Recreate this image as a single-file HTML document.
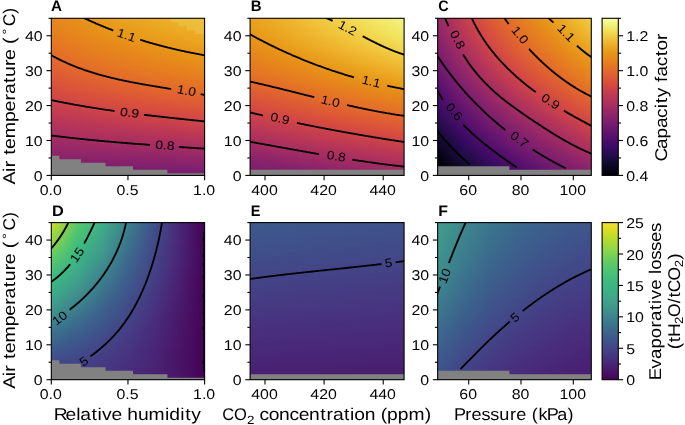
<!DOCTYPE html>
<html><head><meta charset="utf-8"><title>Figure</title>
<style>
html,body{margin:0;padding:0;background:#fff;}
svg{display:block;font-family:"Liberation Sans",sans-serif;fill:#000;}
text{-webkit-font-smoothing:antialiased;text-rendering:geometricPrecision;}
</style></head><body>
<svg width="685" height="425" viewBox="0 0 685 425">
<defs>
<clipPath id="cpA"><rect x="51.3" y="18.3" width="153.30" height="157.10"/></clipPath>
<linearGradient id="gA0"><stop offset="0.000" stop-color="#e6841b"/><stop offset="0.167" stop-color="#e79117"/><stop offset="0.333" stop-color="#e99c1a"/><stop offset="0.500" stop-color="#eba520"/><stop offset="0.667" stop-color="#ecaa24"/><stop offset="0.833" stop-color="#eeb22a"/><stop offset="1.000" stop-color="#eeb62d"/></linearGradient>
<linearGradient id="gA1"><stop offset="0.000" stop-color="#e6841b"/><stop offset="0.167" stop-color="#e79018"/><stop offset="0.333" stop-color="#e99a19"/><stop offset="0.500" stop-color="#eaa31e"/><stop offset="0.667" stop-color="#ecaa24"/><stop offset="0.833" stop-color="#edb028"/><stop offset="1.000" stop-color="#eeb62d"/></linearGradient>
<linearGradient id="gA2"><stop offset="0.000" stop-color="#e6831c"/><stop offset="0.167" stop-color="#e78e18"/><stop offset="0.333" stop-color="#e89818"/><stop offset="0.500" stop-color="#eaa11d"/><stop offset="0.667" stop-color="#eca922"/><stop offset="0.833" stop-color="#edae27"/><stop offset="1.000" stop-color="#eeb42c"/></linearGradient>
<linearGradient id="gA3"><stop offset="0.000" stop-color="#e6811d"/><stop offset="0.167" stop-color="#e78c18"/><stop offset="0.333" stop-color="#e89618"/><stop offset="0.500" stop-color="#e99f1c"/><stop offset="0.667" stop-color="#eba721"/><stop offset="0.833" stop-color="#ecac25"/><stop offset="1.000" stop-color="#eeb22a"/></linearGradient>
<linearGradient id="gA4"><stop offset="0.000" stop-color="#e6801d"/><stop offset="0.167" stop-color="#e68b19"/><stop offset="0.333" stop-color="#e89518"/><stop offset="0.500" stop-color="#e99d1b"/><stop offset="0.667" stop-color="#eba520"/><stop offset="0.833" stop-color="#ecac25"/><stop offset="1.000" stop-color="#eeb22a"/></linearGradient>
<linearGradient id="gA5"><stop offset="0.000" stop-color="#e67e1e"/><stop offset="0.167" stop-color="#e68b19"/><stop offset="0.333" stop-color="#e89518"/><stop offset="0.500" stop-color="#e99c1a"/><stop offset="0.667" stop-color="#eaa31e"/><stop offset="0.833" stop-color="#ecaa24"/><stop offset="1.000" stop-color="#edb028"/></linearGradient>
<linearGradient id="gA6"><stop offset="0.000" stop-color="#e67d1f"/><stop offset="0.167" stop-color="#e68919"/><stop offset="0.333" stop-color="#e89317"/><stop offset="0.500" stop-color="#e99a19"/><stop offset="0.667" stop-color="#eaa31e"/><stop offset="0.833" stop-color="#eca922"/><stop offset="1.000" stop-color="#edae27"/></linearGradient>
<linearGradient id="gA7"><stop offset="0.000" stop-color="#e67d1f"/><stop offset="0.167" stop-color="#e6881a"/><stop offset="0.333" stop-color="#e79117"/><stop offset="0.500" stop-color="#e99a19"/><stop offset="0.667" stop-color="#eaa11d"/><stop offset="0.833" stop-color="#eba721"/><stop offset="1.000" stop-color="#ecac25"/></linearGradient>
<linearGradient id="gA8"><stop offset="0.000" stop-color="#e67b20"/><stop offset="0.167" stop-color="#e6861b"/><stop offset="0.333" stop-color="#e79018"/><stop offset="0.500" stop-color="#e89818"/><stop offset="0.667" stop-color="#e99f1c"/><stop offset="0.833" stop-color="#eba520"/><stop offset="1.000" stop-color="#ecaa24"/></linearGradient>
<linearGradient id="gA9"><stop offset="0.000" stop-color="#e57921"/><stop offset="0.167" stop-color="#e6841b"/><stop offset="0.333" stop-color="#e78e18"/><stop offset="0.500" stop-color="#e89618"/><stop offset="0.667" stop-color="#e99d1b"/><stop offset="0.833" stop-color="#eaa31e"/><stop offset="1.000" stop-color="#eca922"/></linearGradient>
<linearGradient id="gA10"><stop offset="0.000" stop-color="#e57821"/><stop offset="0.167" stop-color="#e6831c"/><stop offset="0.333" stop-color="#e78c18"/><stop offset="0.500" stop-color="#e89317"/><stop offset="0.667" stop-color="#e99c1a"/><stop offset="0.833" stop-color="#eaa11d"/><stop offset="1.000" stop-color="#eba721"/></linearGradient>
<linearGradient id="gA11"><stop offset="0.000" stop-color="#e57622"/><stop offset="0.167" stop-color="#e6811d"/><stop offset="0.333" stop-color="#e68b19"/><stop offset="0.500" stop-color="#e79117"/><stop offset="0.667" stop-color="#e99a19"/><stop offset="0.833" stop-color="#e99f1c"/><stop offset="1.000" stop-color="#eba721"/></linearGradient>
<linearGradient id="gA12"><stop offset="0.000" stop-color="#e57523"/><stop offset="0.167" stop-color="#e6801d"/><stop offset="0.333" stop-color="#e6881a"/><stop offset="0.500" stop-color="#e79018"/><stop offset="0.667" stop-color="#e89618"/><stop offset="0.833" stop-color="#e99d1b"/><stop offset="1.000" stop-color="#eaa31e"/></linearGradient>
<linearGradient id="gA13"><stop offset="0.000" stop-color="#e57324"/><stop offset="0.167" stop-color="#e67e1e"/><stop offset="0.333" stop-color="#e6861b"/><stop offset="0.500" stop-color="#e78e18"/><stop offset="0.667" stop-color="#e89518"/><stop offset="0.833" stop-color="#e99c1a"/><stop offset="1.000" stop-color="#eaa11d"/></linearGradient>
<linearGradient id="gA14"><stop offset="0.000" stop-color="#e57225"/><stop offset="0.167" stop-color="#e67b20"/><stop offset="0.333" stop-color="#e6841b"/><stop offset="0.500" stop-color="#e78c18"/><stop offset="0.667" stop-color="#e89317"/><stop offset="0.833" stop-color="#e99a19"/><stop offset="1.000" stop-color="#e99f1c"/></linearGradient>
<linearGradient id="gA15"><stop offset="0.000" stop-color="#e46f26"/><stop offset="0.167" stop-color="#e57921"/><stop offset="0.333" stop-color="#e6831c"/><stop offset="0.500" stop-color="#e68b19"/><stop offset="0.667" stop-color="#e79117"/><stop offset="0.833" stop-color="#e89818"/><stop offset="1.000" stop-color="#e99d1b"/></linearGradient>
<linearGradient id="gA16"><stop offset="0.000" stop-color="#e46d27"/><stop offset="0.167" stop-color="#e57821"/><stop offset="0.333" stop-color="#e6811d"/><stop offset="0.500" stop-color="#e68919"/><stop offset="0.667" stop-color="#e79018"/><stop offset="0.833" stop-color="#e89618"/><stop offset="1.000" stop-color="#e99c1a"/></linearGradient>
<linearGradient id="gA17"><stop offset="0.000" stop-color="#e36c28"/><stop offset="0.167" stop-color="#e57622"/><stop offset="0.333" stop-color="#e6801d"/><stop offset="0.500" stop-color="#e6861b"/><stop offset="0.667" stop-color="#e78e18"/><stop offset="0.833" stop-color="#e89317"/><stop offset="1.000" stop-color="#e99a19"/></linearGradient>
<linearGradient id="gA18"><stop offset="0.000" stop-color="#e36a29"/><stop offset="0.167" stop-color="#e57523"/><stop offset="0.333" stop-color="#e67d1f"/><stop offset="0.500" stop-color="#e6841b"/><stop offset="0.667" stop-color="#e68b19"/><stop offset="0.833" stop-color="#e79117"/><stop offset="1.000" stop-color="#e89818"/></linearGradient>
<linearGradient id="gA19"><stop offset="0.000" stop-color="#e3692a"/><stop offset="0.167" stop-color="#e57324"/><stop offset="0.333" stop-color="#e67b20"/><stop offset="0.500" stop-color="#e6831c"/><stop offset="0.667" stop-color="#e68919"/><stop offset="0.833" stop-color="#e79018"/><stop offset="1.000" stop-color="#e89518"/></linearGradient>
<linearGradient id="gA20"><stop offset="0.000" stop-color="#e2672b"/><stop offset="0.167" stop-color="#e47026"/><stop offset="0.333" stop-color="#e57921"/><stop offset="0.500" stop-color="#e6811d"/><stop offset="0.667" stop-color="#e6881a"/><stop offset="0.833" stop-color="#e78c18"/><stop offset="1.000" stop-color="#e89317"/></linearGradient>
<linearGradient id="gA21"><stop offset="0.000" stop-color="#e2662c"/><stop offset="0.167" stop-color="#e46f26"/><stop offset="0.333" stop-color="#e57821"/><stop offset="0.500" stop-color="#e67e1e"/><stop offset="0.667" stop-color="#e6841b"/><stop offset="0.833" stop-color="#e68b19"/><stop offset="1.000" stop-color="#e79117"/></linearGradient>
<linearGradient id="gA22"><stop offset="0.000" stop-color="#e1632e"/><stop offset="0.167" stop-color="#e46d27"/><stop offset="0.333" stop-color="#e57523"/><stop offset="0.500" stop-color="#e67d1f"/><stop offset="0.667" stop-color="#e6831c"/><stop offset="0.833" stop-color="#e68919"/><stop offset="1.000" stop-color="#e78e18"/></linearGradient>
<linearGradient id="gA23"><stop offset="0.000" stop-color="#e1612f"/><stop offset="0.167" stop-color="#e36c28"/><stop offset="0.333" stop-color="#e57324"/><stop offset="0.500" stop-color="#e67b20"/><stop offset="0.667" stop-color="#e6811d"/><stop offset="0.833" stop-color="#e6861b"/><stop offset="1.000" stop-color="#e78c18"/></linearGradient>
<linearGradient id="gA24"><stop offset="0.000" stop-color="#e06030"/><stop offset="0.167" stop-color="#e3692a"/><stop offset="0.333" stop-color="#e57225"/><stop offset="0.500" stop-color="#e57821"/><stop offset="0.667" stop-color="#e67e1e"/><stop offset="0.833" stop-color="#e6841b"/><stop offset="1.000" stop-color="#e68b19"/></linearGradient>
<linearGradient id="gA25"><stop offset="0.000" stop-color="#e05f30"/><stop offset="0.167" stop-color="#e2672b"/><stop offset="0.333" stop-color="#e46f26"/><stop offset="0.500" stop-color="#e57622"/><stop offset="0.667" stop-color="#e67d1f"/><stop offset="0.833" stop-color="#e6811d"/><stop offset="1.000" stop-color="#e6881a"/></linearGradient>
<linearGradient id="gA26"><stop offset="0.000" stop-color="#df5c32"/><stop offset="0.167" stop-color="#e2662c"/><stop offset="0.333" stop-color="#e46d27"/><stop offset="0.500" stop-color="#e57324"/><stop offset="0.667" stop-color="#e57921"/><stop offset="0.833" stop-color="#e6801d"/><stop offset="1.000" stop-color="#e6861b"/></linearGradient>
<linearGradient id="gA27"><stop offset="0.000" stop-color="#de5a33"/><stop offset="0.167" stop-color="#e1632e"/><stop offset="0.333" stop-color="#e36a29"/><stop offset="0.500" stop-color="#e57225"/><stop offset="0.667" stop-color="#e57821"/><stop offset="0.833" stop-color="#e67e1e"/><stop offset="1.000" stop-color="#e6831c"/></linearGradient>
<linearGradient id="gA28"><stop offset="0.000" stop-color="#de5934"/><stop offset="0.167" stop-color="#e1612f"/><stop offset="0.333" stop-color="#e3692a"/><stop offset="0.500" stop-color="#e46f26"/><stop offset="0.667" stop-color="#e57523"/><stop offset="0.833" stop-color="#e67b20"/><stop offset="1.000" stop-color="#e6811d"/></linearGradient>
<linearGradient id="gA29"><stop offset="0.000" stop-color="#dc5636"/><stop offset="0.167" stop-color="#e05f30"/><stop offset="0.333" stop-color="#e2662c"/><stop offset="0.500" stop-color="#e46d27"/><stop offset="0.667" stop-color="#e57324"/><stop offset="0.833" stop-color="#e57821"/><stop offset="1.000" stop-color="#e67e1e"/></linearGradient>
<linearGradient id="gA30"><stop offset="0.000" stop-color="#dc5537"/><stop offset="0.167" stop-color="#df5d31"/><stop offset="0.333" stop-color="#e2642d"/><stop offset="0.500" stop-color="#e36a29"/><stop offset="0.667" stop-color="#e47026"/><stop offset="0.833" stop-color="#e57622"/><stop offset="1.000" stop-color="#e67d1f"/></linearGradient>
<linearGradient id="gA31"><stop offset="0.000" stop-color="#db5438"/><stop offset="0.167" stop-color="#de5a33"/><stop offset="0.333" stop-color="#e1612f"/><stop offset="0.500" stop-color="#e3692a"/><stop offset="0.667" stop-color="#e46f26"/><stop offset="0.833" stop-color="#e57324"/><stop offset="1.000" stop-color="#e57921"/></linearGradient>
<linearGradient id="gA32"><stop offset="0.000" stop-color="#da513a"/><stop offset="0.167" stop-color="#de5934"/><stop offset="0.333" stop-color="#e06030"/><stop offset="0.500" stop-color="#e2662c"/><stop offset="0.667" stop-color="#e36c28"/><stop offset="0.833" stop-color="#e57225"/><stop offset="1.000" stop-color="#e57622"/></linearGradient>
<linearGradient id="gA33"><stop offset="0.000" stop-color="#d9503b"/><stop offset="0.167" stop-color="#dd5835"/><stop offset="0.333" stop-color="#df5d31"/><stop offset="0.500" stop-color="#e2642d"/><stop offset="0.667" stop-color="#e3692a"/><stop offset="0.833" stop-color="#e46f26"/><stop offset="1.000" stop-color="#e57523"/></linearGradient>
<linearGradient id="gA34"><stop offset="0.000" stop-color="#d74d3e"/><stop offset="0.167" stop-color="#dc5537"/><stop offset="0.333" stop-color="#df5c32"/><stop offset="0.500" stop-color="#e1612f"/><stop offset="0.667" stop-color="#e2672b"/><stop offset="0.833" stop-color="#e36c28"/><stop offset="1.000" stop-color="#e57225"/></linearGradient>
<linearGradient id="gA35"><stop offset="0.000" stop-color="#d64c3f"/><stop offset="0.167" stop-color="#db5438"/><stop offset="0.333" stop-color="#de5934"/><stop offset="0.500" stop-color="#e05f30"/><stop offset="0.667" stop-color="#e2642d"/><stop offset="0.833" stop-color="#e36a29"/><stop offset="1.000" stop-color="#e46f26"/></linearGradient>
<linearGradient id="gA36"><stop offset="0.000" stop-color="#d54b40"/><stop offset="0.167" stop-color="#da513a"/><stop offset="0.333" stop-color="#dd5835"/><stop offset="0.500" stop-color="#df5d31"/><stop offset="0.667" stop-color="#e1612f"/><stop offset="0.833" stop-color="#e2672b"/><stop offset="1.000" stop-color="#e46d27"/></linearGradient>
<linearGradient id="gA37"><stop offset="0.000" stop-color="#d44842"/><stop offset="0.167" stop-color="#d9503b"/><stop offset="0.333" stop-color="#dc5537"/><stop offset="0.500" stop-color="#de5a33"/><stop offset="0.667" stop-color="#e06030"/><stop offset="0.833" stop-color="#e2642d"/><stop offset="1.000" stop-color="#e36a29"/></linearGradient>
<linearGradient id="gA38"><stop offset="0.000" stop-color="#d34743"/><stop offset="0.167" stop-color="#d74d3e"/><stop offset="0.333" stop-color="#da5239"/><stop offset="0.500" stop-color="#dd5835"/><stop offset="0.667" stop-color="#df5d31"/><stop offset="0.833" stop-color="#e1612f"/><stop offset="1.000" stop-color="#e2672b"/></linearGradient>
<linearGradient id="gA39"><stop offset="0.000" stop-color="#d04545"/><stop offset="0.167" stop-color="#d54b40"/><stop offset="0.333" stop-color="#da513a"/><stop offset="0.500" stop-color="#dc5636"/><stop offset="0.667" stop-color="#de5a33"/><stop offset="0.833" stop-color="#e06030"/><stop offset="1.000" stop-color="#e2642d"/></linearGradient>
<linearGradient id="gA40"><stop offset="0.000" stop-color="#cf4446"/><stop offset="0.167" stop-color="#d44a41"/><stop offset="0.333" stop-color="#d84e3c"/><stop offset="0.500" stop-color="#db5438"/><stop offset="0.667" stop-color="#dd5835"/><stop offset="0.833" stop-color="#df5d31"/><stop offset="1.000" stop-color="#e1612f"/></linearGradient>
<linearGradient id="gA41"><stop offset="0.000" stop-color="#cc4248"/><stop offset="0.167" stop-color="#d34743"/><stop offset="0.333" stop-color="#d64c3f"/><stop offset="0.500" stop-color="#da513a"/><stop offset="0.667" stop-color="#dc5636"/><stop offset="0.833" stop-color="#de5a33"/><stop offset="1.000" stop-color="#e05f30"/></linearGradient>
<linearGradient id="gA42"><stop offset="0.000" stop-color="#cb4149"/><stop offset="0.167" stop-color="#d24644"/><stop offset="0.333" stop-color="#d54b40"/><stop offset="0.500" stop-color="#d84e3c"/><stop offset="0.667" stop-color="#db5438"/><stop offset="0.833" stop-color="#dd5835"/><stop offset="1.000" stop-color="#df5d31"/></linearGradient>
<linearGradient id="gA43"><stop offset="0.000" stop-color="#c83f4b"/><stop offset="0.167" stop-color="#cf4446"/><stop offset="0.333" stop-color="#d44842"/><stop offset="0.500" stop-color="#d74d3e"/><stop offset="0.667" stop-color="#da513a"/><stop offset="0.833" stop-color="#dc5537"/><stop offset="1.000" stop-color="#de5a33"/></linearGradient>
<linearGradient id="gA44"><stop offset="0.000" stop-color="#c73e4c"/><stop offset="0.167" stop-color="#cc4248"/><stop offset="0.333" stop-color="#d24644"/><stop offset="0.500" stop-color="#d54b40"/><stop offset="0.667" stop-color="#d84e3c"/><stop offset="0.833" stop-color="#da5239"/><stop offset="1.000" stop-color="#dd5835"/></linearGradient>
<linearGradient id="gA45"><stop offset="0.000" stop-color="#c43c4e"/><stop offset="0.167" stop-color="#cb4149"/><stop offset="0.333" stop-color="#d04545"/><stop offset="0.500" stop-color="#d44842"/><stop offset="0.667" stop-color="#d64c3f"/><stop offset="0.833" stop-color="#d9503b"/><stop offset="1.000" stop-color="#dc5537"/></linearGradient>
<linearGradient id="gA46"><stop offset="0.000" stop-color="#c33b4f"/><stop offset="0.167" stop-color="#c83f4b"/><stop offset="0.333" stop-color="#ce4347"/><stop offset="0.500" stop-color="#d24644"/><stop offset="0.667" stop-color="#d44a41"/><stop offset="0.833" stop-color="#d74d3e"/><stop offset="1.000" stop-color="#da5239"/></linearGradient>
<linearGradient id="gA47"><stop offset="0.000" stop-color="#c03a51"/><stop offset="0.167" stop-color="#c63d4d"/><stop offset="0.333" stop-color="#cb4149"/><stop offset="0.500" stop-color="#cf4446"/><stop offset="0.667" stop-color="#d34743"/><stop offset="0.833" stop-color="#d54b40"/><stop offset="1.000" stop-color="#d9503b"/></linearGradient>
<linearGradient id="gA48"><stop offset="0.000" stop-color="#bf3952"/><stop offset="0.167" stop-color="#c43c4e"/><stop offset="0.333" stop-color="#c83f4b"/><stop offset="0.500" stop-color="#cc4248"/><stop offset="0.667" stop-color="#d04545"/><stop offset="0.833" stop-color="#d44842"/><stop offset="1.000" stop-color="#d74d3e"/></linearGradient>
<linearGradient id="gA49"><stop offset="0.000" stop-color="#bc3754"/><stop offset="0.167" stop-color="#c13a50"/><stop offset="0.333" stop-color="#c73e4c"/><stop offset="0.500" stop-color="#cb4149"/><stop offset="0.667" stop-color="#ce4347"/><stop offset="0.833" stop-color="#d24644"/><stop offset="1.000" stop-color="#d54b40"/></linearGradient>
<linearGradient id="gA50"><stop offset="0.000" stop-color="#b93556"/><stop offset="0.167" stop-color="#bf3952"/><stop offset="0.333" stop-color="#c43c4e"/><stop offset="0.500" stop-color="#c83f4b"/><stop offset="0.667" stop-color="#cc4248"/><stop offset="0.833" stop-color="#cf4446"/><stop offset="1.000" stop-color="#d44842"/></linearGradient>
<linearGradient id="gA51"><stop offset="0.000" stop-color="#b73557"/><stop offset="0.167" stop-color="#bd3853"/><stop offset="0.333" stop-color="#c13a50"/><stop offset="0.500" stop-color="#c63d4d"/><stop offset="0.667" stop-color="#ca404a"/><stop offset="0.833" stop-color="#cc4248"/><stop offset="1.000" stop-color="#d24644"/></linearGradient>
<linearGradient id="gA52"><stop offset="0.000" stop-color="#b43359"/><stop offset="0.167" stop-color="#ba3655"/><stop offset="0.333" stop-color="#bf3952"/><stop offset="0.500" stop-color="#c33b4f"/><stop offset="0.667" stop-color="#c73e4c"/><stop offset="0.833" stop-color="#ca404a"/><stop offset="1.000" stop-color="#cf4446"/></linearGradient>
<linearGradient id="gA53"><stop offset="0.000" stop-color="#b3325a"/><stop offset="0.167" stop-color="#b73557"/><stop offset="0.333" stop-color="#bc3754"/><stop offset="0.500" stop-color="#c03a51"/><stop offset="0.667" stop-color="#c43c4e"/><stop offset="0.833" stop-color="#c73e4c"/><stop offset="1.000" stop-color="#cb4149"/></linearGradient>
<linearGradient id="gA54"><stop offset="0.000" stop-color="#b0315b"/><stop offset="0.167" stop-color="#b63458"/><stop offset="0.333" stop-color="#b93556"/><stop offset="0.500" stop-color="#bd3853"/><stop offset="0.667" stop-color="#c13a50"/><stop offset="0.833" stop-color="#c43c4e"/><stop offset="1.000" stop-color="#c83f4b"/></linearGradient>
<linearGradient id="gA55"><stop offset="0.000" stop-color="#ad305d"/><stop offset="0.167" stop-color="#b3325a"/><stop offset="0.333" stop-color="#b73557"/><stop offset="0.500" stop-color="#ba3655"/><stop offset="0.667" stop-color="#bf3952"/><stop offset="0.833" stop-color="#c13a50"/><stop offset="1.000" stop-color="#c63d4d"/></linearGradient>
<linearGradient id="gA56"><stop offset="0.000" stop-color="#ab2f5e"/><stop offset="0.167" stop-color="#b0315b"/><stop offset="0.333" stop-color="#b43359"/><stop offset="0.500" stop-color="#b73557"/><stop offset="0.667" stop-color="#bc3754"/><stop offset="0.833" stop-color="#bf3952"/><stop offset="1.000" stop-color="#c33b4f"/></linearGradient>
<linearGradient id="gA57"><stop offset="0.000" stop-color="#a82e5f"/><stop offset="0.167" stop-color="#ad305d"/><stop offset="0.333" stop-color="#b1325a"/><stop offset="0.500" stop-color="#b43359"/><stop offset="0.667" stop-color="#b73557"/><stop offset="0.833" stop-color="#bc3754"/><stop offset="1.000" stop-color="#c03a51"/></linearGradient>
<linearGradient id="gA58"><stop offset="0.000" stop-color="#a62d60"/><stop offset="0.167" stop-color="#ab2f5e"/><stop offset="0.333" stop-color="#ae305c"/><stop offset="0.500" stop-color="#b1325a"/><stop offset="0.667" stop-color="#b43359"/><stop offset="0.833" stop-color="#b93556"/><stop offset="1.000" stop-color="#bd3853"/></linearGradient>
<linearGradient id="gA59"><stop offset="0.000" stop-color="#a32c61"/><stop offset="0.167" stop-color="#a82e5f"/><stop offset="0.333" stop-color="#ab2f5e"/><stop offset="0.500" stop-color="#ae305c"/><stop offset="0.667" stop-color="#b1325a"/><stop offset="0.833" stop-color="#b63458"/><stop offset="1.000" stop-color="#b93556"/></linearGradient>
<linearGradient id="gA60"><stop offset="0.000" stop-color="#a02a63"/><stop offset="0.167" stop-color="#a52c60"/><stop offset="0.333" stop-color="#a82e5f"/><stop offset="0.500" stop-color="#ab2f5e"/><stop offset="0.667" stop-color="#ae305c"/><stop offset="0.833" stop-color="#b1325a"/><stop offset="1.000" stop-color="#b63458"/></linearGradient>
<linearGradient id="gA61"><stop offset="0.000" stop-color="#9f2a63"/><stop offset="0.167" stop-color="#a22b62"/><stop offset="0.333" stop-color="#a52c60"/><stop offset="0.500" stop-color="#a82e5f"/><stop offset="0.667" stop-color="#ab2f5e"/><stop offset="0.833" stop-color="#ae305c"/><stop offset="1.000" stop-color="#b3325a"/></linearGradient>
<linearGradient id="gA62"><stop offset="0.000" stop-color="#9b2964"/><stop offset="0.167" stop-color="#a02a63"/><stop offset="0.333" stop-color="#a22b62"/><stop offset="0.500" stop-color="#a52c60"/><stop offset="0.667" stop-color="#a82e5f"/><stop offset="0.833" stop-color="#ab2f5e"/><stop offset="1.000" stop-color="#b0315b"/></linearGradient>
<linearGradient id="gA63"><stop offset="0.000" stop-color="#982766"/><stop offset="0.167" stop-color="#9d2964"/><stop offset="0.333" stop-color="#a02a63"/><stop offset="0.500" stop-color="#a22b62"/><stop offset="0.667" stop-color="#a52c60"/><stop offset="0.833" stop-color="#a82e5f"/><stop offset="1.000" stop-color="#ab2f5e"/></linearGradient>
<linearGradient id="gA64"><stop offset="0.000" stop-color="#972766"/><stop offset="0.167" stop-color="#9a2865"/><stop offset="0.333" stop-color="#9d2964"/><stop offset="0.500" stop-color="#9f2a63"/><stop offset="0.667" stop-color="#a22b62"/><stop offset="0.833" stop-color="#a52c60"/><stop offset="1.000" stop-color="#a82e5f"/></linearGradient>
<linearGradient id="gA65"><stop offset="0.000" stop-color="#932667"/><stop offset="0.167" stop-color="#972766"/><stop offset="0.333" stop-color="#9a2865"/><stop offset="0.500" stop-color="#9b2964"/><stop offset="0.667" stop-color="#9f2a63"/><stop offset="0.833" stop-color="#a02a63"/><stop offset="1.000" stop-color="#a52c60"/></linearGradient>
<linearGradient id="gA66"><stop offset="0.000" stop-color="#922568"/><stop offset="0.167" stop-color="#932667"/><stop offset="0.333" stop-color="#972766"/><stop offset="0.500" stop-color="#982766"/><stop offset="0.667" stop-color="#9a2865"/><stop offset="0.833" stop-color="#9d2964"/><stop offset="1.000" stop-color="#a02a63"/></linearGradient>
<linearGradient id="gA67"><stop offset="0.000" stop-color="#8f2469"/><stop offset="0.167" stop-color="#922568"/><stop offset="0.333" stop-color="#932667"/><stop offset="0.500" stop-color="#952667"/><stop offset="0.667" stop-color="#972766"/><stop offset="0.833" stop-color="#9a2865"/><stop offset="1.000" stop-color="#9d2964"/></linearGradient>
<linearGradient id="gA68"><stop offset="0.000" stop-color="#8c2369"/><stop offset="0.167" stop-color="#8f2469"/><stop offset="0.333" stop-color="#902568"/><stop offset="0.500" stop-color="#922568"/><stop offset="0.667" stop-color="#932667"/><stop offset="0.833" stop-color="#972766"/><stop offset="1.000" stop-color="#9a2865"/></linearGradient>
<linearGradient id="gA69"><stop offset="0.000" stop-color="#8a226a"/><stop offset="0.167" stop-color="#8c2369"/><stop offset="0.333" stop-color="#8d2369"/><stop offset="0.500" stop-color="#8f2469"/><stop offset="0.667" stop-color="#902568"/><stop offset="0.833" stop-color="#922568"/><stop offset="1.000" stop-color="#952667"/></linearGradient>
<linearGradient id="gA70"><stop offset="0.000" stop-color="#87216b"/><stop offset="0.167" stop-color="#88226a"/><stop offset="0.333" stop-color="#8a226a"/><stop offset="0.500" stop-color="#8c2369"/><stop offset="0.667" stop-color="#8d2369"/><stop offset="0.833" stop-color="#8f2469"/><stop offset="1.000" stop-color="#922568"/></linearGradient>
<linearGradient id="gA71"><stop offset="0.000" stop-color="#84206b"/><stop offset="0.167" stop-color="#85216b"/><stop offset="0.333" stop-color="#87216b"/><stop offset="0.500" stop-color="#88226a"/><stop offset="0.667" stop-color="#8a226a"/><stop offset="0.833" stop-color="#8c2369"/><stop offset="1.000" stop-color="#8f2469"/></linearGradient>
<linearGradient id="gA72"><stop offset="0.000" stop-color="#82206c"/><stop offset="0.167" stop-color="#84206b"/><stop offset="0.333" stop-color="#84206b"/><stop offset="0.500" stop-color="#85216b"/><stop offset="0.667" stop-color="#85216b"/><stop offset="0.833" stop-color="#87216b"/><stop offset="1.000" stop-color="#8a226a"/></linearGradient>
<linearGradient id="gA73"><stop offset="0.000" stop-color="#7f1e6c"/><stop offset="0.167" stop-color="#801f6c"/><stop offset="0.333" stop-color="#801f6c"/><stop offset="0.500" stop-color="#82206c"/><stop offset="0.667" stop-color="#82206c"/><stop offset="0.833" stop-color="#84206b"/><stop offset="1.000" stop-color="#87216b"/></linearGradient>
<linearGradient id="gA74"><stop offset="0.000" stop-color="#7c1d6d"/><stop offset="0.167" stop-color="#7d1e6d"/><stop offset="0.333" stop-color="#7d1e6d"/><stop offset="0.500" stop-color="#7d1e6d"/><stop offset="0.667" stop-color="#7f1e6c"/><stop offset="0.833" stop-color="#801f6c"/><stop offset="1.000" stop-color="#82206c"/></linearGradient>
<linearGradient id="gA75"><stop offset="0.000" stop-color="#7a1d6d"/><stop offset="0.167" stop-color="#7a1d6d"/><stop offset="0.333" stop-color="#7a1d6d"/><stop offset="0.500" stop-color="#7a1d6d"/><stop offset="0.667" stop-color="#7c1d6d"/><stop offset="0.833" stop-color="#7c1d6d"/><stop offset="1.000" stop-color="#7f1e6c"/></linearGradient>
<linearGradient id="gA76"><stop offset="0.000" stop-color="#771c6d"/><stop offset="0.167" stop-color="#771c6d"/><stop offset="0.333" stop-color="#771c6d"/><stop offset="0.500" stop-color="#771c6d"/><stop offset="0.667" stop-color="#771c6d"/><stop offset="0.833" stop-color="#781c6d"/><stop offset="1.000" stop-color="#7c1d6d"/></linearGradient>
<linearGradient id="gA77"><stop offset="0.000" stop-color="#751b6e"/><stop offset="0.167" stop-color="#751b6e"/><stop offset="0.333" stop-color="#741a6e"/><stop offset="0.500" stop-color="#741a6e"/><stop offset="0.667" stop-color="#741a6e"/><stop offset="0.833" stop-color="#751b6e"/><stop offset="1.000" stop-color="#771c6d"/></linearGradient>
<linearGradient id="gA78"><stop offset="0.000" stop-color="#721a6e"/><stop offset="0.167" stop-color="#721a6e"/><stop offset="0.333" stop-color="#71196e"/><stop offset="0.500" stop-color="#71196e"/><stop offset="0.667" stop-color="#71196e"/><stop offset="0.833" stop-color="#71196e"/><stop offset="1.000" stop-color="#741a6e"/></linearGradient>
<clipPath id="cpB"><rect x="250.1" y="18.3" width="154.00" height="157.10"/></clipPath>
<linearGradient id="gB0"><stop offset="0.000" stop-color="#e99f1c"/><stop offset="0.167" stop-color="#ecac25"/><stop offset="0.333" stop-color="#efbc33"/><stop offset="0.500" stop-color="#f1cb41"/><stop offset="0.667" stop-color="#f1db52"/><stop offset="0.833" stop-color="#f2e865"/><stop offset="1.000" stop-color="#f2f27d"/></linearGradient>
<linearGradient id="gB1"><stop offset="0.000" stop-color="#e99f1c"/><stop offset="0.167" stop-color="#ecac25"/><stop offset="0.333" stop-color="#efba31"/><stop offset="0.500" stop-color="#f1c93e"/><stop offset="0.667" stop-color="#f1d94f"/><stop offset="0.833" stop-color="#f2e865"/><stop offset="1.000" stop-color="#f2f27d"/></linearGradient>
<linearGradient id="gB2"><stop offset="0.000" stop-color="#e99d1b"/><stop offset="0.167" stop-color="#ecaa24"/><stop offset="0.333" stop-color="#efb82f"/><stop offset="0.500" stop-color="#f1c93e"/><stop offset="0.667" stop-color="#f1d94f"/><stop offset="0.833" stop-color="#f2e661"/><stop offset="1.000" stop-color="#f1f179"/></linearGradient>
<linearGradient id="gB3"><stop offset="0.000" stop-color="#e99c1a"/><stop offset="0.167" stop-color="#ecaa24"/><stop offset="0.333" stop-color="#efb82f"/><stop offset="0.500" stop-color="#f1c73c"/><stop offset="0.667" stop-color="#f1d64d"/><stop offset="0.833" stop-color="#f2e45e"/><stop offset="1.000" stop-color="#f1ef75"/></linearGradient>
<linearGradient id="gB4"><stop offset="0.000" stop-color="#e99c1a"/><stop offset="0.167" stop-color="#eca922"/><stop offset="0.333" stop-color="#eeb62d"/><stop offset="0.500" stop-color="#f0c53a"/><stop offset="0.667" stop-color="#f1d44a"/><stop offset="0.833" stop-color="#f2e15b"/><stop offset="1.000" stop-color="#f1ed71"/></linearGradient>
<linearGradient id="gB5"><stop offset="0.000" stop-color="#e99a19"/><stop offset="0.167" stop-color="#eba721"/><stop offset="0.333" stop-color="#eeb42c"/><stop offset="0.500" stop-color="#f0c338"/><stop offset="0.667" stop-color="#f1d248"/><stop offset="0.833" stop-color="#f2e15b"/><stop offset="1.000" stop-color="#f1ec6d"/></linearGradient>
<linearGradient id="gB6"><stop offset="0.000" stop-color="#e89818"/><stop offset="0.167" stop-color="#eba520"/><stop offset="0.333" stop-color="#eeb22a"/><stop offset="0.500" stop-color="#f0c136"/><stop offset="0.667" stop-color="#f1d045"/><stop offset="0.833" stop-color="#f2df58"/><stop offset="1.000" stop-color="#f1ec6d"/></linearGradient>
<linearGradient id="gB7"><stop offset="0.000" stop-color="#e89618"/><stop offset="0.167" stop-color="#eaa31e"/><stop offset="0.333" stop-color="#eeb22a"/><stop offset="0.500" stop-color="#f0c136"/><stop offset="0.667" stop-color="#f1ce43"/><stop offset="0.833" stop-color="#f2dd55"/><stop offset="1.000" stop-color="#f2ea69"/></linearGradient>
<linearGradient id="gB8"><stop offset="0.000" stop-color="#e89618"/><stop offset="0.167" stop-color="#eaa31e"/><stop offset="0.333" stop-color="#edb028"/><stop offset="0.500" stop-color="#f0bf34"/><stop offset="0.667" stop-color="#f1cb41"/><stop offset="0.833" stop-color="#f1db52"/><stop offset="1.000" stop-color="#f2e865"/></linearGradient>
<linearGradient id="gB9"><stop offset="0.000" stop-color="#e89518"/><stop offset="0.167" stop-color="#eaa11d"/><stop offset="0.333" stop-color="#edae27"/><stop offset="0.500" stop-color="#efbc33"/><stop offset="0.667" stop-color="#f1c93e"/><stop offset="0.833" stop-color="#f1d94f"/><stop offset="1.000" stop-color="#f2e661"/></linearGradient>
<linearGradient id="gB10"><stop offset="0.000" stop-color="#e89317"/><stop offset="0.167" stop-color="#e99f1c"/><stop offset="0.333" stop-color="#ecac25"/><stop offset="0.500" stop-color="#efba31"/><stop offset="0.667" stop-color="#f1c73c"/><stop offset="0.833" stop-color="#f1d64d"/><stop offset="1.000" stop-color="#f2e45e"/></linearGradient>
<linearGradient id="gB11"><stop offset="0.000" stop-color="#e79117"/><stop offset="0.167" stop-color="#e99d1b"/><stop offset="0.333" stop-color="#ecaa24"/><stop offset="0.500" stop-color="#efb82f"/><stop offset="0.667" stop-color="#f0c53a"/><stop offset="0.833" stop-color="#f1d44a"/><stop offset="1.000" stop-color="#f2df58"/></linearGradient>
<linearGradient id="gB12"><stop offset="0.000" stop-color="#e79018"/><stop offset="0.167" stop-color="#e99c1a"/><stop offset="0.333" stop-color="#eca922"/><stop offset="0.500" stop-color="#eeb42c"/><stop offset="0.667" stop-color="#f0c338"/><stop offset="0.833" stop-color="#f1d248"/><stop offset="1.000" stop-color="#f2dd55"/></linearGradient>
<linearGradient id="gB13"><stop offset="0.000" stop-color="#e78e18"/><stop offset="0.167" stop-color="#e99a19"/><stop offset="0.333" stop-color="#eba520"/><stop offset="0.500" stop-color="#eeb22a"/><stop offset="0.667" stop-color="#f0c136"/><stop offset="0.833" stop-color="#f1ce43"/><stop offset="1.000" stop-color="#f1db52"/></linearGradient>
<linearGradient id="gB14"><stop offset="0.000" stop-color="#e78c18"/><stop offset="0.167" stop-color="#e89618"/><stop offset="0.333" stop-color="#eaa31e"/><stop offset="0.500" stop-color="#edb028"/><stop offset="0.667" stop-color="#f0bf34"/><stop offset="0.833" stop-color="#f1cb41"/><stop offset="1.000" stop-color="#f1d94f"/></linearGradient>
<linearGradient id="gB15"><stop offset="0.000" stop-color="#e68b19"/><stop offset="0.167" stop-color="#e89518"/><stop offset="0.333" stop-color="#eaa11d"/><stop offset="0.500" stop-color="#edae27"/><stop offset="0.667" stop-color="#efbc33"/><stop offset="0.833" stop-color="#f1c93e"/><stop offset="1.000" stop-color="#f1d64d"/></linearGradient>
<linearGradient id="gB16"><stop offset="0.000" stop-color="#e6881a"/><stop offset="0.167" stop-color="#e89317"/><stop offset="0.333" stop-color="#e99f1c"/><stop offset="0.500" stop-color="#ecac25"/><stop offset="0.667" stop-color="#efb82f"/><stop offset="0.833" stop-color="#f1c73c"/><stop offset="1.000" stop-color="#f1d248"/></linearGradient>
<linearGradient id="gB17"><stop offset="0.000" stop-color="#e6861b"/><stop offset="0.167" stop-color="#e79117"/><stop offset="0.333" stop-color="#e99d1b"/><stop offset="0.500" stop-color="#eca922"/><stop offset="0.667" stop-color="#eeb62d"/><stop offset="0.833" stop-color="#f0c338"/><stop offset="1.000" stop-color="#f1d045"/></linearGradient>
<linearGradient id="gB18"><stop offset="0.000" stop-color="#e6841b"/><stop offset="0.167" stop-color="#e79018"/><stop offset="0.333" stop-color="#e99a19"/><stop offset="0.500" stop-color="#eba721"/><stop offset="0.667" stop-color="#eeb42c"/><stop offset="0.833" stop-color="#f0c136"/><stop offset="1.000" stop-color="#f1ce43"/></linearGradient>
<linearGradient id="gB19"><stop offset="0.000" stop-color="#e6831c"/><stop offset="0.167" stop-color="#e78c18"/><stop offset="0.333" stop-color="#e89818"/><stop offset="0.500" stop-color="#eba520"/><stop offset="0.667" stop-color="#edb028"/><stop offset="0.833" stop-color="#efbc33"/><stop offset="1.000" stop-color="#f1c93e"/></linearGradient>
<linearGradient id="gB20"><stop offset="0.000" stop-color="#e6801d"/><stop offset="0.167" stop-color="#e68b19"/><stop offset="0.333" stop-color="#e89618"/><stop offset="0.500" stop-color="#eaa11d"/><stop offset="0.667" stop-color="#edae27"/><stop offset="0.833" stop-color="#efba31"/><stop offset="1.000" stop-color="#f1c73c"/></linearGradient>
<linearGradient id="gB21"><stop offset="0.000" stop-color="#e67e1e"/><stop offset="0.167" stop-color="#e68919"/><stop offset="0.333" stop-color="#e89317"/><stop offset="0.500" stop-color="#e99f1c"/><stop offset="0.667" stop-color="#ecaa24"/><stop offset="0.833" stop-color="#efb82f"/><stop offset="1.000" stop-color="#f0c338"/></linearGradient>
<linearGradient id="gB22"><stop offset="0.000" stop-color="#e67d1f"/><stop offset="0.167" stop-color="#e6861b"/><stop offset="0.333" stop-color="#e79117"/><stop offset="0.500" stop-color="#e99d1b"/><stop offset="0.667" stop-color="#eca922"/><stop offset="0.833" stop-color="#eeb42c"/><stop offset="1.000" stop-color="#f0c136"/></linearGradient>
<linearGradient id="gB23"><stop offset="0.000" stop-color="#e57921"/><stop offset="0.167" stop-color="#e6841b"/><stop offset="0.333" stop-color="#e78e18"/><stop offset="0.500" stop-color="#e99a19"/><stop offset="0.667" stop-color="#eba520"/><stop offset="0.833" stop-color="#eeb22a"/><stop offset="1.000" stop-color="#efbc33"/></linearGradient>
<linearGradient id="gB24"><stop offset="0.000" stop-color="#e57821"/><stop offset="0.167" stop-color="#e6811d"/><stop offset="0.333" stop-color="#e78c18"/><stop offset="0.500" stop-color="#e89818"/><stop offset="0.667" stop-color="#eaa31e"/><stop offset="0.833" stop-color="#edae27"/><stop offset="1.000" stop-color="#efba31"/></linearGradient>
<linearGradient id="gB25"><stop offset="0.000" stop-color="#e57622"/><stop offset="0.167" stop-color="#e6801d"/><stop offset="0.333" stop-color="#e68919"/><stop offset="0.500" stop-color="#e89518"/><stop offset="0.667" stop-color="#e99f1c"/><stop offset="0.833" stop-color="#ecaa24"/><stop offset="1.000" stop-color="#eeb62d"/></linearGradient>
<linearGradient id="gB26"><stop offset="0.000" stop-color="#e57324"/><stop offset="0.167" stop-color="#e67d1f"/><stop offset="0.333" stop-color="#e6881a"/><stop offset="0.500" stop-color="#e79117"/><stop offset="0.667" stop-color="#e99d1b"/><stop offset="0.833" stop-color="#eca922"/><stop offset="1.000" stop-color="#eeb22a"/></linearGradient>
<linearGradient id="gB27"><stop offset="0.000" stop-color="#e57225"/><stop offset="0.167" stop-color="#e67b20"/><stop offset="0.333" stop-color="#e6841b"/><stop offset="0.500" stop-color="#e79018"/><stop offset="0.667" stop-color="#e99a19"/><stop offset="0.833" stop-color="#eba520"/><stop offset="1.000" stop-color="#edb028"/></linearGradient>
<linearGradient id="gB28"><stop offset="0.000" stop-color="#e46f26"/><stop offset="0.167" stop-color="#e57821"/><stop offset="0.333" stop-color="#e6831c"/><stop offset="0.500" stop-color="#e78c18"/><stop offset="0.667" stop-color="#e89818"/><stop offset="0.833" stop-color="#eaa11d"/><stop offset="1.000" stop-color="#ecac25"/></linearGradient>
<linearGradient id="gB29"><stop offset="0.000" stop-color="#e46d27"/><stop offset="0.167" stop-color="#e57622"/><stop offset="0.333" stop-color="#e6801d"/><stop offset="0.500" stop-color="#e68b19"/><stop offset="0.667" stop-color="#e89518"/><stop offset="0.833" stop-color="#e99f1c"/><stop offset="1.000" stop-color="#eca922"/></linearGradient>
<linearGradient id="gB30"><stop offset="0.000" stop-color="#e36a29"/><stop offset="0.167" stop-color="#e57324"/><stop offset="0.333" stop-color="#e67e1e"/><stop offset="0.500" stop-color="#e6881a"/><stop offset="0.667" stop-color="#e79117"/><stop offset="0.833" stop-color="#e99c1a"/><stop offset="1.000" stop-color="#eba520"/></linearGradient>
<linearGradient id="gB31"><stop offset="0.000" stop-color="#e2672b"/><stop offset="0.167" stop-color="#e57225"/><stop offset="0.333" stop-color="#e67b20"/><stop offset="0.500" stop-color="#e6841b"/><stop offset="0.667" stop-color="#e78e18"/><stop offset="0.833" stop-color="#e89818"/><stop offset="1.000" stop-color="#eaa31e"/></linearGradient>
<linearGradient id="gB32"><stop offset="0.000" stop-color="#e2662c"/><stop offset="0.167" stop-color="#e46f26"/><stop offset="0.333" stop-color="#e57821"/><stop offset="0.500" stop-color="#e6831c"/><stop offset="0.667" stop-color="#e78c18"/><stop offset="0.833" stop-color="#e89518"/><stop offset="1.000" stop-color="#e99f1c"/></linearGradient>
<linearGradient id="gB33"><stop offset="0.000" stop-color="#e1632e"/><stop offset="0.167" stop-color="#e36c28"/><stop offset="0.333" stop-color="#e57523"/><stop offset="0.500" stop-color="#e6801d"/><stop offset="0.667" stop-color="#e68919"/><stop offset="0.833" stop-color="#e89317"/><stop offset="1.000" stop-color="#e99c1a"/></linearGradient>
<linearGradient id="gB34"><stop offset="0.000" stop-color="#e1612f"/><stop offset="0.167" stop-color="#e36a29"/><stop offset="0.333" stop-color="#e57324"/><stop offset="0.500" stop-color="#e67d1f"/><stop offset="0.667" stop-color="#e6861b"/><stop offset="0.833" stop-color="#e79018"/><stop offset="1.000" stop-color="#e89818"/></linearGradient>
<linearGradient id="gB35"><stop offset="0.000" stop-color="#e05f30"/><stop offset="0.167" stop-color="#e2672b"/><stop offset="0.333" stop-color="#e47026"/><stop offset="0.500" stop-color="#e57921"/><stop offset="0.667" stop-color="#e6831c"/><stop offset="0.833" stop-color="#e78c18"/><stop offset="1.000" stop-color="#e89518"/></linearGradient>
<linearGradient id="gB36"><stop offset="0.000" stop-color="#df5c32"/><stop offset="0.167" stop-color="#e2642d"/><stop offset="0.333" stop-color="#e46d27"/><stop offset="0.500" stop-color="#e57622"/><stop offset="0.667" stop-color="#e6801d"/><stop offset="0.833" stop-color="#e68919"/><stop offset="1.000" stop-color="#e79117"/></linearGradient>
<linearGradient id="gB37"><stop offset="0.000" stop-color="#de5a33"/><stop offset="0.167" stop-color="#e1612f"/><stop offset="0.333" stop-color="#e36a29"/><stop offset="0.500" stop-color="#e57523"/><stop offset="0.667" stop-color="#e67e1e"/><stop offset="0.833" stop-color="#e6861b"/><stop offset="1.000" stop-color="#e78e18"/></linearGradient>
<linearGradient id="gB38"><stop offset="0.000" stop-color="#dd5835"/><stop offset="0.167" stop-color="#e06030"/><stop offset="0.333" stop-color="#e3692a"/><stop offset="0.500" stop-color="#e57225"/><stop offset="0.667" stop-color="#e67b20"/><stop offset="0.833" stop-color="#e6831c"/><stop offset="1.000" stop-color="#e68b19"/></linearGradient>
<linearGradient id="gB39"><stop offset="0.000" stop-color="#dc5537"/><stop offset="0.167" stop-color="#df5d31"/><stop offset="0.333" stop-color="#e2662c"/><stop offset="0.500" stop-color="#e46f26"/><stop offset="0.667" stop-color="#e57821"/><stop offset="0.833" stop-color="#e6801d"/><stop offset="1.000" stop-color="#e6881a"/></linearGradient>
<linearGradient id="gB40"><stop offset="0.000" stop-color="#da5239"/><stop offset="0.167" stop-color="#de5a33"/><stop offset="0.333" stop-color="#e1632e"/><stop offset="0.500" stop-color="#e36c28"/><stop offset="0.667" stop-color="#e57523"/><stop offset="0.833" stop-color="#e67d1f"/><stop offset="1.000" stop-color="#e6841b"/></linearGradient>
<linearGradient id="gB41"><stop offset="0.000" stop-color="#d9503b"/><stop offset="0.167" stop-color="#dd5835"/><stop offset="0.333" stop-color="#e06030"/><stop offset="0.500" stop-color="#e3692a"/><stop offset="0.667" stop-color="#e57225"/><stop offset="0.833" stop-color="#e57921"/><stop offset="1.000" stop-color="#e6811d"/></linearGradient>
<linearGradient id="gB42"><stop offset="0.000" stop-color="#d84e3c"/><stop offset="0.167" stop-color="#dc5537"/><stop offset="0.333" stop-color="#df5d31"/><stop offset="0.500" stop-color="#e2662c"/><stop offset="0.667" stop-color="#e46f26"/><stop offset="0.833" stop-color="#e57622"/><stop offset="1.000" stop-color="#e67e1e"/></linearGradient>
<linearGradient id="gB43"><stop offset="0.000" stop-color="#d64c3f"/><stop offset="0.167" stop-color="#da5239"/><stop offset="0.333" stop-color="#de5a33"/><stop offset="0.500" stop-color="#e1632e"/><stop offset="0.667" stop-color="#e36c28"/><stop offset="0.833" stop-color="#e57324"/><stop offset="1.000" stop-color="#e67b20"/></linearGradient>
<linearGradient id="gB44"><stop offset="0.000" stop-color="#d44a41"/><stop offset="0.167" stop-color="#da513a"/><stop offset="0.333" stop-color="#dd5835"/><stop offset="0.500" stop-color="#e06030"/><stop offset="0.667" stop-color="#e3692a"/><stop offset="0.833" stop-color="#e47026"/><stop offset="1.000" stop-color="#e57821"/></linearGradient>
<linearGradient id="gB45"><stop offset="0.000" stop-color="#d34743"/><stop offset="0.167" stop-color="#d84e3c"/><stop offset="0.333" stop-color="#dc5537"/><stop offset="0.500" stop-color="#df5d31"/><stop offset="0.667" stop-color="#e2662c"/><stop offset="0.833" stop-color="#e46d27"/><stop offset="1.000" stop-color="#e57523"/></linearGradient>
<linearGradient id="gB46"><stop offset="0.000" stop-color="#d04545"/><stop offset="0.167" stop-color="#d64c3f"/><stop offset="0.333" stop-color="#da5239"/><stop offset="0.500" stop-color="#de5a33"/><stop offset="0.667" stop-color="#e1632e"/><stop offset="0.833" stop-color="#e36a29"/><stop offset="1.000" stop-color="#e57225"/></linearGradient>
<linearGradient id="gB47"><stop offset="0.000" stop-color="#ce4347"/><stop offset="0.167" stop-color="#d44a41"/><stop offset="0.333" stop-color="#d9503b"/><stop offset="0.500" stop-color="#dd5835"/><stop offset="0.667" stop-color="#e06030"/><stop offset="0.833" stop-color="#e2672b"/><stop offset="1.000" stop-color="#e46f26"/></linearGradient>
<linearGradient id="gB48"><stop offset="0.000" stop-color="#cc4248"/><stop offset="0.167" stop-color="#d34743"/><stop offset="0.333" stop-color="#d74d3e"/><stop offset="0.500" stop-color="#dc5537"/><stop offset="0.667" stop-color="#df5d31"/><stop offset="0.833" stop-color="#e2642d"/><stop offset="1.000" stop-color="#e36c28"/></linearGradient>
<linearGradient id="gB49"><stop offset="0.000" stop-color="#ca404a"/><stop offset="0.167" stop-color="#d04545"/><stop offset="0.333" stop-color="#d54b40"/><stop offset="0.500" stop-color="#da5239"/><stop offset="0.667" stop-color="#de5a33"/><stop offset="0.833" stop-color="#e1612f"/><stop offset="1.000" stop-color="#e3692a"/></linearGradient>
<linearGradient id="gB50"><stop offset="0.000" stop-color="#c73e4c"/><stop offset="0.167" stop-color="#ce4347"/><stop offset="0.333" stop-color="#d44842"/><stop offset="0.500" stop-color="#d9503b"/><stop offset="0.667" stop-color="#dc5636"/><stop offset="0.833" stop-color="#e05f30"/><stop offset="1.000" stop-color="#e2642d"/></linearGradient>
<linearGradient id="gB51"><stop offset="0.000" stop-color="#c43c4e"/><stop offset="0.167" stop-color="#cb4149"/><stop offset="0.333" stop-color="#d24644"/><stop offset="0.500" stop-color="#d74d3e"/><stop offset="0.667" stop-color="#db5438"/><stop offset="0.833" stop-color="#df5c32"/><stop offset="1.000" stop-color="#e1612f"/></linearGradient>
<linearGradient id="gB52"><stop offset="0.000" stop-color="#c13a50"/><stop offset="0.167" stop-color="#c83f4b"/><stop offset="0.333" stop-color="#cf4446"/><stop offset="0.500" stop-color="#d54b40"/><stop offset="0.667" stop-color="#da513a"/><stop offset="0.833" stop-color="#dd5835"/><stop offset="1.000" stop-color="#e05f30"/></linearGradient>
<linearGradient id="gB53"><stop offset="0.000" stop-color="#bf3952"/><stop offset="0.167" stop-color="#c63d4d"/><stop offset="0.333" stop-color="#cc4248"/><stop offset="0.500" stop-color="#d44842"/><stop offset="0.667" stop-color="#d84e3c"/><stop offset="0.833" stop-color="#dc5537"/><stop offset="1.000" stop-color="#df5c32"/></linearGradient>
<linearGradient id="gB54"><stop offset="0.000" stop-color="#bc3754"/><stop offset="0.167" stop-color="#c33b4f"/><stop offset="0.333" stop-color="#ca404a"/><stop offset="0.500" stop-color="#d24644"/><stop offset="0.667" stop-color="#d64c3f"/><stop offset="0.833" stop-color="#da5239"/><stop offset="1.000" stop-color="#de5934"/></linearGradient>
<linearGradient id="gB55"><stop offset="0.000" stop-color="#b93556"/><stop offset="0.167" stop-color="#c03a51"/><stop offset="0.333" stop-color="#c73e4c"/><stop offset="0.500" stop-color="#cf4446"/><stop offset="0.667" stop-color="#d44a41"/><stop offset="0.833" stop-color="#d9503b"/><stop offset="1.000" stop-color="#dc5537"/></linearGradient>
<linearGradient id="gB56"><stop offset="0.000" stop-color="#b63458"/><stop offset="0.167" stop-color="#bd3853"/><stop offset="0.333" stop-color="#c43c4e"/><stop offset="0.500" stop-color="#cb4149"/><stop offset="0.667" stop-color="#d34743"/><stop offset="0.833" stop-color="#d74d3e"/><stop offset="1.000" stop-color="#da5239"/></linearGradient>
<linearGradient id="gB57"><stop offset="0.000" stop-color="#b3325a"/><stop offset="0.167" stop-color="#ba3655"/><stop offset="0.333" stop-color="#c13a50"/><stop offset="0.500" stop-color="#c83f4b"/><stop offset="0.667" stop-color="#cf4446"/><stop offset="0.833" stop-color="#d44a41"/><stop offset="1.000" stop-color="#d9503b"/></linearGradient>
<linearGradient id="gB58"><stop offset="0.000" stop-color="#b0315b"/><stop offset="0.167" stop-color="#b73557"/><stop offset="0.333" stop-color="#bf3952"/><stop offset="0.500" stop-color="#c63d4d"/><stop offset="0.667" stop-color="#cc4248"/><stop offset="0.833" stop-color="#d34743"/><stop offset="1.000" stop-color="#d74d3e"/></linearGradient>
<linearGradient id="gB59"><stop offset="0.000" stop-color="#ad305d"/><stop offset="0.167" stop-color="#b43359"/><stop offset="0.333" stop-color="#bc3754"/><stop offset="0.500" stop-color="#c33b4f"/><stop offset="0.667" stop-color="#ca404a"/><stop offset="0.833" stop-color="#d04545"/><stop offset="1.000" stop-color="#d44a41"/></linearGradient>
<linearGradient id="gB60"><stop offset="0.000" stop-color="#a92e5e"/><stop offset="0.167" stop-color="#b1325a"/><stop offset="0.333" stop-color="#b93556"/><stop offset="0.500" stop-color="#c03a51"/><stop offset="0.667" stop-color="#c73e4c"/><stop offset="0.833" stop-color="#ce4347"/><stop offset="1.000" stop-color="#d34743"/></linearGradient>
<linearGradient id="gB61"><stop offset="0.000" stop-color="#a62d60"/><stop offset="0.167" stop-color="#ae305c"/><stop offset="0.333" stop-color="#b63458"/><stop offset="0.500" stop-color="#bd3853"/><stop offset="0.667" stop-color="#c43c4e"/><stop offset="0.833" stop-color="#ca404a"/><stop offset="1.000" stop-color="#d04545"/></linearGradient>
<linearGradient id="gB62"><stop offset="0.000" stop-color="#a32c61"/><stop offset="0.167" stop-color="#ab2f5e"/><stop offset="0.333" stop-color="#b3325a"/><stop offset="0.500" stop-color="#ba3655"/><stop offset="0.667" stop-color="#c13a50"/><stop offset="0.833" stop-color="#c73e4c"/><stop offset="1.000" stop-color="#ce4347"/></linearGradient>
<linearGradient id="gB63"><stop offset="0.000" stop-color="#a02a63"/><stop offset="0.167" stop-color="#a82e5f"/><stop offset="0.333" stop-color="#b0315b"/><stop offset="0.500" stop-color="#b63458"/><stop offset="0.667" stop-color="#bd3853"/><stop offset="0.833" stop-color="#c43c4e"/><stop offset="1.000" stop-color="#ca404a"/></linearGradient>
<linearGradient id="gB64"><stop offset="0.000" stop-color="#9d2964"/><stop offset="0.167" stop-color="#a52c60"/><stop offset="0.333" stop-color="#ab2f5e"/><stop offset="0.500" stop-color="#b3325a"/><stop offset="0.667" stop-color="#ba3655"/><stop offset="0.833" stop-color="#c13a50"/><stop offset="1.000" stop-color="#c73e4c"/></linearGradient>
<linearGradient id="gB65"><stop offset="0.000" stop-color="#9a2865"/><stop offset="0.167" stop-color="#a22b62"/><stop offset="0.333" stop-color="#a82e5f"/><stop offset="0.500" stop-color="#b0315b"/><stop offset="0.667" stop-color="#b73557"/><stop offset="0.833" stop-color="#bd3853"/><stop offset="1.000" stop-color="#c43c4e"/></linearGradient>
<linearGradient id="gB66"><stop offset="0.000" stop-color="#972766"/><stop offset="0.167" stop-color="#9f2a63"/><stop offset="0.333" stop-color="#a52c60"/><stop offset="0.500" stop-color="#ad305d"/><stop offset="0.667" stop-color="#b43359"/><stop offset="0.833" stop-color="#ba3655"/><stop offset="1.000" stop-color="#c03a51"/></linearGradient>
<linearGradient id="gB67"><stop offset="0.000" stop-color="#932667"/><stop offset="0.167" stop-color="#9b2964"/><stop offset="0.333" stop-color="#a22b62"/><stop offset="0.500" stop-color="#a92e5e"/><stop offset="0.667" stop-color="#b0315b"/><stop offset="0.833" stop-color="#b73557"/><stop offset="1.000" stop-color="#bd3853"/></linearGradient>
<linearGradient id="gB68"><stop offset="0.000" stop-color="#902568"/><stop offset="0.167" stop-color="#982766"/><stop offset="0.333" stop-color="#9f2a63"/><stop offset="0.500" stop-color="#a62d60"/><stop offset="0.667" stop-color="#ad305d"/><stop offset="0.833" stop-color="#b43359"/><stop offset="1.000" stop-color="#ba3655"/></linearGradient>
<linearGradient id="gB69"><stop offset="0.000" stop-color="#8d2369"/><stop offset="0.167" stop-color="#932667"/><stop offset="0.333" stop-color="#9b2964"/><stop offset="0.500" stop-color="#a32c61"/><stop offset="0.667" stop-color="#a92e5e"/><stop offset="0.833" stop-color="#b0315b"/><stop offset="1.000" stop-color="#b63458"/></linearGradient>
<linearGradient id="gB70"><stop offset="0.000" stop-color="#8a226a"/><stop offset="0.167" stop-color="#902568"/><stop offset="0.333" stop-color="#982766"/><stop offset="0.500" stop-color="#9f2a63"/><stop offset="0.667" stop-color="#a62d60"/><stop offset="0.833" stop-color="#ad305d"/><stop offset="1.000" stop-color="#b3325a"/></linearGradient>
<linearGradient id="gB71"><stop offset="0.000" stop-color="#87216b"/><stop offset="0.167" stop-color="#8d2369"/><stop offset="0.333" stop-color="#952667"/><stop offset="0.500" stop-color="#9b2964"/><stop offset="0.667" stop-color="#a32c61"/><stop offset="0.833" stop-color="#a92e5e"/><stop offset="1.000" stop-color="#b0315b"/></linearGradient>
<linearGradient id="gB72"><stop offset="0.000" stop-color="#84206b"/><stop offset="0.167" stop-color="#8a226a"/><stop offset="0.333" stop-color="#922568"/><stop offset="0.500" stop-color="#982766"/><stop offset="0.667" stop-color="#9f2a63"/><stop offset="0.833" stop-color="#a62d60"/><stop offset="1.000" stop-color="#ab2f5e"/></linearGradient>
<linearGradient id="gB73"><stop offset="0.000" stop-color="#801f6c"/><stop offset="0.167" stop-color="#87216b"/><stop offset="0.333" stop-color="#8f2469"/><stop offset="0.500" stop-color="#952667"/><stop offset="0.667" stop-color="#9b2964"/><stop offset="0.833" stop-color="#a22b62"/><stop offset="1.000" stop-color="#a82e5f"/></linearGradient>
<linearGradient id="gB74"><stop offset="0.000" stop-color="#7f1e6c"/><stop offset="0.167" stop-color="#84206b"/><stop offset="0.333" stop-color="#8a226a"/><stop offset="0.500" stop-color="#922568"/><stop offset="0.667" stop-color="#982766"/><stop offset="0.833" stop-color="#9f2a63"/><stop offset="1.000" stop-color="#a52c60"/></linearGradient>
<linearGradient id="gB75"><stop offset="0.000" stop-color="#7c1d6d"/><stop offset="0.167" stop-color="#801f6c"/><stop offset="0.333" stop-color="#87216b"/><stop offset="0.500" stop-color="#8f2469"/><stop offset="0.667" stop-color="#952667"/><stop offset="0.833" stop-color="#9b2964"/><stop offset="1.000" stop-color="#a22b62"/></linearGradient>
<linearGradient id="gB76"><stop offset="0.000" stop-color="#781c6d"/><stop offset="0.167" stop-color="#7d1e6d"/><stop offset="0.333" stop-color="#84206b"/><stop offset="0.500" stop-color="#8a226a"/><stop offset="0.667" stop-color="#922568"/><stop offset="0.833" stop-color="#982766"/><stop offset="1.000" stop-color="#9d2964"/></linearGradient>
<linearGradient id="gB77"><stop offset="0.000" stop-color="#751b6e"/><stop offset="0.167" stop-color="#7a1d6d"/><stop offset="0.333" stop-color="#801f6c"/><stop offset="0.500" stop-color="#87216b"/><stop offset="0.667" stop-color="#8d2369"/><stop offset="0.833" stop-color="#932667"/><stop offset="1.000" stop-color="#9a2865"/></linearGradient>
<linearGradient id="gB78"><stop offset="0.000" stop-color="#721a6e"/><stop offset="0.167" stop-color="#771c6d"/><stop offset="0.333" stop-color="#7d1e6d"/><stop offset="0.500" stop-color="#84206b"/><stop offset="0.667" stop-color="#8a226a"/><stop offset="0.833" stop-color="#902568"/><stop offset="1.000" stop-color="#972766"/></linearGradient>
<clipPath id="cpC"><rect x="437.65" y="18.3" width="153.65" height="157.10"/></clipPath>
<linearGradient id="gC0"><stop offset="0.000" stop-color="#972766"/><stop offset="0.167" stop-color="#c33b4f"/><stop offset="0.333" stop-color="#dc5636"/><stop offset="0.500" stop-color="#e57523"/><stop offset="0.667" stop-color="#e79018"/><stop offset="0.833" stop-color="#ecac25"/><stop offset="1.000" stop-color="#f1cb41"/></linearGradient>
<linearGradient id="gC1"><stop offset="0.000" stop-color="#952667"/><stop offset="0.167" stop-color="#c13a50"/><stop offset="0.333" stop-color="#dc5537"/><stop offset="0.500" stop-color="#e57324"/><stop offset="0.667" stop-color="#e78e18"/><stop offset="0.833" stop-color="#ecaa24"/><stop offset="1.000" stop-color="#f1c93e"/></linearGradient>
<linearGradient id="gC2"><stop offset="0.000" stop-color="#932667"/><stop offset="0.167" stop-color="#c03a51"/><stop offset="0.333" stop-color="#db5438"/><stop offset="0.500" stop-color="#e57225"/><stop offset="0.667" stop-color="#e78c18"/><stop offset="0.833" stop-color="#eca922"/><stop offset="1.000" stop-color="#f1c73c"/></linearGradient>
<linearGradient id="gC3"><stop offset="0.000" stop-color="#922568"/><stop offset="0.167" stop-color="#bf3952"/><stop offset="0.333" stop-color="#da5239"/><stop offset="0.500" stop-color="#e46f26"/><stop offset="0.667" stop-color="#e68b19"/><stop offset="0.833" stop-color="#eba721"/><stop offset="1.000" stop-color="#f0c53a"/></linearGradient>
<linearGradient id="gC4"><stop offset="0.000" stop-color="#902568"/><stop offset="0.167" stop-color="#bd3853"/><stop offset="0.333" stop-color="#da513a"/><stop offset="0.500" stop-color="#e46d27"/><stop offset="0.667" stop-color="#e68919"/><stop offset="0.833" stop-color="#eba520"/><stop offset="1.000" stop-color="#f0c338"/></linearGradient>
<linearGradient id="gC5"><stop offset="0.000" stop-color="#8f2469"/><stop offset="0.167" stop-color="#bc3754"/><stop offset="0.333" stop-color="#d9503b"/><stop offset="0.500" stop-color="#e36c28"/><stop offset="0.667" stop-color="#e6881a"/><stop offset="0.833" stop-color="#eaa31e"/><stop offset="1.000" stop-color="#f0c136"/></linearGradient>
<linearGradient id="gC6"><stop offset="0.000" stop-color="#8d2369"/><stop offset="0.167" stop-color="#ba3655"/><stop offset="0.333" stop-color="#d84e3c"/><stop offset="0.500" stop-color="#e36a29"/><stop offset="0.667" stop-color="#e6861b"/><stop offset="0.833" stop-color="#eaa11d"/><stop offset="1.000" stop-color="#f0bf34"/></linearGradient>
<linearGradient id="gC7"><stop offset="0.000" stop-color="#8c2369"/><stop offset="0.167" stop-color="#b93556"/><stop offset="0.333" stop-color="#d74d3e"/><stop offset="0.500" stop-color="#e3692a"/><stop offset="0.667" stop-color="#e6841b"/><stop offset="0.833" stop-color="#e99f1c"/><stop offset="1.000" stop-color="#efbc33"/></linearGradient>
<linearGradient id="gC8"><stop offset="0.000" stop-color="#8a226a"/><stop offset="0.167" stop-color="#b73557"/><stop offset="0.333" stop-color="#d54b40"/><stop offset="0.500" stop-color="#e2672b"/><stop offset="0.667" stop-color="#e6831c"/><stop offset="0.833" stop-color="#e99d1b"/><stop offset="1.000" stop-color="#efba31"/></linearGradient>
<linearGradient id="gC9"><stop offset="0.000" stop-color="#88226a"/><stop offset="0.167" stop-color="#b43359"/><stop offset="0.333" stop-color="#d44a41"/><stop offset="0.500" stop-color="#e2662c"/><stop offset="0.667" stop-color="#e6801d"/><stop offset="0.833" stop-color="#e99a19"/><stop offset="1.000" stop-color="#eeb62d"/></linearGradient>
<linearGradient id="gC10"><stop offset="0.000" stop-color="#87216b"/><stop offset="0.167" stop-color="#b3325a"/><stop offset="0.333" stop-color="#d44842"/><stop offset="0.500" stop-color="#e1632e"/><stop offset="0.667" stop-color="#e67e1e"/><stop offset="0.833" stop-color="#e89818"/><stop offset="1.000" stop-color="#eeb42c"/></linearGradient>
<linearGradient id="gC11"><stop offset="0.000" stop-color="#85216b"/><stop offset="0.167" stop-color="#b1325a"/><stop offset="0.333" stop-color="#d34743"/><stop offset="0.500" stop-color="#e1612f"/><stop offset="0.667" stop-color="#e67d1f"/><stop offset="0.833" stop-color="#e89618"/><stop offset="1.000" stop-color="#eeb22a"/></linearGradient>
<linearGradient id="gC12"><stop offset="0.000" stop-color="#84206b"/><stop offset="0.167" stop-color="#b0315b"/><stop offset="0.333" stop-color="#d24644"/><stop offset="0.500" stop-color="#e06030"/><stop offset="0.667" stop-color="#e67b20"/><stop offset="0.833" stop-color="#e89518"/><stop offset="1.000" stop-color="#edb028"/></linearGradient>
<linearGradient id="gC13"><stop offset="0.000" stop-color="#82206c"/><stop offset="0.167" stop-color="#ae305c"/><stop offset="0.333" stop-color="#cf4446"/><stop offset="0.500" stop-color="#e05f30"/><stop offset="0.667" stop-color="#e57821"/><stop offset="0.833" stop-color="#e79117"/><stop offset="1.000" stop-color="#ecac25"/></linearGradient>
<linearGradient id="gC14"><stop offset="0.000" stop-color="#7f1e6c"/><stop offset="0.167" stop-color="#ab2f5e"/><stop offset="0.333" stop-color="#ce4347"/><stop offset="0.500" stop-color="#df5c32"/><stop offset="0.667" stop-color="#e57622"/><stop offset="0.833" stop-color="#e79018"/><stop offset="1.000" stop-color="#ecaa24"/></linearGradient>
<linearGradient id="gC15"><stop offset="0.000" stop-color="#7d1e6d"/><stop offset="0.167" stop-color="#a92e5e"/><stop offset="0.333" stop-color="#cc4248"/><stop offset="0.500" stop-color="#de5a33"/><stop offset="0.667" stop-color="#e57523"/><stop offset="0.833" stop-color="#e78e18"/><stop offset="1.000" stop-color="#eca922"/></linearGradient>
<linearGradient id="gC16"><stop offset="0.000" stop-color="#7c1d6d"/><stop offset="0.167" stop-color="#a82e5f"/><stop offset="0.333" stop-color="#ca404a"/><stop offset="0.500" stop-color="#de5934"/><stop offset="0.667" stop-color="#e57225"/><stop offset="0.833" stop-color="#e68b19"/><stop offset="1.000" stop-color="#eba520"/></linearGradient>
<linearGradient id="gC17"><stop offset="0.000" stop-color="#7a1d6d"/><stop offset="0.167" stop-color="#a62d60"/><stop offset="0.333" stop-color="#c83f4b"/><stop offset="0.500" stop-color="#dc5636"/><stop offset="0.667" stop-color="#e47026"/><stop offset="0.833" stop-color="#e68919"/><stop offset="1.000" stop-color="#eaa31e"/></linearGradient>
<linearGradient id="gC18"><stop offset="0.000" stop-color="#771c6d"/><stop offset="0.167" stop-color="#a32c61"/><stop offset="0.333" stop-color="#c73e4c"/><stop offset="0.500" stop-color="#dc5537"/><stop offset="0.667" stop-color="#e46d27"/><stop offset="0.833" stop-color="#e6861b"/><stop offset="1.000" stop-color="#e99f1c"/></linearGradient>
<linearGradient id="gC19"><stop offset="0.000" stop-color="#751b6e"/><stop offset="0.167" stop-color="#a22b62"/><stop offset="0.333" stop-color="#c43c4e"/><stop offset="0.500" stop-color="#da5239"/><stop offset="0.667" stop-color="#e36c28"/><stop offset="0.833" stop-color="#e6841b"/><stop offset="1.000" stop-color="#e99d1b"/></linearGradient>
<linearGradient id="gC20"><stop offset="0.000" stop-color="#741a6e"/><stop offset="0.167" stop-color="#a02a63"/><stop offset="0.333" stop-color="#c33b4f"/><stop offset="0.500" stop-color="#da513a"/><stop offset="0.667" stop-color="#e36a29"/><stop offset="0.833" stop-color="#e6811d"/><stop offset="1.000" stop-color="#e99a19"/></linearGradient>
<linearGradient id="gC21"><stop offset="0.000" stop-color="#721a6e"/><stop offset="0.167" stop-color="#9d2964"/><stop offset="0.333" stop-color="#c13a50"/><stop offset="0.500" stop-color="#d9503b"/><stop offset="0.667" stop-color="#e2672b"/><stop offset="0.833" stop-color="#e6801d"/><stop offset="1.000" stop-color="#e89818"/></linearGradient>
<linearGradient id="gC22"><stop offset="0.000" stop-color="#6f196e"/><stop offset="0.167" stop-color="#9b2964"/><stop offset="0.333" stop-color="#bf3952"/><stop offset="0.500" stop-color="#d74d3e"/><stop offset="0.667" stop-color="#e2662c"/><stop offset="0.833" stop-color="#e67d1f"/><stop offset="1.000" stop-color="#e89518"/></linearGradient>
<linearGradient id="gC23"><stop offset="0.000" stop-color="#6d186e"/><stop offset="0.167" stop-color="#982766"/><stop offset="0.333" stop-color="#bd3853"/><stop offset="0.500" stop-color="#d64c3f"/><stop offset="0.667" stop-color="#e1632e"/><stop offset="0.833" stop-color="#e67b20"/><stop offset="1.000" stop-color="#e89317"/></linearGradient>
<linearGradient id="gC24"><stop offset="0.000" stop-color="#6c186e"/><stop offset="0.167" stop-color="#972766"/><stop offset="0.333" stop-color="#ba3655"/><stop offset="0.500" stop-color="#d44a41"/><stop offset="0.667" stop-color="#e06030"/><stop offset="0.833" stop-color="#e57821"/><stop offset="1.000" stop-color="#e79018"/></linearGradient>
<linearGradient id="gC25"><stop offset="0.000" stop-color="#69166e"/><stop offset="0.167" stop-color="#952667"/><stop offset="0.333" stop-color="#b93556"/><stop offset="0.500" stop-color="#d44842"/><stop offset="0.667" stop-color="#e05f30"/><stop offset="0.833" stop-color="#e57622"/><stop offset="1.000" stop-color="#e78e18"/></linearGradient>
<linearGradient id="gC26"><stop offset="0.000" stop-color="#67166e"/><stop offset="0.167" stop-color="#922568"/><stop offset="0.333" stop-color="#b63458"/><stop offset="0.500" stop-color="#d24644"/><stop offset="0.667" stop-color="#df5c32"/><stop offset="0.833" stop-color="#e57324"/><stop offset="1.000" stop-color="#e68b19"/></linearGradient>
<linearGradient id="gC27"><stop offset="0.000" stop-color="#64156e"/><stop offset="0.167" stop-color="#902568"/><stop offset="0.333" stop-color="#b43359"/><stop offset="0.500" stop-color="#cf4446"/><stop offset="0.667" stop-color="#de5a33"/><stop offset="0.833" stop-color="#e57225"/><stop offset="1.000" stop-color="#e68919"/></linearGradient>
<linearGradient id="gC28"><stop offset="0.000" stop-color="#62146e"/><stop offset="0.167" stop-color="#8d2369"/><stop offset="0.333" stop-color="#b1325a"/><stop offset="0.500" stop-color="#ce4347"/><stop offset="0.667" stop-color="#dd5835"/><stop offset="0.833" stop-color="#e46f26"/><stop offset="1.000" stop-color="#e6861b"/></linearGradient>
<linearGradient id="gC29"><stop offset="0.000" stop-color="#5f136e"/><stop offset="0.167" stop-color="#8c2369"/><stop offset="0.333" stop-color="#b0315b"/><stop offset="0.500" stop-color="#cb4149"/><stop offset="0.667" stop-color="#dc5636"/><stop offset="0.833" stop-color="#e36c28"/><stop offset="1.000" stop-color="#e6831c"/></linearGradient>
<linearGradient id="gC30"><stop offset="0.000" stop-color="#5d126e"/><stop offset="0.167" stop-color="#88226a"/><stop offset="0.333" stop-color="#ad305d"/><stop offset="0.500" stop-color="#ca404a"/><stop offset="0.667" stop-color="#db5438"/><stop offset="0.833" stop-color="#e36a29"/><stop offset="1.000" stop-color="#e6811d"/></linearGradient>
<linearGradient id="gC31"><stop offset="0.000" stop-color="#5c126e"/><stop offset="0.167" stop-color="#87216b"/><stop offset="0.333" stop-color="#a92e5e"/><stop offset="0.500" stop-color="#c73e4c"/><stop offset="0.667" stop-color="#da513a"/><stop offset="0.833" stop-color="#e2672b"/><stop offset="1.000" stop-color="#e67e1e"/></linearGradient>
<linearGradient id="gC32"><stop offset="0.000" stop-color="#59106e"/><stop offset="0.167" stop-color="#84206b"/><stop offset="0.333" stop-color="#a82e5f"/><stop offset="0.500" stop-color="#c43c4e"/><stop offset="0.667" stop-color="#d9503b"/><stop offset="0.833" stop-color="#e2642d"/><stop offset="1.000" stop-color="#e67b20"/></linearGradient>
<linearGradient id="gC33"><stop offset="0.000" stop-color="#57106e"/><stop offset="0.167" stop-color="#801f6c"/><stop offset="0.333" stop-color="#a52c60"/><stop offset="0.500" stop-color="#c33b4f"/><stop offset="0.667" stop-color="#d74d3e"/><stop offset="0.833" stop-color="#e1612f"/><stop offset="1.000" stop-color="#e57821"/></linearGradient>
<linearGradient id="gC34"><stop offset="0.000" stop-color="#540f6d"/><stop offset="0.167" stop-color="#7f1e6c"/><stop offset="0.333" stop-color="#a32c61"/><stop offset="0.500" stop-color="#c03a51"/><stop offset="0.667" stop-color="#d54b40"/><stop offset="0.833" stop-color="#e06030"/><stop offset="1.000" stop-color="#e57622"/></linearGradient>
<linearGradient id="gC35"><stop offset="0.000" stop-color="#520e6d"/><stop offset="0.167" stop-color="#7c1d6d"/><stop offset="0.333" stop-color="#a02a63"/><stop offset="0.500" stop-color="#bd3853"/><stop offset="0.667" stop-color="#d44842"/><stop offset="0.833" stop-color="#df5d31"/><stop offset="1.000" stop-color="#e57324"/></linearGradient>
<linearGradient id="gC36"><stop offset="0.000" stop-color="#4f0d6c"/><stop offset="0.167" stop-color="#7a1d6d"/><stop offset="0.333" stop-color="#9d2964"/><stop offset="0.500" stop-color="#bc3754"/><stop offset="0.667" stop-color="#d34743"/><stop offset="0.833" stop-color="#de5a33"/><stop offset="1.000" stop-color="#e47026"/></linearGradient>
<linearGradient id="gC37"><stop offset="0.000" stop-color="#4c0c6b"/><stop offset="0.167" stop-color="#771c6d"/><stop offset="0.333" stop-color="#9b2964"/><stop offset="0.500" stop-color="#b93556"/><stop offset="0.667" stop-color="#d04545"/><stop offset="0.833" stop-color="#dd5835"/><stop offset="1.000" stop-color="#e46d27"/></linearGradient>
<linearGradient id="gC38"><stop offset="0.000" stop-color="#4a0c6b"/><stop offset="0.167" stop-color="#741a6e"/><stop offset="0.333" stop-color="#982766"/><stop offset="0.500" stop-color="#b63458"/><stop offset="0.667" stop-color="#ce4347"/><stop offset="0.833" stop-color="#dc5636"/><stop offset="1.000" stop-color="#e36c28"/></linearGradient>
<linearGradient id="gC39"><stop offset="0.000" stop-color="#470b6a"/><stop offset="0.167" stop-color="#721a6e"/><stop offset="0.333" stop-color="#952667"/><stop offset="0.500" stop-color="#b3325a"/><stop offset="0.667" stop-color="#cb4149"/><stop offset="0.833" stop-color="#db5438"/><stop offset="1.000" stop-color="#e3692a"/></linearGradient>
<linearGradient id="gC40"><stop offset="0.000" stop-color="#450a69"/><stop offset="0.167" stop-color="#6f196e"/><stop offset="0.333" stop-color="#932667"/><stop offset="0.500" stop-color="#b1325a"/><stop offset="0.667" stop-color="#ca404a"/><stop offset="0.833" stop-color="#da513a"/><stop offset="1.000" stop-color="#e2662c"/></linearGradient>
<linearGradient id="gC41"><stop offset="0.000" stop-color="#420a68"/><stop offset="0.167" stop-color="#6d186e"/><stop offset="0.333" stop-color="#902568"/><stop offset="0.500" stop-color="#ae305c"/><stop offset="0.667" stop-color="#c73e4c"/><stop offset="0.833" stop-color="#d84e3c"/><stop offset="1.000" stop-color="#e1632e"/></linearGradient>
<linearGradient id="gC42"><stop offset="0.000" stop-color="#400a67"/><stop offset="0.167" stop-color="#6a176e"/><stop offset="0.333" stop-color="#8d2369"/><stop offset="0.500" stop-color="#ab2f5e"/><stop offset="0.667" stop-color="#c43c4e"/><stop offset="0.833" stop-color="#d64c3f"/><stop offset="1.000" stop-color="#e06030"/></linearGradient>
<linearGradient id="gC43"><stop offset="0.000" stop-color="#3d0965"/><stop offset="0.167" stop-color="#67166e"/><stop offset="0.333" stop-color="#8a226a"/><stop offset="0.500" stop-color="#a82e5f"/><stop offset="0.667" stop-color="#c13a50"/><stop offset="0.833" stop-color="#d54b40"/><stop offset="1.000" stop-color="#df5d31"/></linearGradient>
<linearGradient id="gC44"><stop offset="0.000" stop-color="#390963"/><stop offset="0.167" stop-color="#65156e"/><stop offset="0.333" stop-color="#88226a"/><stop offset="0.500" stop-color="#a62d60"/><stop offset="0.667" stop-color="#bf3952"/><stop offset="0.833" stop-color="#d44842"/><stop offset="1.000" stop-color="#de5a33"/></linearGradient>
<linearGradient id="gC45"><stop offset="0.000" stop-color="#380962"/><stop offset="0.167" stop-color="#62146e"/><stop offset="0.333" stop-color="#85216b"/><stop offset="0.500" stop-color="#a32c61"/><stop offset="0.667" stop-color="#bc3754"/><stop offset="0.833" stop-color="#d24644"/><stop offset="1.000" stop-color="#de5934"/></linearGradient>
<linearGradient id="gC46"><stop offset="0.000" stop-color="#340a5f"/><stop offset="0.167" stop-color="#5f136e"/><stop offset="0.333" stop-color="#82206c"/><stop offset="0.500" stop-color="#a02a63"/><stop offset="0.667" stop-color="#ba3655"/><stop offset="0.833" stop-color="#cf4446"/><stop offset="1.000" stop-color="#dc5636"/></linearGradient>
<linearGradient id="gC47"><stop offset="0.000" stop-color="#310a5c"/><stop offset="0.167" stop-color="#5c126e"/><stop offset="0.333" stop-color="#7f1e6c"/><stop offset="0.500" stop-color="#9d2964"/><stop offset="0.667" stop-color="#b73557"/><stop offset="0.833" stop-color="#cc4248"/><stop offset="1.000" stop-color="#db5438"/></linearGradient>
<linearGradient id="gC48"><stop offset="0.000" stop-color="#2f0a5b"/><stop offset="0.167" stop-color="#5a116e"/><stop offset="0.333" stop-color="#7d1e6d"/><stop offset="0.500" stop-color="#9a2865"/><stop offset="0.667" stop-color="#b43359"/><stop offset="0.833" stop-color="#ca404a"/><stop offset="1.000" stop-color="#da513a"/></linearGradient>
<linearGradient id="gC49"><stop offset="0.000" stop-color="#2b0b57"/><stop offset="0.167" stop-color="#57106e"/><stop offset="0.333" stop-color="#7a1d6d"/><stop offset="0.500" stop-color="#972766"/><stop offset="0.667" stop-color="#b1325a"/><stop offset="0.833" stop-color="#c73e4c"/><stop offset="1.000" stop-color="#d84e3c"/></linearGradient>
<linearGradient id="gC50"><stop offset="0.000" stop-color="#290b55"/><stop offset="0.167" stop-color="#540f6d"/><stop offset="0.333" stop-color="#771c6d"/><stop offset="0.500" stop-color="#952667"/><stop offset="0.667" stop-color="#ae305c"/><stop offset="0.833" stop-color="#c43c4e"/><stop offset="1.000" stop-color="#d64c3f"/></linearGradient>
<linearGradient id="gC51"><stop offset="0.000" stop-color="#260c51"/><stop offset="0.167" stop-color="#510e6c"/><stop offset="0.333" stop-color="#741a6e"/><stop offset="0.500" stop-color="#922568"/><stop offset="0.667" stop-color="#ab2f5e"/><stop offset="0.833" stop-color="#c13a50"/><stop offset="1.000" stop-color="#d44a41"/></linearGradient>
<linearGradient id="gC52"><stop offset="0.000" stop-color="#230c4c"/><stop offset="0.167" stop-color="#4f0d6c"/><stop offset="0.333" stop-color="#71196e"/><stop offset="0.500" stop-color="#8f2469"/><stop offset="0.667" stop-color="#a82e5f"/><stop offset="0.833" stop-color="#bf3952"/><stop offset="1.000" stop-color="#d34743"/></linearGradient>
<linearGradient id="gC53"><stop offset="0.000" stop-color="#1f0c48"/><stop offset="0.167" stop-color="#4c0c6b"/><stop offset="0.333" stop-color="#6f196e"/><stop offset="0.500" stop-color="#8c2369"/><stop offset="0.667" stop-color="#a52c60"/><stop offset="0.833" stop-color="#bc3754"/><stop offset="1.000" stop-color="#d04545"/></linearGradient>
<linearGradient id="gC54"><stop offset="0.000" stop-color="#1e0c45"/><stop offset="0.167" stop-color="#490b6a"/><stop offset="0.333" stop-color="#6c186e"/><stop offset="0.500" stop-color="#88226a"/><stop offset="0.667" stop-color="#a22b62"/><stop offset="0.833" stop-color="#b93556"/><stop offset="1.000" stop-color="#ce4347"/></linearGradient>
<linearGradient id="gC55"><stop offset="0.000" stop-color="#1b0c41"/><stop offset="0.167" stop-color="#450a69"/><stop offset="0.333" stop-color="#69166e"/><stop offset="0.500" stop-color="#85216b"/><stop offset="0.667" stop-color="#9f2a63"/><stop offset="0.833" stop-color="#b63458"/><stop offset="1.000" stop-color="#cb4149"/></linearGradient>
<linearGradient id="gC56"><stop offset="0.000" stop-color="#180c3c"/><stop offset="0.167" stop-color="#440a68"/><stop offset="0.333" stop-color="#65156e"/><stop offset="0.500" stop-color="#82206c"/><stop offset="0.667" stop-color="#9d2964"/><stop offset="0.833" stop-color="#b3325a"/><stop offset="1.000" stop-color="#c83f4b"/></linearGradient>
<linearGradient id="gC57"><stop offset="0.000" stop-color="#160b39"/><stop offset="0.167" stop-color="#400a67"/><stop offset="0.333" stop-color="#62146e"/><stop offset="0.500" stop-color="#7f1e6c"/><stop offset="0.667" stop-color="#9a2865"/><stop offset="0.833" stop-color="#b0315b"/><stop offset="1.000" stop-color="#c63d4d"/></linearGradient>
<linearGradient id="gC58"><stop offset="0.000" stop-color="#140b34"/><stop offset="0.167" stop-color="#3d0965"/><stop offset="0.333" stop-color="#5f136e"/><stop offset="0.500" stop-color="#7d1e6d"/><stop offset="0.667" stop-color="#972766"/><stop offset="0.833" stop-color="#ad305d"/><stop offset="1.000" stop-color="#c33b4f"/></linearGradient>
<linearGradient id="gC59"><stop offset="0.000" stop-color="#110a30"/><stop offset="0.167" stop-color="#390963"/><stop offset="0.333" stop-color="#5c126e"/><stop offset="0.500" stop-color="#7a1d6d"/><stop offset="0.667" stop-color="#932667"/><stop offset="0.833" stop-color="#a92e5e"/><stop offset="1.000" stop-color="#c03a51"/></linearGradient>
<linearGradient id="gC60"><stop offset="0.000" stop-color="#10092d"/><stop offset="0.167" stop-color="#380962"/><stop offset="0.333" stop-color="#5a116e"/><stop offset="0.500" stop-color="#771c6d"/><stop offset="0.667" stop-color="#902568"/><stop offset="0.833" stop-color="#a62d60"/><stop offset="1.000" stop-color="#bd3853"/></linearGradient>
<linearGradient id="gC61"><stop offset="0.000" stop-color="#0d0829"/><stop offset="0.167" stop-color="#340a5f"/><stop offset="0.333" stop-color="#57106e"/><stop offset="0.500" stop-color="#741a6e"/><stop offset="0.667" stop-color="#8d2369"/><stop offset="0.833" stop-color="#a32c61"/><stop offset="1.000" stop-color="#ba3655"/></linearGradient>
<linearGradient id="gC62"><stop offset="0.000" stop-color="#0b0724"/><stop offset="0.167" stop-color="#310a5c"/><stop offset="0.333" stop-color="#540f6d"/><stop offset="0.500" stop-color="#71196e"/><stop offset="0.667" stop-color="#8a226a"/><stop offset="0.833" stop-color="#a02a63"/><stop offset="1.000" stop-color="#b73557"/></linearGradient>
<linearGradient id="gC63"><stop offset="0.000" stop-color="#0a0722"/><stop offset="0.167" stop-color="#2d0b59"/><stop offset="0.333" stop-color="#510e6c"/><stop offset="0.500" stop-color="#6d186e"/><stop offset="0.667" stop-color="#87216b"/><stop offset="0.833" stop-color="#9d2964"/><stop offset="1.000" stop-color="#b43359"/></linearGradient>
<linearGradient id="gC64"><stop offset="0.000" stop-color="#08051d"/><stop offset="0.167" stop-color="#290b55"/><stop offset="0.333" stop-color="#4d0d6c"/><stop offset="0.500" stop-color="#6a176e"/><stop offset="0.667" stop-color="#84206b"/><stop offset="0.833" stop-color="#9a2865"/><stop offset="1.000" stop-color="#b1325a"/></linearGradient>
<linearGradient id="gC65"><stop offset="0.000" stop-color="#060419"/><stop offset="0.167" stop-color="#280b53"/><stop offset="0.333" stop-color="#4a0c6b"/><stop offset="0.500" stop-color="#67166e"/><stop offset="0.667" stop-color="#801f6c"/><stop offset="0.833" stop-color="#972766"/><stop offset="1.000" stop-color="#ad305d"/></linearGradient>
<linearGradient id="gC66"><stop offset="0.000" stop-color="#040314"/><stop offset="0.167" stop-color="#240c4f"/><stop offset="0.333" stop-color="#470b6a"/><stop offset="0.500" stop-color="#64156e"/><stop offset="0.667" stop-color="#7d1e6d"/><stop offset="0.833" stop-color="#932667"/><stop offset="1.000" stop-color="#a92e5e"/></linearGradient>
<linearGradient id="gC67"><stop offset="0.000" stop-color="#040312"/><stop offset="0.167" stop-color="#210c4a"/><stop offset="0.333" stop-color="#450a69"/><stop offset="0.500" stop-color="#61136e"/><stop offset="0.667" stop-color="#7a1d6d"/><stop offset="0.833" stop-color="#902568"/><stop offset="1.000" stop-color="#a62d60"/></linearGradient>
<linearGradient id="gC68"><stop offset="0.000" stop-color="#02020e"/><stop offset="0.167" stop-color="#1e0c45"/><stop offset="0.333" stop-color="#420a68"/><stop offset="0.500" stop-color="#5d126e"/><stop offset="0.667" stop-color="#771c6d"/><stop offset="0.833" stop-color="#8d2369"/><stop offset="1.000" stop-color="#a32c61"/></linearGradient>
<linearGradient id="gC69"><stop offset="0.000" stop-color="#02010a"/><stop offset="0.167" stop-color="#1b0c41"/><stop offset="0.333" stop-color="#3e0966"/><stop offset="0.500" stop-color="#5a116e"/><stop offset="0.667" stop-color="#741a6e"/><stop offset="0.833" stop-color="#8a226a"/><stop offset="1.000" stop-color="#a02a63"/></linearGradient>
<linearGradient id="gC70"><stop offset="0.000" stop-color="#010108"/><stop offset="0.167" stop-color="#190c3e"/><stop offset="0.333" stop-color="#3b0964"/><stop offset="0.500" stop-color="#57106e"/><stop offset="0.667" stop-color="#71196e"/><stop offset="0.833" stop-color="#87216b"/><stop offset="1.000" stop-color="#9d2964"/></linearGradient>
<linearGradient id="gC71"><stop offset="0.000" stop-color="#010005"/><stop offset="0.167" stop-color="#160b39"/><stop offset="0.333" stop-color="#380962"/><stop offset="0.500" stop-color="#540f6d"/><stop offset="0.667" stop-color="#6d186e"/><stop offset="0.833" stop-color="#84206b"/><stop offset="1.000" stop-color="#9a2865"/></linearGradient>
<linearGradient id="gC72"><stop offset="0.000" stop-color="#000004"/><stop offset="0.167" stop-color="#140b34"/><stop offset="0.333" stop-color="#340a5f"/><stop offset="0.500" stop-color="#510e6c"/><stop offset="0.667" stop-color="#6a176e"/><stop offset="0.833" stop-color="#801f6c"/><stop offset="1.000" stop-color="#972766"/></linearGradient>
<linearGradient id="gC73"><stop offset="0.000" stop-color="#000004"/><stop offset="0.167" stop-color="#110a30"/><stop offset="0.333" stop-color="#310a5c"/><stop offset="0.500" stop-color="#4d0d6c"/><stop offset="0.667" stop-color="#67166e"/><stop offset="0.833" stop-color="#7d1e6d"/><stop offset="1.000" stop-color="#932667"/></linearGradient>
<linearGradient id="gC74"><stop offset="0.000" stop-color="#000004"/><stop offset="0.167" stop-color="#0e092b"/><stop offset="0.333" stop-color="#2d0b59"/><stop offset="0.500" stop-color="#4c0c6b"/><stop offset="0.667" stop-color="#64156e"/><stop offset="0.833" stop-color="#7a1d6d"/><stop offset="1.000" stop-color="#902568"/></linearGradient>
<linearGradient id="gC75"><stop offset="0.000" stop-color="#000004"/><stop offset="0.167" stop-color="#0d0829"/><stop offset="0.333" stop-color="#290b55"/><stop offset="0.500" stop-color="#490b6a"/><stop offset="0.667" stop-color="#61136e"/><stop offset="0.833" stop-color="#771c6d"/><stop offset="1.000" stop-color="#8d2369"/></linearGradient>
<linearGradient id="gC76"><stop offset="0.000" stop-color="#000004"/><stop offset="0.167" stop-color="#0b0724"/><stop offset="0.333" stop-color="#280b53"/><stop offset="0.500" stop-color="#450a69"/><stop offset="0.667" stop-color="#5d126e"/><stop offset="0.833" stop-color="#741a6e"/><stop offset="1.000" stop-color="#88226a"/></linearGradient>
<linearGradient id="gC77"><stop offset="0.000" stop-color="#000004"/><stop offset="0.167" stop-color="#09061f"/><stop offset="0.333" stop-color="#240c4f"/><stop offset="0.500" stop-color="#420a68"/><stop offset="0.667" stop-color="#5a116e"/><stop offset="0.833" stop-color="#71196e"/><stop offset="1.000" stop-color="#85216b"/></linearGradient>
<linearGradient id="gC78"><stop offset="0.000" stop-color="#000004"/><stop offset="0.167" stop-color="#07051b"/><stop offset="0.333" stop-color="#210c4a"/><stop offset="0.500" stop-color="#3e0966"/><stop offset="0.667" stop-color="#57106e"/><stop offset="0.833" stop-color="#6d186e"/><stop offset="1.000" stop-color="#82206c"/></linearGradient>
<clipPath id="cpD"><rect x="51.3" y="222.6" width="153.30" height="157.10"/></clipPath>
<linearGradient id="gD0"><stop offset="0.000" stop-color="#cedd23"/><stop offset="0.167" stop-color="#5ac967"/><stop offset="0.333" stop-color="#3bae87"/><stop offset="0.500" stop-color="#3b7f8d"/><stop offset="0.667" stop-color="#3e508a"/><stop offset="0.833" stop-color="#482878"/><stop offset="1.000" stop-color="#440154"/></linearGradient>
<linearGradient id="gD1"><stop offset="0.000" stop-color="#cadc24"/><stop offset="0.167" stop-color="#56c86a"/><stop offset="0.333" stop-color="#3cad87"/><stop offset="0.500" stop-color="#3b7e8d"/><stop offset="0.667" stop-color="#3e508a"/><stop offset="0.833" stop-color="#482777"/><stop offset="1.000" stop-color="#440154"/></linearGradient>
<linearGradient id="gD2"><stop offset="0.000" stop-color="#c2dc27"/><stop offset="0.167" stop-color="#53c76c"/><stop offset="0.333" stop-color="#3cac88"/><stop offset="0.500" stop-color="#3b7d8d"/><stop offset="0.667" stop-color="#3e4f8a"/><stop offset="0.833" stop-color="#482777"/><stop offset="1.000" stop-color="#440154"/></linearGradient>
<linearGradient id="gD3"><stop offset="0.000" stop-color="#bbdb2b"/><stop offset="0.167" stop-color="#50c66e"/><stop offset="0.333" stop-color="#3cab88"/><stop offset="0.500" stop-color="#3b7b8d"/><stop offset="0.667" stop-color="#3e4f8a"/><stop offset="0.833" stop-color="#482777"/><stop offset="1.000" stop-color="#440154"/></linearGradient>
<linearGradient id="gD4"><stop offset="0.000" stop-color="#b4da2f"/><stop offset="0.167" stop-color="#4ec570"/><stop offset="0.333" stop-color="#3da989"/><stop offset="0.500" stop-color="#3b7a8d"/><stop offset="0.667" stop-color="#3f4e8a"/><stop offset="0.833" stop-color="#482777"/><stop offset="1.000" stop-color="#440154"/></linearGradient>
<linearGradient id="gD5"><stop offset="0.000" stop-color="#acda33"/><stop offset="0.167" stop-color="#4bc472"/><stop offset="0.333" stop-color="#3da889"/><stop offset="0.500" stop-color="#3b798d"/><stop offset="0.667" stop-color="#3f4e8a"/><stop offset="0.833" stop-color="#482777"/><stop offset="1.000" stop-color="#440154"/></linearGradient>
<linearGradient id="gD6"><stop offset="0.000" stop-color="#a7d936"/><stop offset="0.167" stop-color="#49c373"/><stop offset="0.333" stop-color="#3da68a"/><stop offset="0.500" stop-color="#3b788d"/><stop offset="0.667" stop-color="#3f4d8a"/><stop offset="0.833" stop-color="#482777"/><stop offset="1.000" stop-color="#440154"/></linearGradient>
<linearGradient id="gD7"><stop offset="0.000" stop-color="#a0d93b"/><stop offset="0.167" stop-color="#46c275"/><stop offset="0.333" stop-color="#3ea58a"/><stop offset="0.500" stop-color="#3a768d"/><stop offset="0.667" stop-color="#3f4d8a"/><stop offset="0.833" stop-color="#482777"/><stop offset="1.000" stop-color="#440154"/></linearGradient>
<linearGradient id="gD8"><stop offset="0.000" stop-color="#98d83f"/><stop offset="0.167" stop-color="#44c077"/><stop offset="0.333" stop-color="#3ea38a"/><stop offset="0.500" stop-color="#3a758d"/><stop offset="0.667" stop-color="#404b89"/><stop offset="0.833" stop-color="#482777"/><stop offset="1.000" stop-color="#440154"/></linearGradient>
<linearGradient id="gD9"><stop offset="0.000" stop-color="#91d743"/><stop offset="0.167" stop-color="#43bf78"/><stop offset="0.333" stop-color="#3ea28a"/><stop offset="0.500" stop-color="#3a758d"/><stop offset="0.667" stop-color="#3f4b89"/><stop offset="0.833" stop-color="#482777"/><stop offset="1.000" stop-color="#440154"/></linearGradient>
<linearGradient id="gD10"><stop offset="0.000" stop-color="#8ad648"/><stop offset="0.167" stop-color="#40be7b"/><stop offset="0.333" stop-color="#3ea08b"/><stop offset="0.500" stop-color="#3a738d"/><stop offset="0.667" stop-color="#404a89"/><stop offset="0.833" stop-color="#482777"/><stop offset="1.000" stop-color="#440154"/></linearGradient>
<linearGradient id="gD11"><stop offset="0.000" stop-color="#83d44c"/><stop offset="0.167" stop-color="#3ebd7c"/><stop offset="0.333" stop-color="#3e9f8b"/><stop offset="0.500" stop-color="#3a728d"/><stop offset="0.667" stop-color="#404a89"/><stop offset="0.833" stop-color="#482576"/><stop offset="1.000" stop-color="#440154"/></linearGradient>
<linearGradient id="gD12"><stop offset="0.000" stop-color="#7ed350"/><stop offset="0.167" stop-color="#3dbc7d"/><stop offset="0.333" stop-color="#3f9d8b"/><stop offset="0.500" stop-color="#3a718d"/><stop offset="0.667" stop-color="#404989"/><stop offset="0.833" stop-color="#482576"/><stop offset="1.000" stop-color="#440256"/></linearGradient>
<linearGradient id="gD13"><stop offset="0.000" stop-color="#77d254"/><stop offset="0.167" stop-color="#3cba7f"/><stop offset="0.333" stop-color="#3f9c8b"/><stop offset="0.500" stop-color="#3a708d"/><stop offset="0.667" stop-color="#404989"/><stop offset="0.833" stop-color="#482576"/><stop offset="1.000" stop-color="#440256"/></linearGradient>
<linearGradient id="gD14"><stop offset="0.000" stop-color="#71d058"/><stop offset="0.167" stop-color="#3cb980"/><stop offset="0.333" stop-color="#3f9a8c"/><stop offset="0.500" stop-color="#396e8d"/><stop offset="0.667" stop-color="#414888"/><stop offset="0.833" stop-color="#482576"/><stop offset="1.000" stop-color="#440256"/></linearGradient>
<linearGradient id="gD15"><stop offset="0.000" stop-color="#6bce5c"/><stop offset="0.167" stop-color="#3bb881"/><stop offset="0.333" stop-color="#3f988c"/><stop offset="0.500" stop-color="#396d8d"/><stop offset="0.667" stop-color="#414888"/><stop offset="0.833" stop-color="#482576"/><stop offset="1.000" stop-color="#440256"/></linearGradient>
<linearGradient id="gD16"><stop offset="0.000" stop-color="#65cc60"/><stop offset="0.167" stop-color="#3bb782"/><stop offset="0.333" stop-color="#3f968c"/><stop offset="0.500" stop-color="#3a6b8d"/><stop offset="0.667" stop-color="#414788"/><stop offset="0.833" stop-color="#482475"/><stop offset="1.000" stop-color="#440256"/></linearGradient>
<linearGradient id="gD17"><stop offset="0.000" stop-color="#5fcb64"/><stop offset="0.167" stop-color="#3ab583"/><stop offset="0.333" stop-color="#3f948c"/><stop offset="0.500" stop-color="#3a6a8d"/><stop offset="0.667" stop-color="#414587"/><stop offset="0.833" stop-color="#482475"/><stop offset="1.000" stop-color="#440256"/></linearGradient>
<linearGradient id="gD18"><stop offset="0.000" stop-color="#5cca66"/><stop offset="0.167" stop-color="#3ab484"/><stop offset="0.333" stop-color="#3e928c"/><stop offset="0.500" stop-color="#3a688d"/><stop offset="0.667" stop-color="#414587"/><stop offset="0.833" stop-color="#482475"/><stop offset="1.000" stop-color="#440256"/></linearGradient>
<linearGradient id="gD19"><stop offset="0.000" stop-color="#57c869"/><stop offset="0.167" stop-color="#3ab285"/><stop offset="0.333" stop-color="#3e908c"/><stop offset="0.500" stop-color="#3a678d"/><stop offset="0.667" stop-color="#424487"/><stop offset="0.833" stop-color="#482475"/><stop offset="1.000" stop-color="#440256"/></linearGradient>
<linearGradient id="gD20"><stop offset="0.000" stop-color="#52c66d"/><stop offset="0.167" stop-color="#3bb186"/><stop offset="0.333" stop-color="#3e8f8d"/><stop offset="0.500" stop-color="#3a668d"/><stop offset="0.667" stop-color="#424487"/><stop offset="0.833" stop-color="#482374"/><stop offset="1.000" stop-color="#440256"/></linearGradient>
<linearGradient id="gD21"><stop offset="0.000" stop-color="#4ec570"/><stop offset="0.167" stop-color="#3bb087"/><stop offset="0.333" stop-color="#3e8c8d"/><stop offset="0.500" stop-color="#3a658d"/><stop offset="0.667" stop-color="#424387"/><stop offset="0.833" stop-color="#482374"/><stop offset="1.000" stop-color="#440256"/></linearGradient>
<linearGradient id="gD22"><stop offset="0.000" stop-color="#4ac373"/><stop offset="0.167" stop-color="#3bae87"/><stop offset="0.333" stop-color="#3d8b8d"/><stop offset="0.500" stop-color="#3a638d"/><stop offset="0.667" stop-color="#424286"/><stop offset="0.833" stop-color="#482374"/><stop offset="1.000" stop-color="#440256"/></linearGradient>
<linearGradient id="gD23"><stop offset="0.000" stop-color="#46c175"/><stop offset="0.167" stop-color="#3cad88"/><stop offset="0.333" stop-color="#3d888d"/><stop offset="0.500" stop-color="#3a628d"/><stop offset="0.667" stop-color="#424286"/><stop offset="0.833" stop-color="#482173"/><stop offset="1.000" stop-color="#440256"/></linearGradient>
<linearGradient id="gD24"><stop offset="0.000" stop-color="#45c177"/><stop offset="0.167" stop-color="#3daa89"/><stop offset="0.333" stop-color="#3c878d"/><stop offset="0.500" stop-color="#3a618d"/><stop offset="0.667" stop-color="#434186"/><stop offset="0.833" stop-color="#482173"/><stop offset="1.000" stop-color="#440256"/></linearGradient>
<linearGradient id="gD25"><stop offset="0.000" stop-color="#42bf79"/><stop offset="0.167" stop-color="#3da889"/><stop offset="0.333" stop-color="#3c848d"/><stop offset="0.500" stop-color="#3b608c"/><stop offset="0.667" stop-color="#433f85"/><stop offset="0.833" stop-color="#482173"/><stop offset="1.000" stop-color="#440256"/></linearGradient>
<linearGradient id="gD26"><stop offset="0.000" stop-color="#3fbd7b"/><stop offset="0.167" stop-color="#3da68a"/><stop offset="0.333" stop-color="#3c828d"/><stop offset="0.500" stop-color="#3b5e8c"/><stop offset="0.667" stop-color="#433f85"/><stop offset="0.833" stop-color="#482173"/><stop offset="1.000" stop-color="#440256"/></linearGradient>
<linearGradient id="gD27"><stop offset="0.000" stop-color="#3dbc7d"/><stop offset="0.167" stop-color="#3ea48a"/><stop offset="0.333" stop-color="#3c808d"/><stop offset="0.500" stop-color="#3b5d8c"/><stop offset="0.667" stop-color="#433e85"/><stop offset="0.833" stop-color="#482071"/><stop offset="1.000" stop-color="#440154"/></linearGradient>
<linearGradient id="gD28"><stop offset="0.000" stop-color="#3cba7f"/><stop offset="0.167" stop-color="#3ea28a"/><stop offset="0.333" stop-color="#3b7e8d"/><stop offset="0.500" stop-color="#3b5c8c"/><stop offset="0.667" stop-color="#443d84"/><stop offset="0.833" stop-color="#482071"/><stop offset="1.000" stop-color="#440154"/></linearGradient>
<linearGradient id="gD29"><stop offset="0.000" stop-color="#3bb881"/><stop offset="0.167" stop-color="#3ea08b"/><stop offset="0.333" stop-color="#3b7d8d"/><stop offset="0.500" stop-color="#3b5b8c"/><stop offset="0.667" stop-color="#443d84"/><stop offset="0.833" stop-color="#482071"/><stop offset="1.000" stop-color="#440154"/></linearGradient>
<linearGradient id="gD30"><stop offset="0.000" stop-color="#3bb782"/><stop offset="0.167" stop-color="#3e9e8b"/><stop offset="0.333" stop-color="#3b7a8d"/><stop offset="0.500" stop-color="#3c5a8c"/><stop offset="0.667" stop-color="#443c84"/><stop offset="0.833" stop-color="#481f70"/><stop offset="1.000" stop-color="#440154"/></linearGradient>
<linearGradient id="gD31"><stop offset="0.000" stop-color="#3ab583"/><stop offset="0.167" stop-color="#3f9b8c"/><stop offset="0.333" stop-color="#3a798d"/><stop offset="0.500" stop-color="#3c588c"/><stop offset="0.667" stop-color="#443c84"/><stop offset="0.833" stop-color="#481f70"/><stop offset="1.000" stop-color="#440154"/></linearGradient>
<linearGradient id="gD32"><stop offset="0.000" stop-color="#3ab385"/><stop offset="0.167" stop-color="#3f998c"/><stop offset="0.333" stop-color="#3a768d"/><stop offset="0.500" stop-color="#3c578c"/><stop offset="0.667" stop-color="#443a83"/><stop offset="0.833" stop-color="#481f70"/><stop offset="1.000" stop-color="#440154"/></linearGradient>
<linearGradient id="gD33"><stop offset="0.000" stop-color="#3ab186"/><stop offset="0.167" stop-color="#3f968c"/><stop offset="0.333" stop-color="#3a758d"/><stop offset="0.500" stop-color="#3c568b"/><stop offset="0.667" stop-color="#453983"/><stop offset="0.833" stop-color="#481e6f"/><stop offset="1.000" stop-color="#440154"/></linearGradient>
<linearGradient id="gD34"><stop offset="0.000" stop-color="#3bb087"/><stop offset="0.167" stop-color="#3e948c"/><stop offset="0.333" stop-color="#3a728d"/><stop offset="0.500" stop-color="#3d558b"/><stop offset="0.667" stop-color="#453983"/><stop offset="0.833" stop-color="#481e6f"/><stop offset="1.000" stop-color="#440154"/></linearGradient>
<linearGradient id="gD35"><stop offset="0.000" stop-color="#3cad87"/><stop offset="0.167" stop-color="#3e918c"/><stop offset="0.333" stop-color="#3a718d"/><stop offset="0.500" stop-color="#3d548b"/><stop offset="0.667" stop-color="#453882"/><stop offset="0.833" stop-color="#481e6f"/><stop offset="1.000" stop-color="#440154"/></linearGradient>
<linearGradient id="gD36"><stop offset="0.000" stop-color="#3cab88"/><stop offset="0.167" stop-color="#3e8f8d"/><stop offset="0.333" stop-color="#3a6f8d"/><stop offset="0.500" stop-color="#3d528b"/><stop offset="0.667" stop-color="#453781"/><stop offset="0.833" stop-color="#481c6e"/><stop offset="1.000" stop-color="#440154"/></linearGradient>
<linearGradient id="gD37"><stop offset="0.000" stop-color="#3da889"/><stop offset="0.167" stop-color="#3d8c8d"/><stop offset="0.333" stop-color="#396d8d"/><stop offset="0.500" stop-color="#3e508a"/><stop offset="0.667" stop-color="#453781"/><stop offset="0.833" stop-color="#481c6e"/><stop offset="1.000" stop-color="#440154"/></linearGradient>
<linearGradient id="gD38"><stop offset="0.000" stop-color="#3da68a"/><stop offset="0.167" stop-color="#3d898d"/><stop offset="0.333" stop-color="#3a6b8d"/><stop offset="0.500" stop-color="#3e4f8a"/><stop offset="0.667" stop-color="#463681"/><stop offset="0.833" stop-color="#481c6e"/><stop offset="1.000" stop-color="#440154"/></linearGradient>
<linearGradient id="gD39"><stop offset="0.000" stop-color="#3ea38a"/><stop offset="0.167" stop-color="#3c878d"/><stop offset="0.333" stop-color="#3a698d"/><stop offset="0.500" stop-color="#3f4e8a"/><stop offset="0.667" stop-color="#463480"/><stop offset="0.833" stop-color="#481b6d"/><stop offset="1.000" stop-color="#440154"/></linearGradient>
<linearGradient id="gD40"><stop offset="0.000" stop-color="#3fa08b"/><stop offset="0.167" stop-color="#3c848d"/><stop offset="0.333" stop-color="#3a678d"/><stop offset="0.500" stop-color="#3f4d8a"/><stop offset="0.667" stop-color="#463480"/><stop offset="0.833" stop-color="#481b6d"/><stop offset="1.000" stop-color="#440154"/></linearGradient>
<linearGradient id="gD41"><stop offset="0.000" stop-color="#3f9e8b"/><stop offset="0.167" stop-color="#3c828d"/><stop offset="0.333" stop-color="#3a668d"/><stop offset="0.500" stop-color="#404b89"/><stop offset="0.667" stop-color="#46337f"/><stop offset="0.833" stop-color="#481b6d"/><stop offset="1.000" stop-color="#440154"/></linearGradient>
<linearGradient id="gD42"><stop offset="0.000" stop-color="#3f9b8c"/><stop offset="0.167" stop-color="#3b7f8d"/><stop offset="0.333" stop-color="#3a638d"/><stop offset="0.500" stop-color="#404a89"/><stop offset="0.667" stop-color="#46337f"/><stop offset="0.833" stop-color="#481a6c"/><stop offset="1.000" stop-color="#440154"/></linearGradient>
<linearGradient id="gD43"><stop offset="0.000" stop-color="#3f978c"/><stop offset="0.167" stop-color="#3b7c8d"/><stop offset="0.333" stop-color="#3a628d"/><stop offset="0.500" stop-color="#404989"/><stop offset="0.667" stop-color="#46327e"/><stop offset="0.833" stop-color="#481a6c"/><stop offset="1.000" stop-color="#440154"/></linearGradient>
<linearGradient id="gD44"><stop offset="0.000" stop-color="#3e958c"/><stop offset="0.167" stop-color="#3a7a8d"/><stop offset="0.333" stop-color="#3b608c"/><stop offset="0.500" stop-color="#414888"/><stop offset="0.667" stop-color="#47317e"/><stop offset="0.833" stop-color="#481a6c"/><stop offset="1.000" stop-color="#440154"/></linearGradient>
<linearGradient id="gD45"><stop offset="0.000" stop-color="#3e918c"/><stop offset="0.167" stop-color="#3a778d"/><stop offset="0.333" stop-color="#3b5e8c"/><stop offset="0.500" stop-color="#414788"/><stop offset="0.667" stop-color="#47317e"/><stop offset="0.833" stop-color="#48186a"/><stop offset="1.000" stop-color="#440154"/></linearGradient>
<linearGradient id="gD46"><stop offset="0.000" stop-color="#3e8e8d"/><stop offset="0.167" stop-color="#3a758d"/><stop offset="0.333" stop-color="#3b5c8c"/><stop offset="0.500" stop-color="#414788"/><stop offset="0.667" stop-color="#472f7d"/><stop offset="0.833" stop-color="#48186a"/><stop offset="1.000" stop-color="#440154"/></linearGradient>
<linearGradient id="gD47"><stop offset="0.000" stop-color="#3d8b8d"/><stop offset="0.167" stop-color="#3a728d"/><stop offset="0.333" stop-color="#3b5b8c"/><stop offset="0.500" stop-color="#414587"/><stop offset="0.667" stop-color="#472f7d"/><stop offset="0.833" stop-color="#48186a"/><stop offset="1.000" stop-color="#440154"/></linearGradient>
<linearGradient id="gD48"><stop offset="0.000" stop-color="#3d878d"/><stop offset="0.167" stop-color="#3a708d"/><stop offset="0.333" stop-color="#3c5a8c"/><stop offset="0.500" stop-color="#424487"/><stop offset="0.667" stop-color="#472e7c"/><stop offset="0.833" stop-color="#48186a"/><stop offset="1.000" stop-color="#440154"/></linearGradient>
<linearGradient id="gD49"><stop offset="0.000" stop-color="#3c848d"/><stop offset="0.167" stop-color="#3a6d8d"/><stop offset="0.333" stop-color="#3c578c"/><stop offset="0.500" stop-color="#424387"/><stop offset="0.667" stop-color="#472d7b"/><stop offset="0.833" stop-color="#481769"/><stop offset="1.000" stop-color="#440154"/></linearGradient>
<linearGradient id="gD50"><stop offset="0.000" stop-color="#3c818d"/><stop offset="0.167" stop-color="#3a6b8d"/><stop offset="0.333" stop-color="#3c568b"/><stop offset="0.500" stop-color="#424286"/><stop offset="0.667" stop-color="#472d7b"/><stop offset="0.833" stop-color="#481769"/><stop offset="1.000" stop-color="#440154"/></linearGradient>
<linearGradient id="gD51"><stop offset="0.000" stop-color="#3b7e8d"/><stop offset="0.167" stop-color="#3a688d"/><stop offset="0.333" stop-color="#3d548b"/><stop offset="0.500" stop-color="#434186"/><stop offset="0.667" stop-color="#472c7a"/><stop offset="0.833" stop-color="#481769"/><stop offset="1.000" stop-color="#440154"/></linearGradient>
<linearGradient id="gD52"><stop offset="0.000" stop-color="#3b7a8d"/><stop offset="0.167" stop-color="#3a668d"/><stop offset="0.333" stop-color="#3d538b"/><stop offset="0.500" stop-color="#433f85"/><stop offset="0.667" stop-color="#472c7a"/><stop offset="0.833" stop-color="#481769"/><stop offset="1.000" stop-color="#440154"/></linearGradient>
<linearGradient id="gD53"><stop offset="0.000" stop-color="#3a778d"/><stop offset="0.167" stop-color="#3a638d"/><stop offset="0.333" stop-color="#3e518b"/><stop offset="0.500" stop-color="#433e85"/><stop offset="0.667" stop-color="#482a79"/><stop offset="0.833" stop-color="#481668"/><stop offset="1.000" stop-color="#440154"/></linearGradient>
<linearGradient id="gD54"><stop offset="0.000" stop-color="#3a748d"/><stop offset="0.167" stop-color="#3a628d"/><stop offset="0.333" stop-color="#3e4f8a"/><stop offset="0.500" stop-color="#443d84"/><stop offset="0.667" stop-color="#482a79"/><stop offset="0.833" stop-color="#481668"/><stop offset="1.000" stop-color="#440154"/></linearGradient>
<linearGradient id="gD55"><stop offset="0.000" stop-color="#3a718d"/><stop offset="0.167" stop-color="#3a608c"/><stop offset="0.333" stop-color="#3f4e8a"/><stop offset="0.500" stop-color="#443c84"/><stop offset="0.667" stop-color="#482979"/><stop offset="0.833" stop-color="#481668"/><stop offset="1.000" stop-color="#440154"/></linearGradient>
<linearGradient id="gD56"><stop offset="0.000" stop-color="#396e8d"/><stop offset="0.167" stop-color="#3b5d8c"/><stop offset="0.333" stop-color="#3f4d8a"/><stop offset="0.500" stop-color="#443c84"/><stop offset="0.667" stop-color="#482979"/><stop offset="0.833" stop-color="#481668"/><stop offset="1.000" stop-color="#440154"/></linearGradient>
<linearGradient id="gD57"><stop offset="0.000" stop-color="#3a6b8d"/><stop offset="0.167" stop-color="#3b5b8c"/><stop offset="0.333" stop-color="#3f4b89"/><stop offset="0.500" stop-color="#443a83"/><stop offset="0.667" stop-color="#482878"/><stop offset="0.833" stop-color="#481467"/><stop offset="1.000" stop-color="#440154"/></linearGradient>
<linearGradient id="gD58"><stop offset="0.000" stop-color="#3a688d"/><stop offset="0.167" stop-color="#3c598c"/><stop offset="0.333" stop-color="#404989"/><stop offset="0.500" stop-color="#453983"/><stop offset="0.667" stop-color="#482878"/><stop offset="0.833" stop-color="#481467"/><stop offset="1.000" stop-color="#440154"/></linearGradient>
<linearGradient id="gD59"><stop offset="0.000" stop-color="#3a658d"/><stop offset="0.167" stop-color="#3c578c"/><stop offset="0.333" stop-color="#414888"/><stop offset="0.500" stop-color="#453882"/><stop offset="0.667" stop-color="#482777"/><stop offset="0.833" stop-color="#481467"/><stop offset="1.000" stop-color="#440154"/></linearGradient>
<linearGradient id="gD60"><stop offset="0.000" stop-color="#3a628d"/><stop offset="0.167" stop-color="#3d558b"/><stop offset="0.333" stop-color="#414788"/><stop offset="0.500" stop-color="#453781"/><stop offset="0.667" stop-color="#482777"/><stop offset="0.833" stop-color="#481467"/><stop offset="1.000" stop-color="#440154"/></linearGradient>
<linearGradient id="gD61"><stop offset="0.000" stop-color="#3b608c"/><stop offset="0.167" stop-color="#3d538b"/><stop offset="0.333" stop-color="#414587"/><stop offset="0.500" stop-color="#453781"/><stop offset="0.667" stop-color="#482777"/><stop offset="0.833" stop-color="#481467"/><stop offset="1.000" stop-color="#440154"/></linearGradient>
<linearGradient id="gD62"><stop offset="0.000" stop-color="#3b5d8c"/><stop offset="0.167" stop-color="#3e518b"/><stop offset="0.333" stop-color="#424487"/><stop offset="0.500" stop-color="#463681"/><stop offset="0.667" stop-color="#482576"/><stop offset="0.833" stop-color="#481467"/><stop offset="1.000" stop-color="#440154"/></linearGradient>
<linearGradient id="gD63"><stop offset="0.000" stop-color="#3c5a8c"/><stop offset="0.167" stop-color="#3e4f8a"/><stop offset="0.333" stop-color="#424387"/><stop offset="0.500" stop-color="#463480"/><stop offset="0.667" stop-color="#482576"/><stop offset="0.833" stop-color="#481467"/><stop offset="1.000" stop-color="#440154"/></linearGradient>
<linearGradient id="gD64"><stop offset="0.000" stop-color="#3c578c"/><stop offset="0.167" stop-color="#3f4d8a"/><stop offset="0.333" stop-color="#434186"/><stop offset="0.500" stop-color="#463480"/><stop offset="0.667" stop-color="#482576"/><stop offset="0.833" stop-color="#471365"/><stop offset="1.000" stop-color="#440154"/></linearGradient>
<linearGradient id="gD65"><stop offset="0.000" stop-color="#3d558b"/><stop offset="0.167" stop-color="#3f4b89"/><stop offset="0.333" stop-color="#433f85"/><stop offset="0.500" stop-color="#46337f"/><stop offset="0.667" stop-color="#482475"/><stop offset="0.833" stop-color="#471365"/><stop offset="1.000" stop-color="#440154"/></linearGradient>
<linearGradient id="gD66"><stop offset="0.000" stop-color="#3d528b"/><stop offset="0.167" stop-color="#404989"/><stop offset="0.333" stop-color="#433e85"/><stop offset="0.500" stop-color="#46327e"/><stop offset="0.667" stop-color="#482475"/><stop offset="0.833" stop-color="#471365"/><stop offset="1.000" stop-color="#440154"/></linearGradient>
<linearGradient id="gD67"><stop offset="0.000" stop-color="#3e508a"/><stop offset="0.167" stop-color="#414888"/><stop offset="0.333" stop-color="#443d84"/><stop offset="0.500" stop-color="#46327e"/><stop offset="0.667" stop-color="#482475"/><stop offset="0.833" stop-color="#471365"/><stop offset="1.000" stop-color="#440154"/></linearGradient>
<linearGradient id="gD68"><stop offset="0.000" stop-color="#3f4e8a"/><stop offset="0.167" stop-color="#414587"/><stop offset="0.333" stop-color="#443c84"/><stop offset="0.500" stop-color="#47317e"/><stop offset="0.667" stop-color="#482374"/><stop offset="0.833" stop-color="#471365"/><stop offset="1.000" stop-color="#440154"/></linearGradient>
<linearGradient id="gD69"><stop offset="0.000" stop-color="#3f4b89"/><stop offset="0.167" stop-color="#424487"/><stop offset="0.333" stop-color="#443a83"/><stop offset="0.500" stop-color="#472f7d"/><stop offset="0.667" stop-color="#482374"/><stop offset="0.833" stop-color="#471365"/><stop offset="1.000" stop-color="#440154"/></linearGradient>
<linearGradient id="gD70"><stop offset="0.000" stop-color="#404989"/><stop offset="0.167" stop-color="#424286"/><stop offset="0.333" stop-color="#453983"/><stop offset="0.500" stop-color="#472f7d"/><stop offset="0.667" stop-color="#482374"/><stop offset="0.833" stop-color="#471365"/><stop offset="1.000" stop-color="#440154"/></linearGradient>
<linearGradient id="gD71"><stop offset="0.000" stop-color="#414788"/><stop offset="0.167" stop-color="#434186"/><stop offset="0.333" stop-color="#453882"/><stop offset="0.500" stop-color="#472e7c"/><stop offset="0.667" stop-color="#482374"/><stop offset="0.833" stop-color="#471365"/><stop offset="1.000" stop-color="#440154"/></linearGradient>
<linearGradient id="gD72"><stop offset="0.000" stop-color="#424487"/><stop offset="0.167" stop-color="#433e85"/><stop offset="0.333" stop-color="#453882"/><stop offset="0.500" stop-color="#472e7c"/><stop offset="0.667" stop-color="#482374"/><stop offset="0.833" stop-color="#471365"/><stop offset="1.000" stop-color="#440154"/></linearGradient>
<linearGradient id="gD73"><stop offset="0.000" stop-color="#424286"/><stop offset="0.167" stop-color="#443d84"/><stop offset="0.333" stop-color="#453781"/><stop offset="0.500" stop-color="#472d7b"/><stop offset="0.667" stop-color="#482173"/><stop offset="0.833" stop-color="#471365"/><stop offset="1.000" stop-color="#440154"/></linearGradient>
<linearGradient id="gD74"><stop offset="0.000" stop-color="#433f85"/><stop offset="0.167" stop-color="#443c84"/><stop offset="0.333" stop-color="#463681"/><stop offset="0.500" stop-color="#472d7b"/><stop offset="0.667" stop-color="#482173"/><stop offset="0.833" stop-color="#481467"/><stop offset="1.000" stop-color="#440154"/></linearGradient>
<linearGradient id="gD75"><stop offset="0.000" stop-color="#443d84"/><stop offset="0.167" stop-color="#453983"/><stop offset="0.333" stop-color="#463480"/><stop offset="0.500" stop-color="#472d7b"/><stop offset="0.667" stop-color="#482173"/><stop offset="0.833" stop-color="#481467"/><stop offset="1.000" stop-color="#440154"/></linearGradient>
<linearGradient id="gD76"><stop offset="0.000" stop-color="#443a83"/><stop offset="0.167" stop-color="#453882"/><stop offset="0.333" stop-color="#46337f"/><stop offset="0.500" stop-color="#472c7a"/><stop offset="0.667" stop-color="#482173"/><stop offset="0.833" stop-color="#481467"/><stop offset="1.000" stop-color="#440154"/></linearGradient>
<linearGradient id="gD77"><stop offset="0.000" stop-color="#453882"/><stop offset="0.167" stop-color="#453781"/><stop offset="0.333" stop-color="#46327e"/><stop offset="0.500" stop-color="#472c7a"/><stop offset="0.667" stop-color="#482173"/><stop offset="0.833" stop-color="#481467"/><stop offset="1.000" stop-color="#440256"/></linearGradient>
<linearGradient id="gD78"><stop offset="0.000" stop-color="#463681"/><stop offset="0.167" stop-color="#463681"/><stop offset="0.333" stop-color="#46327e"/><stop offset="0.500" stop-color="#482a79"/><stop offset="0.667" stop-color="#482173"/><stop offset="0.833" stop-color="#481467"/><stop offset="1.000" stop-color="#440256"/></linearGradient>
<clipPath id="cpE"><rect x="250.1" y="222.6" width="154.00" height="157.10"/></clipPath>
<linearGradient id="gE0"><stop offset="0.000" stop-color="#3c5a8c"/><stop offset="0.167" stop-color="#3c588c"/><stop offset="0.333" stop-color="#3d568b"/><stop offset="0.500" stop-color="#3d558b"/><stop offset="0.667" stop-color="#3d548b"/><stop offset="0.833" stop-color="#3d528b"/><stop offset="1.000" stop-color="#3e518b"/></linearGradient>
<linearGradient id="gE1"><stop offset="0.000" stop-color="#3c598c"/><stop offset="0.167" stop-color="#3c578c"/><stop offset="0.333" stop-color="#3c568b"/><stop offset="0.500" stop-color="#3d558b"/><stop offset="0.667" stop-color="#3d538b"/><stop offset="0.833" stop-color="#3e518b"/><stop offset="1.000" stop-color="#3e508a"/></linearGradient>
<linearGradient id="gE2"><stop offset="0.000" stop-color="#3c588c"/><stop offset="0.167" stop-color="#3d568b"/><stop offset="0.333" stop-color="#3d558b"/><stop offset="0.500" stop-color="#3d548b"/><stop offset="0.667" stop-color="#3d528b"/><stop offset="0.833" stop-color="#3e518b"/><stop offset="1.000" stop-color="#3e508a"/></linearGradient>
<linearGradient id="gE3"><stop offset="0.000" stop-color="#3c578c"/><stop offset="0.167" stop-color="#3c568b"/><stop offset="0.333" stop-color="#3d558b"/><stop offset="0.500" stop-color="#3d538b"/><stop offset="0.667" stop-color="#3e518b"/><stop offset="0.833" stop-color="#3e508a"/><stop offset="1.000" stop-color="#3e4f8a"/></linearGradient>
<linearGradient id="gE4"><stop offset="0.000" stop-color="#3c578c"/><stop offset="0.167" stop-color="#3d558b"/><stop offset="0.333" stop-color="#3d548b"/><stop offset="0.500" stop-color="#3d528b"/><stop offset="0.667" stop-color="#3e518b"/><stop offset="0.833" stop-color="#3e508a"/><stop offset="1.000" stop-color="#3f4e8a"/></linearGradient>
<linearGradient id="gE5"><stop offset="0.000" stop-color="#3c568b"/><stop offset="0.167" stop-color="#3d558b"/><stop offset="0.333" stop-color="#3d538b"/><stop offset="0.500" stop-color="#3e518b"/><stop offset="0.667" stop-color="#3e508a"/><stop offset="0.833" stop-color="#3e4f8a"/><stop offset="1.000" stop-color="#3f4e8a"/></linearGradient>
<linearGradient id="gE6"><stop offset="0.000" stop-color="#3d558b"/><stop offset="0.167" stop-color="#3d548b"/><stop offset="0.333" stop-color="#3d528b"/><stop offset="0.500" stop-color="#3e518b"/><stop offset="0.667" stop-color="#3e508a"/><stop offset="0.833" stop-color="#3f4e8a"/><stop offset="1.000" stop-color="#3f4d8a"/></linearGradient>
<linearGradient id="gE7"><stop offset="0.000" stop-color="#3d558b"/><stop offset="0.167" stop-color="#3d538b"/><stop offset="0.333" stop-color="#3e518b"/><stop offset="0.500" stop-color="#3e508a"/><stop offset="0.667" stop-color="#3e4f8a"/><stop offset="0.833" stop-color="#3f4e8a"/><stop offset="1.000" stop-color="#3f4d8a"/></linearGradient>
<linearGradient id="gE8"><stop offset="0.000" stop-color="#3d548b"/><stop offset="0.167" stop-color="#3d528b"/><stop offset="0.333" stop-color="#3e518b"/><stop offset="0.500" stop-color="#3e4f8a"/><stop offset="0.667" stop-color="#3f4e8a"/><stop offset="0.833" stop-color="#3f4d8a"/><stop offset="1.000" stop-color="#3f4b89"/></linearGradient>
<linearGradient id="gE9"><stop offset="0.000" stop-color="#3d538b"/><stop offset="0.167" stop-color="#3e518b"/><stop offset="0.333" stop-color="#3e508a"/><stop offset="0.500" stop-color="#3e4f8a"/><stop offset="0.667" stop-color="#3f4e8a"/><stop offset="0.833" stop-color="#3f4d8a"/><stop offset="1.000" stop-color="#3f4b89"/></linearGradient>
<linearGradient id="gE10"><stop offset="0.000" stop-color="#3d528b"/><stop offset="0.167" stop-color="#3e518b"/><stop offset="0.333" stop-color="#3e4f8a"/><stop offset="0.500" stop-color="#3f4e8a"/><stop offset="0.667" stop-color="#3f4d8a"/><stop offset="0.833" stop-color="#3f4b89"/><stop offset="1.000" stop-color="#404a89"/></linearGradient>
<linearGradient id="gE11"><stop offset="0.000" stop-color="#3e518b"/><stop offset="0.167" stop-color="#3e508a"/><stop offset="0.333" stop-color="#3e4f8a"/><stop offset="0.500" stop-color="#3f4e8a"/><stop offset="0.667" stop-color="#3f4d8a"/><stop offset="0.833" stop-color="#3f4b89"/><stop offset="1.000" stop-color="#404a89"/></linearGradient>
<linearGradient id="gE12"><stop offset="0.000" stop-color="#3e508a"/><stop offset="0.167" stop-color="#3e4f8a"/><stop offset="0.333" stop-color="#3f4e8a"/><stop offset="0.500" stop-color="#3f4d8a"/><stop offset="0.667" stop-color="#3f4b89"/><stop offset="0.833" stop-color="#404a89"/><stop offset="1.000" stop-color="#404989"/></linearGradient>
<linearGradient id="gE13"><stop offset="0.000" stop-color="#3e508a"/><stop offset="0.167" stop-color="#3e4f8a"/><stop offset="0.333" stop-color="#3f4d8a"/><stop offset="0.500" stop-color="#404b89"/><stop offset="0.667" stop-color="#404a89"/><stop offset="0.833" stop-color="#404989"/><stop offset="1.000" stop-color="#414888"/></linearGradient>
<linearGradient id="gE14"><stop offset="0.000" stop-color="#3e4f8a"/><stop offset="0.167" stop-color="#3f4e8a"/><stop offset="0.333" stop-color="#3f4d8a"/><stop offset="0.500" stop-color="#3f4b89"/><stop offset="0.667" stop-color="#404a89"/><stop offset="0.833" stop-color="#404989"/><stop offset="1.000" stop-color="#414888"/></linearGradient>
<linearGradient id="gE15"><stop offset="0.000" stop-color="#3f4e8a"/><stop offset="0.167" stop-color="#3f4d8a"/><stop offset="0.333" stop-color="#3f4b89"/><stop offset="0.500" stop-color="#404a89"/><stop offset="0.667" stop-color="#404989"/><stop offset="0.833" stop-color="#414888"/><stop offset="1.000" stop-color="#414788"/></linearGradient>
<linearGradient id="gE16"><stop offset="0.000" stop-color="#3f4e8a"/><stop offset="0.167" stop-color="#3f4d8a"/><stop offset="0.333" stop-color="#3f4b89"/><stop offset="0.500" stop-color="#404a89"/><stop offset="0.667" stop-color="#414888"/><stop offset="0.833" stop-color="#414888"/><stop offset="1.000" stop-color="#414788"/></linearGradient>
<linearGradient id="gE17"><stop offset="0.000" stop-color="#3f4d8a"/><stop offset="0.167" stop-color="#3f4b89"/><stop offset="0.333" stop-color="#404a89"/><stop offset="0.500" stop-color="#404989"/><stop offset="0.667" stop-color="#414888"/><stop offset="0.833" stop-color="#414788"/><stop offset="1.000" stop-color="#414587"/></linearGradient>
<linearGradient id="gE18"><stop offset="0.000" stop-color="#404b89"/><stop offset="0.167" stop-color="#404a89"/><stop offset="0.333" stop-color="#404989"/><stop offset="0.500" stop-color="#414888"/><stop offset="0.667" stop-color="#414788"/><stop offset="0.833" stop-color="#414587"/><stop offset="1.000" stop-color="#424487"/></linearGradient>
<linearGradient id="gE19"><stop offset="0.000" stop-color="#3f4b89"/><stop offset="0.167" stop-color="#404a89"/><stop offset="0.333" stop-color="#404989"/><stop offset="0.500" stop-color="#414888"/><stop offset="0.667" stop-color="#414788"/><stop offset="0.833" stop-color="#414587"/><stop offset="1.000" stop-color="#424487"/></linearGradient>
<linearGradient id="gE20"><stop offset="0.000" stop-color="#404a89"/><stop offset="0.167" stop-color="#404989"/><stop offset="0.333" stop-color="#414888"/><stop offset="0.500" stop-color="#414788"/><stop offset="0.667" stop-color="#414587"/><stop offset="0.833" stop-color="#424487"/><stop offset="1.000" stop-color="#424387"/></linearGradient>
<linearGradient id="gE21"><stop offset="0.000" stop-color="#404989"/><stop offset="0.167" stop-color="#414888"/><stop offset="0.333" stop-color="#414788"/><stop offset="0.500" stop-color="#414587"/><stop offset="0.667" stop-color="#424487"/><stop offset="0.833" stop-color="#424387"/><stop offset="1.000" stop-color="#424387"/></linearGradient>
<linearGradient id="gE22"><stop offset="0.000" stop-color="#404989"/><stop offset="0.167" stop-color="#414888"/><stop offset="0.333" stop-color="#414788"/><stop offset="0.500" stop-color="#414587"/><stop offset="0.667" stop-color="#424487"/><stop offset="0.833" stop-color="#424387"/><stop offset="1.000" stop-color="#424286"/></linearGradient>
<linearGradient id="gE23"><stop offset="0.000" stop-color="#414888"/><stop offset="0.167" stop-color="#414788"/><stop offset="0.333" stop-color="#414587"/><stop offset="0.500" stop-color="#424487"/><stop offset="0.667" stop-color="#424387"/><stop offset="0.833" stop-color="#424286"/><stop offset="1.000" stop-color="#434186"/></linearGradient>
<linearGradient id="gE24"><stop offset="0.000" stop-color="#414788"/><stop offset="0.167" stop-color="#414587"/><stop offset="0.333" stop-color="#424487"/><stop offset="0.500" stop-color="#424387"/><stop offset="0.667" stop-color="#424286"/><stop offset="0.833" stop-color="#424286"/><stop offset="1.000" stop-color="#434186"/></linearGradient>
<linearGradient id="gE25"><stop offset="0.000" stop-color="#414788"/><stop offset="0.167" stop-color="#414587"/><stop offset="0.333" stop-color="#424487"/><stop offset="0.500" stop-color="#424387"/><stop offset="0.667" stop-color="#424286"/><stop offset="0.833" stop-color="#434186"/><stop offset="1.000" stop-color="#433f85"/></linearGradient>
<linearGradient id="gE26"><stop offset="0.000" stop-color="#414587"/><stop offset="0.167" stop-color="#424487"/><stop offset="0.333" stop-color="#424387"/><stop offset="0.500" stop-color="#424286"/><stop offset="0.667" stop-color="#434186"/><stop offset="0.833" stop-color="#433f85"/><stop offset="1.000" stop-color="#433e85"/></linearGradient>
<linearGradient id="gE27"><stop offset="0.000" stop-color="#424487"/><stop offset="0.167" stop-color="#424387"/><stop offset="0.333" stop-color="#424286"/><stop offset="0.500" stop-color="#434186"/><stop offset="0.667" stop-color="#434186"/><stop offset="0.833" stop-color="#433f85"/><stop offset="1.000" stop-color="#433e85"/></linearGradient>
<linearGradient id="gE28"><stop offset="0.000" stop-color="#424487"/><stop offset="0.167" stop-color="#424387"/><stop offset="0.333" stop-color="#424286"/><stop offset="0.500" stop-color="#434186"/><stop offset="0.667" stop-color="#433f85"/><stop offset="0.833" stop-color="#433e85"/><stop offset="1.000" stop-color="#443d84"/></linearGradient>
<linearGradient id="gE29"><stop offset="0.000" stop-color="#424387"/><stop offset="0.167" stop-color="#424286"/><stop offset="0.333" stop-color="#434186"/><stop offset="0.500" stop-color="#433f85"/><stop offset="0.667" stop-color="#433e85"/><stop offset="0.833" stop-color="#443d84"/><stop offset="1.000" stop-color="#443d84"/></linearGradient>
<linearGradient id="gE30"><stop offset="0.000" stop-color="#424286"/><stop offset="0.167" stop-color="#434186"/><stop offset="0.333" stop-color="#433f85"/><stop offset="0.500" stop-color="#433f85"/><stop offset="0.667" stop-color="#433e85"/><stop offset="0.833" stop-color="#443d84"/><stop offset="1.000" stop-color="#443c84"/></linearGradient>
<linearGradient id="gE31"><stop offset="0.000" stop-color="#424286"/><stop offset="0.167" stop-color="#434186"/><stop offset="0.333" stop-color="#433f85"/><stop offset="0.500" stop-color="#433e85"/><stop offset="0.667" stop-color="#443d84"/><stop offset="0.833" stop-color="#443c84"/><stop offset="1.000" stop-color="#443a83"/></linearGradient>
<linearGradient id="gE32"><stop offset="0.000" stop-color="#434186"/><stop offset="0.167" stop-color="#433f85"/><stop offset="0.333" stop-color="#433e85"/><stop offset="0.500" stop-color="#443d84"/><stop offset="0.667" stop-color="#443c84"/><stop offset="0.833" stop-color="#443c84"/><stop offset="1.000" stop-color="#443a83"/></linearGradient>
<linearGradient id="gE33"><stop offset="0.000" stop-color="#433f85"/><stop offset="0.167" stop-color="#433e85"/><stop offset="0.333" stop-color="#443d84"/><stop offset="0.500" stop-color="#443d84"/><stop offset="0.667" stop-color="#443c84"/><stop offset="0.833" stop-color="#443a83"/><stop offset="1.000" stop-color="#453983"/></linearGradient>
<linearGradient id="gE34"><stop offset="0.000" stop-color="#433f85"/><stop offset="0.167" stop-color="#433e85"/><stop offset="0.333" stop-color="#443d84"/><stop offset="0.500" stop-color="#443c84"/><stop offset="0.667" stop-color="#443a83"/><stop offset="0.833" stop-color="#453983"/><stop offset="1.000" stop-color="#453983"/></linearGradient>
<linearGradient id="gE35"><stop offset="0.000" stop-color="#433e85"/><stop offset="0.167" stop-color="#443d84"/><stop offset="0.333" stop-color="#443c84"/><stop offset="0.500" stop-color="#443a83"/><stop offset="0.667" stop-color="#453983"/><stop offset="0.833" stop-color="#453983"/><stop offset="1.000" stop-color="#453882"/></linearGradient>
<linearGradient id="gE36"><stop offset="0.000" stop-color="#443d84"/><stop offset="0.167" stop-color="#443c84"/><stop offset="0.333" stop-color="#443a83"/><stop offset="0.500" stop-color="#443a83"/><stop offset="0.667" stop-color="#453983"/><stop offset="0.833" stop-color="#453882"/><stop offset="1.000" stop-color="#453781"/></linearGradient>
<linearGradient id="gE37"><stop offset="0.000" stop-color="#443d84"/><stop offset="0.167" stop-color="#443c84"/><stop offset="0.333" stop-color="#443a83"/><stop offset="0.500" stop-color="#453983"/><stop offset="0.667" stop-color="#453882"/><stop offset="0.833" stop-color="#453781"/><stop offset="1.000" stop-color="#453781"/></linearGradient>
<linearGradient id="gE38"><stop offset="0.000" stop-color="#443c84"/><stop offset="0.167" stop-color="#443a83"/><stop offset="0.333" stop-color="#453983"/><stop offset="0.500" stop-color="#453882"/><stop offset="0.667" stop-color="#453882"/><stop offset="0.833" stop-color="#453781"/><stop offset="1.000" stop-color="#463681"/></linearGradient>
<linearGradient id="gE39"><stop offset="0.000" stop-color="#443a83"/><stop offset="0.167" stop-color="#453983"/><stop offset="0.333" stop-color="#453983"/><stop offset="0.500" stop-color="#453882"/><stop offset="0.667" stop-color="#453781"/><stop offset="0.833" stop-color="#463681"/><stop offset="1.000" stop-color="#463681"/></linearGradient>
<linearGradient id="gE40"><stop offset="0.000" stop-color="#443a83"/><stop offset="0.167" stop-color="#453983"/><stop offset="0.333" stop-color="#453882"/><stop offset="0.500" stop-color="#453781"/><stop offset="0.667" stop-color="#463681"/><stop offset="0.833" stop-color="#463681"/><stop offset="1.000" stop-color="#463480"/></linearGradient>
<linearGradient id="gE41"><stop offset="0.000" stop-color="#453983"/><stop offset="0.167" stop-color="#453882"/><stop offset="0.333" stop-color="#453781"/><stop offset="0.500" stop-color="#463681"/><stop offset="0.667" stop-color="#463681"/><stop offset="0.833" stop-color="#463480"/><stop offset="1.000" stop-color="#46337f"/></linearGradient>
<linearGradient id="gE42"><stop offset="0.000" stop-color="#453882"/><stop offset="0.167" stop-color="#453781"/><stop offset="0.333" stop-color="#453781"/><stop offset="0.500" stop-color="#463681"/><stop offset="0.667" stop-color="#463480"/><stop offset="0.833" stop-color="#46337f"/><stop offset="1.000" stop-color="#46337f"/></linearGradient>
<linearGradient id="gE43"><stop offset="0.000" stop-color="#453882"/><stop offset="0.167" stop-color="#453781"/><stop offset="0.333" stop-color="#463681"/><stop offset="0.500" stop-color="#463480"/><stop offset="0.667" stop-color="#463480"/><stop offset="0.833" stop-color="#46337f"/><stop offset="1.000" stop-color="#46327e"/></linearGradient>
<linearGradient id="gE44"><stop offset="0.000" stop-color="#453781"/><stop offset="0.167" stop-color="#463681"/><stop offset="0.333" stop-color="#463480"/><stop offset="0.500" stop-color="#463480"/><stop offset="0.667" stop-color="#46337f"/><stop offset="0.833" stop-color="#46327e"/><stop offset="1.000" stop-color="#46327e"/></linearGradient>
<linearGradient id="gE45"><stop offset="0.000" stop-color="#463681"/><stop offset="0.167" stop-color="#463480"/><stop offset="0.333" stop-color="#463480"/><stop offset="0.500" stop-color="#46337f"/><stop offset="0.667" stop-color="#46327e"/><stop offset="0.833" stop-color="#46327e"/><stop offset="1.000" stop-color="#47317e"/></linearGradient>
<linearGradient id="gE46"><stop offset="0.000" stop-color="#463681"/><stop offset="0.167" stop-color="#463480"/><stop offset="0.333" stop-color="#46337f"/><stop offset="0.500" stop-color="#46327e"/><stop offset="0.667" stop-color="#46327e"/><stop offset="0.833" stop-color="#47317e"/><stop offset="1.000" stop-color="#472f7d"/></linearGradient>
<linearGradient id="gE47"><stop offset="0.000" stop-color="#463480"/><stop offset="0.167" stop-color="#46337f"/><stop offset="0.333" stop-color="#46327e"/><stop offset="0.500" stop-color="#46327e"/><stop offset="0.667" stop-color="#47317e"/><stop offset="0.833" stop-color="#472f7d"/><stop offset="1.000" stop-color="#472f7d"/></linearGradient>
<linearGradient id="gE48"><stop offset="0.000" stop-color="#46337f"/><stop offset="0.167" stop-color="#46337f"/><stop offset="0.333" stop-color="#46327e"/><stop offset="0.500" stop-color="#47317e"/><stop offset="0.667" stop-color="#47317e"/><stop offset="0.833" stop-color="#472f7d"/><stop offset="1.000" stop-color="#472e7c"/></linearGradient>
<linearGradient id="gE49"><stop offset="0.000" stop-color="#46337f"/><stop offset="0.167" stop-color="#46327e"/><stop offset="0.333" stop-color="#47317e"/><stop offset="0.500" stop-color="#47317e"/><stop offset="0.667" stop-color="#472f7d"/><stop offset="0.833" stop-color="#472e7c"/><stop offset="1.000" stop-color="#472e7c"/></linearGradient>
<linearGradient id="gE50"><stop offset="0.000" stop-color="#46327e"/><stop offset="0.167" stop-color="#47317e"/><stop offset="0.333" stop-color="#47317e"/><stop offset="0.500" stop-color="#472f7d"/><stop offset="0.667" stop-color="#472e7c"/><stop offset="0.833" stop-color="#472e7c"/><stop offset="1.000" stop-color="#472d7b"/></linearGradient>
<linearGradient id="gE51"><stop offset="0.000" stop-color="#47317e"/><stop offset="0.167" stop-color="#47317e"/><stop offset="0.333" stop-color="#472f7d"/><stop offset="0.500" stop-color="#472e7c"/><stop offset="0.667" stop-color="#472e7c"/><stop offset="0.833" stop-color="#472d7b"/><stop offset="1.000" stop-color="#472d7b"/></linearGradient>
<linearGradient id="gE52"><stop offset="0.000" stop-color="#47317e"/><stop offset="0.167" stop-color="#472f7d"/><stop offset="0.333" stop-color="#472e7c"/><stop offset="0.500" stop-color="#472e7c"/><stop offset="0.667" stop-color="#472d7b"/><stop offset="0.833" stop-color="#472d7b"/><stop offset="1.000" stop-color="#472c7a"/></linearGradient>
<linearGradient id="gE53"><stop offset="0.000" stop-color="#472f7d"/><stop offset="0.167" stop-color="#472e7c"/><stop offset="0.333" stop-color="#472e7c"/><stop offset="0.500" stop-color="#472d7b"/><stop offset="0.667" stop-color="#472d7b"/><stop offset="0.833" stop-color="#472c7a"/><stop offset="1.000" stop-color="#482a79"/></linearGradient>
<linearGradient id="gE54"><stop offset="0.000" stop-color="#472f7d"/><stop offset="0.167" stop-color="#472e7c"/><stop offset="0.333" stop-color="#472d7b"/><stop offset="0.500" stop-color="#472d7b"/><stop offset="0.667" stop-color="#472c7a"/><stop offset="0.833" stop-color="#482a79"/><stop offset="1.000" stop-color="#482a79"/></linearGradient>
<linearGradient id="gE55"><stop offset="0.000" stop-color="#472e7c"/><stop offset="0.167" stop-color="#472d7b"/><stop offset="0.333" stop-color="#472d7b"/><stop offset="0.500" stop-color="#472c7a"/><stop offset="0.667" stop-color="#482a79"/><stop offset="0.833" stop-color="#482a79"/><stop offset="1.000" stop-color="#482979"/></linearGradient>
<linearGradient id="gE56"><stop offset="0.000" stop-color="#472d7b"/><stop offset="0.167" stop-color="#472d7b"/><stop offset="0.333" stop-color="#472c7a"/><stop offset="0.500" stop-color="#482a79"/><stop offset="0.667" stop-color="#482a79"/><stop offset="0.833" stop-color="#482979"/><stop offset="1.000" stop-color="#482979"/></linearGradient>
<linearGradient id="gE57"><stop offset="0.000" stop-color="#472d7b"/><stop offset="0.167" stop-color="#472c7a"/><stop offset="0.333" stop-color="#482a79"/><stop offset="0.500" stop-color="#482a79"/><stop offset="0.667" stop-color="#482979"/><stop offset="0.833" stop-color="#482979"/><stop offset="1.000" stop-color="#482878"/></linearGradient>
<linearGradient id="gE58"><stop offset="0.000" stop-color="#472c7a"/><stop offset="0.167" stop-color="#482a79"/><stop offset="0.333" stop-color="#482a79"/><stop offset="0.500" stop-color="#482979"/><stop offset="0.667" stop-color="#482979"/><stop offset="0.833" stop-color="#482878"/><stop offset="1.000" stop-color="#482878"/></linearGradient>
<linearGradient id="gE59"><stop offset="0.000" stop-color="#472c7a"/><stop offset="0.167" stop-color="#482a79"/><stop offset="0.333" stop-color="#482979"/><stop offset="0.500" stop-color="#482979"/><stop offset="0.667" stop-color="#482878"/><stop offset="0.833" stop-color="#482878"/><stop offset="1.000" stop-color="#482777"/></linearGradient>
<linearGradient id="gE60"><stop offset="0.000" stop-color="#482a79"/><stop offset="0.167" stop-color="#482979"/><stop offset="0.333" stop-color="#482979"/><stop offset="0.500" stop-color="#482878"/><stop offset="0.667" stop-color="#482878"/><stop offset="0.833" stop-color="#482777"/><stop offset="1.000" stop-color="#482777"/></linearGradient>
<linearGradient id="gE61"><stop offset="0.000" stop-color="#482979"/><stop offset="0.167" stop-color="#482979"/><stop offset="0.333" stop-color="#482878"/><stop offset="0.500" stop-color="#482878"/><stop offset="0.667" stop-color="#482777"/><stop offset="0.833" stop-color="#482777"/><stop offset="1.000" stop-color="#482576"/></linearGradient>
<linearGradient id="gE62"><stop offset="0.000" stop-color="#482979"/><stop offset="0.167" stop-color="#482878"/><stop offset="0.333" stop-color="#482878"/><stop offset="0.500" stop-color="#482777"/><stop offset="0.667" stop-color="#482777"/><stop offset="0.833" stop-color="#482576"/><stop offset="1.000" stop-color="#482576"/></linearGradient>
<linearGradient id="gE63"><stop offset="0.000" stop-color="#482878"/><stop offset="0.167" stop-color="#482878"/><stop offset="0.333" stop-color="#482777"/><stop offset="0.500" stop-color="#482777"/><stop offset="0.667" stop-color="#482576"/><stop offset="0.833" stop-color="#482576"/><stop offset="1.000" stop-color="#482475"/></linearGradient>
<linearGradient id="gE64"><stop offset="0.000" stop-color="#482878"/><stop offset="0.167" stop-color="#482777"/><stop offset="0.333" stop-color="#482777"/><stop offset="0.500" stop-color="#482576"/><stop offset="0.667" stop-color="#482576"/><stop offset="0.833" stop-color="#482475"/><stop offset="1.000" stop-color="#482475"/></linearGradient>
<linearGradient id="gE65"><stop offset="0.000" stop-color="#482777"/><stop offset="0.167" stop-color="#482777"/><stop offset="0.333" stop-color="#482576"/><stop offset="0.500" stop-color="#482576"/><stop offset="0.667" stop-color="#482475"/><stop offset="0.833" stop-color="#482475"/><stop offset="1.000" stop-color="#482374"/></linearGradient>
<linearGradient id="gE66"><stop offset="0.000" stop-color="#482777"/><stop offset="0.167" stop-color="#482576"/><stop offset="0.333" stop-color="#482576"/><stop offset="0.500" stop-color="#482475"/><stop offset="0.667" stop-color="#482475"/><stop offset="0.833" stop-color="#482374"/><stop offset="1.000" stop-color="#482374"/></linearGradient>
<linearGradient id="gE67"><stop offset="0.000" stop-color="#482576"/><stop offset="0.167" stop-color="#482576"/><stop offset="0.333" stop-color="#482475"/><stop offset="0.500" stop-color="#482475"/><stop offset="0.667" stop-color="#482374"/><stop offset="0.833" stop-color="#482374"/><stop offset="1.000" stop-color="#482173"/></linearGradient>
<linearGradient id="gE68"><stop offset="0.000" stop-color="#482475"/><stop offset="0.167" stop-color="#482475"/><stop offset="0.333" stop-color="#482475"/><stop offset="0.500" stop-color="#482374"/><stop offset="0.667" stop-color="#482374"/><stop offset="0.833" stop-color="#482173"/><stop offset="1.000" stop-color="#482173"/></linearGradient>
<linearGradient id="gE69"><stop offset="0.000" stop-color="#482475"/><stop offset="0.167" stop-color="#482374"/><stop offset="0.333" stop-color="#482374"/><stop offset="0.500" stop-color="#482374"/><stop offset="0.667" stop-color="#482173"/><stop offset="0.833" stop-color="#482173"/><stop offset="1.000" stop-color="#482071"/></linearGradient>
<linearGradient id="gE70"><stop offset="0.000" stop-color="#482374"/><stop offset="0.167" stop-color="#482374"/><stop offset="0.333" stop-color="#482173"/><stop offset="0.500" stop-color="#482173"/><stop offset="0.667" stop-color="#482173"/><stop offset="0.833" stop-color="#482071"/><stop offset="1.000" stop-color="#482071"/></linearGradient>
<linearGradient id="gE71"><stop offset="0.000" stop-color="#482374"/><stop offset="0.167" stop-color="#482173"/><stop offset="0.333" stop-color="#482173"/><stop offset="0.500" stop-color="#482173"/><stop offset="0.667" stop-color="#482071"/><stop offset="0.833" stop-color="#482071"/><stop offset="1.000" stop-color="#481f70"/></linearGradient>
<linearGradient id="gE72"><stop offset="0.000" stop-color="#482173"/><stop offset="0.167" stop-color="#482173"/><stop offset="0.333" stop-color="#482173"/><stop offset="0.500" stop-color="#482071"/><stop offset="0.667" stop-color="#482071"/><stop offset="0.833" stop-color="#481f70"/><stop offset="1.000" stop-color="#481f70"/></linearGradient>
<linearGradient id="gE73"><stop offset="0.000" stop-color="#482173"/><stop offset="0.167" stop-color="#482071"/><stop offset="0.333" stop-color="#482071"/><stop offset="0.500" stop-color="#482071"/><stop offset="0.667" stop-color="#481f70"/><stop offset="0.833" stop-color="#481f70"/><stop offset="1.000" stop-color="#481e6f"/></linearGradient>
<linearGradient id="gE74"><stop offset="0.000" stop-color="#482071"/><stop offset="0.167" stop-color="#482071"/><stop offset="0.333" stop-color="#482071"/><stop offset="0.500" stop-color="#481f70"/><stop offset="0.667" stop-color="#481f70"/><stop offset="0.833" stop-color="#481e6f"/><stop offset="1.000" stop-color="#481e6f"/></linearGradient>
<linearGradient id="gE75"><stop offset="0.000" stop-color="#482071"/><stop offset="0.167" stop-color="#481f70"/><stop offset="0.333" stop-color="#481f70"/><stop offset="0.500" stop-color="#481f70"/><stop offset="0.667" stop-color="#481e6f"/><stop offset="0.833" stop-color="#481e6f"/><stop offset="1.000" stop-color="#481e6f"/></linearGradient>
<linearGradient id="gE76"><stop offset="0.000" stop-color="#481f70"/><stop offset="0.167" stop-color="#481f70"/><stop offset="0.333" stop-color="#481f70"/><stop offset="0.500" stop-color="#481e6f"/><stop offset="0.667" stop-color="#481e6f"/><stop offset="0.833" stop-color="#481c6e"/><stop offset="1.000" stop-color="#481c6e"/></linearGradient>
<linearGradient id="gE77"><stop offset="0.000" stop-color="#481f70"/><stop offset="0.167" stop-color="#481f70"/><stop offset="0.333" stop-color="#481e6f"/><stop offset="0.500" stop-color="#481e6f"/><stop offset="0.667" stop-color="#481c6e"/><stop offset="0.833" stop-color="#481c6e"/><stop offset="1.000" stop-color="#481c6e"/></linearGradient>
<linearGradient id="gE78"><stop offset="0.000" stop-color="#481e6f"/><stop offset="0.167" stop-color="#481e6f"/><stop offset="0.333" stop-color="#481e6f"/><stop offset="0.500" stop-color="#481c6e"/><stop offset="0.667" stop-color="#481c6e"/><stop offset="0.833" stop-color="#481c6e"/><stop offset="1.000" stop-color="#481b6d"/></linearGradient>
<clipPath id="cpF"><rect x="437.65" y="222.6" width="153.65" height="157.10"/></clipPath>
<linearGradient id="gF0"><stop offset="0.000" stop-color="#3f9d8b"/><stop offset="0.167" stop-color="#3d878d"/><stop offset="0.333" stop-color="#3a758d"/><stop offset="0.500" stop-color="#3a688d"/><stop offset="0.667" stop-color="#3b608c"/><stop offset="0.833" stop-color="#3c5a8c"/><stop offset="1.000" stop-color="#3c568b"/></linearGradient>
<linearGradient id="gF1"><stop offset="0.000" stop-color="#3f9d8b"/><stop offset="0.167" stop-color="#3c878d"/><stop offset="0.333" stop-color="#3a758d"/><stop offset="0.500" stop-color="#3a688d"/><stop offset="0.667" stop-color="#3a608c"/><stop offset="0.833" stop-color="#3c5a8c"/><stop offset="1.000" stop-color="#3d558b"/></linearGradient>
<linearGradient id="gF2"><stop offset="0.000" stop-color="#3f9d8b"/><stop offset="0.167" stop-color="#3c868d"/><stop offset="0.333" stop-color="#3a748d"/><stop offset="0.500" stop-color="#3a678d"/><stop offset="0.667" stop-color="#3b5e8c"/><stop offset="0.833" stop-color="#3c588c"/><stop offset="1.000" stop-color="#3d558b"/></linearGradient>
<linearGradient id="gF3"><stop offset="0.000" stop-color="#3f9c8b"/><stop offset="0.167" stop-color="#3c868d"/><stop offset="0.333" stop-color="#3a748d"/><stop offset="0.500" stop-color="#3a678d"/><stop offset="0.667" stop-color="#3b5d8c"/><stop offset="0.833" stop-color="#3c578c"/><stop offset="1.000" stop-color="#3d548b"/></linearGradient>
<linearGradient id="gF4"><stop offset="0.000" stop-color="#3f9c8b"/><stop offset="0.167" stop-color="#3c848d"/><stop offset="0.333" stop-color="#3a728d"/><stop offset="0.500" stop-color="#3a668d"/><stop offset="0.667" stop-color="#3b5d8c"/><stop offset="0.833" stop-color="#3c578c"/><stop offset="1.000" stop-color="#3d548b"/></linearGradient>
<linearGradient id="gF5"><stop offset="0.000" stop-color="#3f9c8b"/><stop offset="0.167" stop-color="#3c848d"/><stop offset="0.333" stop-color="#3a728d"/><stop offset="0.500" stop-color="#3a668d"/><stop offset="0.667" stop-color="#3b5c8c"/><stop offset="0.833" stop-color="#3d568b"/><stop offset="1.000" stop-color="#3d528b"/></linearGradient>
<linearGradient id="gF6"><stop offset="0.000" stop-color="#3f9b8c"/><stop offset="0.167" stop-color="#3c838d"/><stop offset="0.333" stop-color="#3a718d"/><stop offset="0.500" stop-color="#3a658d"/><stop offset="0.667" stop-color="#3b5c8c"/><stop offset="0.833" stop-color="#3c568b"/><stop offset="1.000" stop-color="#3e518b"/></linearGradient>
<linearGradient id="gF7"><stop offset="0.000" stop-color="#3f9b8c"/><stop offset="0.167" stop-color="#3c838d"/><stop offset="0.333" stop-color="#3a718d"/><stop offset="0.500" stop-color="#3a648d"/><stop offset="0.667" stop-color="#3b5b8c"/><stop offset="0.833" stop-color="#3d558b"/><stop offset="1.000" stop-color="#3e518b"/></linearGradient>
<linearGradient id="gF8"><stop offset="0.000" stop-color="#3f9a8c"/><stop offset="0.167" stop-color="#3c828d"/><stop offset="0.333" stop-color="#3a708d"/><stop offset="0.500" stop-color="#3a638d"/><stop offset="0.667" stop-color="#3b5b8c"/><stop offset="0.833" stop-color="#3d548b"/><stop offset="1.000" stop-color="#3e508a"/></linearGradient>
<linearGradient id="gF9"><stop offset="0.000" stop-color="#3f9a8c"/><stop offset="0.167" stop-color="#3c828d"/><stop offset="0.333" stop-color="#3a708d"/><stop offset="0.500" stop-color="#3a628d"/><stop offset="0.667" stop-color="#3c5a8c"/><stop offset="0.833" stop-color="#3d548b"/><stop offset="1.000" stop-color="#3e4f8a"/></linearGradient>
<linearGradient id="gF10"><stop offset="0.000" stop-color="#3f988c"/><stop offset="0.167" stop-color="#3c818d"/><stop offset="0.333" stop-color="#3a6f8d"/><stop offset="0.500" stop-color="#3a628d"/><stop offset="0.667" stop-color="#3c598c"/><stop offset="0.833" stop-color="#3d538b"/><stop offset="1.000" stop-color="#3e4f8a"/></linearGradient>
<linearGradient id="gF11"><stop offset="0.000" stop-color="#3f988c"/><stop offset="0.167" stop-color="#3b808d"/><stop offset="0.333" stop-color="#3a6e8d"/><stop offset="0.500" stop-color="#3b618d"/><stop offset="0.667" stop-color="#3c588c"/><stop offset="0.833" stop-color="#3d528b"/><stop offset="1.000" stop-color="#3f4e8a"/></linearGradient>
<linearGradient id="gF12"><stop offset="0.000" stop-color="#3f978c"/><stop offset="0.167" stop-color="#3b7f8d"/><stop offset="0.333" stop-color="#3a6d8d"/><stop offset="0.500" stop-color="#3a618d"/><stop offset="0.667" stop-color="#3c578c"/><stop offset="0.833" stop-color="#3e518b"/><stop offset="1.000" stop-color="#3f4d8a"/></linearGradient>
<linearGradient id="gF13"><stop offset="0.000" stop-color="#3e978c"/><stop offset="0.167" stop-color="#3b7e8d"/><stop offset="0.333" stop-color="#3a6c8d"/><stop offset="0.500" stop-color="#3b608c"/><stop offset="0.667" stop-color="#3c578c"/><stop offset="0.833" stop-color="#3e508a"/><stop offset="1.000" stop-color="#3f4d8a"/></linearGradient>
<linearGradient id="gF14"><stop offset="0.000" stop-color="#3f968c"/><stop offset="0.167" stop-color="#3b7e8d"/><stop offset="0.333" stop-color="#3a6c8d"/><stop offset="0.500" stop-color="#3a608c"/><stop offset="0.667" stop-color="#3c568b"/><stop offset="0.833" stop-color="#3e508a"/><stop offset="1.000" stop-color="#3f4b89"/></linearGradient>
<linearGradient id="gF15"><stop offset="0.000" stop-color="#3f958c"/><stop offset="0.167" stop-color="#3b7d8d"/><stop offset="0.333" stop-color="#3a6b8d"/><stop offset="0.500" stop-color="#3b5e8c"/><stop offset="0.667" stop-color="#3d558b"/><stop offset="0.833" stop-color="#3e4f8a"/><stop offset="1.000" stop-color="#404a89"/></linearGradient>
<linearGradient id="gF16"><stop offset="0.000" stop-color="#3e958c"/><stop offset="0.167" stop-color="#3b7c8d"/><stop offset="0.333" stop-color="#3a6b8d"/><stop offset="0.500" stop-color="#3b5d8c"/><stop offset="0.667" stop-color="#3d558b"/><stop offset="0.833" stop-color="#3f4e8a"/><stop offset="1.000" stop-color="#404a89"/></linearGradient>
<linearGradient id="gF17"><stop offset="0.000" stop-color="#3e948c"/><stop offset="0.167" stop-color="#3b7b8d"/><stop offset="0.333" stop-color="#3a698d"/><stop offset="0.500" stop-color="#3b5d8c"/><stop offset="0.667" stop-color="#3d548b"/><stop offset="0.833" stop-color="#3f4e8a"/><stop offset="1.000" stop-color="#404989"/></linearGradient>
<linearGradient id="gF18"><stop offset="0.000" stop-color="#3e938c"/><stop offset="0.167" stop-color="#3b7a8d"/><stop offset="0.333" stop-color="#3a688d"/><stop offset="0.500" stop-color="#3b5c8c"/><stop offset="0.667" stop-color="#3d538b"/><stop offset="0.833" stop-color="#3f4d8a"/><stop offset="1.000" stop-color="#414888"/></linearGradient>
<linearGradient id="gF19"><stop offset="0.000" stop-color="#3e928c"/><stop offset="0.167" stop-color="#3a7a8d"/><stop offset="0.333" stop-color="#3a688d"/><stop offset="0.500" stop-color="#3b5b8c"/><stop offset="0.667" stop-color="#3d528b"/><stop offset="0.833" stop-color="#404b89"/><stop offset="1.000" stop-color="#414888"/></linearGradient>
<linearGradient id="gF20"><stop offset="0.000" stop-color="#3e918c"/><stop offset="0.167" stop-color="#3a798d"/><stop offset="0.333" stop-color="#3a678d"/><stop offset="0.500" stop-color="#3b5b8c"/><stop offset="0.667" stop-color="#3e518b"/><stop offset="0.833" stop-color="#3f4b89"/><stop offset="1.000" stop-color="#414788"/></linearGradient>
<linearGradient id="gF21"><stop offset="0.000" stop-color="#3e908c"/><stop offset="0.167" stop-color="#3b788d"/><stop offset="0.333" stop-color="#3a668d"/><stop offset="0.500" stop-color="#3c5a8c"/><stop offset="0.667" stop-color="#3e508a"/><stop offset="0.833" stop-color="#404a89"/><stop offset="1.000" stop-color="#414587"/></linearGradient>
<linearGradient id="gF22"><stop offset="0.000" stop-color="#3e908d"/><stop offset="0.167" stop-color="#3a778d"/><stop offset="0.333" stop-color="#3a668d"/><stop offset="0.500" stop-color="#3c598c"/><stop offset="0.667" stop-color="#3e508a"/><stop offset="0.833" stop-color="#404989"/><stop offset="1.000" stop-color="#414587"/></linearGradient>
<linearGradient id="gF23"><stop offset="0.000" stop-color="#3e8f8d"/><stop offset="0.167" stop-color="#3a768d"/><stop offset="0.333" stop-color="#3a658d"/><stop offset="0.500" stop-color="#3c588c"/><stop offset="0.667" stop-color="#3e4f8a"/><stop offset="0.833" stop-color="#404989"/><stop offset="1.000" stop-color="#424487"/></linearGradient>
<linearGradient id="gF24"><stop offset="0.000" stop-color="#3e8d8d"/><stop offset="0.167" stop-color="#3a758d"/><stop offset="0.333" stop-color="#3a638d"/><stop offset="0.500" stop-color="#3c578c"/><stop offset="0.667" stop-color="#3f4e8a"/><stop offset="0.833" stop-color="#414888"/><stop offset="1.000" stop-color="#424387"/></linearGradient>
<linearGradient id="gF25"><stop offset="0.000" stop-color="#3e8c8d"/><stop offset="0.167" stop-color="#3a748d"/><stop offset="0.333" stop-color="#3a638d"/><stop offset="0.500" stop-color="#3d568b"/><stop offset="0.667" stop-color="#3f4e8a"/><stop offset="0.833" stop-color="#414788"/><stop offset="1.000" stop-color="#424387"/></linearGradient>
<linearGradient id="gF26"><stop offset="0.000" stop-color="#3d8c8d"/><stop offset="0.167" stop-color="#3a738d"/><stop offset="0.333" stop-color="#3a628d"/><stop offset="0.500" stop-color="#3c568b"/><stop offset="0.667" stop-color="#3f4d8a"/><stop offset="0.833" stop-color="#414788"/><stop offset="1.000" stop-color="#424286"/></linearGradient>
<linearGradient id="gF27"><stop offset="0.000" stop-color="#3d8b8d"/><stop offset="0.167" stop-color="#3a728d"/><stop offset="0.333" stop-color="#3a618d"/><stop offset="0.500" stop-color="#3d558b"/><stop offset="0.667" stop-color="#404b89"/><stop offset="0.833" stop-color="#414587"/><stop offset="1.000" stop-color="#434186"/></linearGradient>
<linearGradient id="gF28"><stop offset="0.000" stop-color="#3d8a8d"/><stop offset="0.167" stop-color="#3a718d"/><stop offset="0.333" stop-color="#3b608c"/><stop offset="0.500" stop-color="#3d548b"/><stop offset="0.667" stop-color="#3f4b89"/><stop offset="0.833" stop-color="#424487"/><stop offset="1.000" stop-color="#434186"/></linearGradient>
<linearGradient id="gF29"><stop offset="0.000" stop-color="#3d888d"/><stop offset="0.167" stop-color="#3a708d"/><stop offset="0.333" stop-color="#3a608c"/><stop offset="0.500" stop-color="#3d548b"/><stop offset="0.667" stop-color="#404a89"/><stop offset="0.833" stop-color="#424487"/><stop offset="1.000" stop-color="#433f85"/></linearGradient>
<linearGradient id="gF30"><stop offset="0.000" stop-color="#3d878d"/><stop offset="0.167" stop-color="#3a708d"/><stop offset="0.333" stop-color="#3b5e8c"/><stop offset="0.500" stop-color="#3d528b"/><stop offset="0.667" stop-color="#404989"/><stop offset="0.833" stop-color="#424387"/><stop offset="1.000" stop-color="#433e85"/></linearGradient>
<linearGradient id="gF31"><stop offset="0.000" stop-color="#3d868d"/><stop offset="0.167" stop-color="#3a6e8d"/><stop offset="0.333" stop-color="#3b5d8c"/><stop offset="0.500" stop-color="#3e518b"/><stop offset="0.667" stop-color="#404989"/><stop offset="0.833" stop-color="#424286"/><stop offset="1.000" stop-color="#433e85"/></linearGradient>
<linearGradient id="gF32"><stop offset="0.000" stop-color="#3c868d"/><stop offset="0.167" stop-color="#3a6d8d"/><stop offset="0.333" stop-color="#3b5c8c"/><stop offset="0.500" stop-color="#3e508a"/><stop offset="0.667" stop-color="#414888"/><stop offset="0.833" stop-color="#424286"/><stop offset="1.000" stop-color="#443d84"/></linearGradient>
<linearGradient id="gF33"><stop offset="0.000" stop-color="#3c848d"/><stop offset="0.167" stop-color="#3a6c8d"/><stop offset="0.333" stop-color="#3b5c8c"/><stop offset="0.500" stop-color="#3e508a"/><stop offset="0.667" stop-color="#414788"/><stop offset="0.833" stop-color="#434186"/><stop offset="1.000" stop-color="#443c84"/></linearGradient>
<linearGradient id="gF34"><stop offset="0.000" stop-color="#3c838d"/><stop offset="0.167" stop-color="#3a6b8d"/><stop offset="0.333" stop-color="#3b5b8c"/><stop offset="0.500" stop-color="#3e4f8a"/><stop offset="0.667" stop-color="#414788"/><stop offset="0.833" stop-color="#433f85"/><stop offset="1.000" stop-color="#443c84"/></linearGradient>
<linearGradient id="gF35"><stop offset="0.000" stop-color="#3c828d"/><stop offset="0.167" stop-color="#3a6b8d"/><stop offset="0.333" stop-color="#3c5a8c"/><stop offset="0.500" stop-color="#3f4e8a"/><stop offset="0.667" stop-color="#414587"/><stop offset="0.833" stop-color="#433f85"/><stop offset="1.000" stop-color="#443a83"/></linearGradient>
<linearGradient id="gF36"><stop offset="0.000" stop-color="#3c818d"/><stop offset="0.167" stop-color="#3a698d"/><stop offset="0.333" stop-color="#3c598c"/><stop offset="0.500" stop-color="#3f4e8a"/><stop offset="0.667" stop-color="#424487"/><stop offset="0.833" stop-color="#433e85"/><stop offset="1.000" stop-color="#453983"/></linearGradient>
<linearGradient id="gF37"><stop offset="0.000" stop-color="#3b7f8d"/><stop offset="0.167" stop-color="#3a688d"/><stop offset="0.333" stop-color="#3c588c"/><stop offset="0.500" stop-color="#3f4d8a"/><stop offset="0.667" stop-color="#424487"/><stop offset="0.833" stop-color="#443d84"/><stop offset="1.000" stop-color="#453983"/></linearGradient>
<linearGradient id="gF38"><stop offset="0.000" stop-color="#3b7e8d"/><stop offset="0.167" stop-color="#3a678d"/><stop offset="0.333" stop-color="#3c578c"/><stop offset="0.500" stop-color="#3f4b89"/><stop offset="0.667" stop-color="#424387"/><stop offset="0.833" stop-color="#443d84"/><stop offset="1.000" stop-color="#453882"/></linearGradient>
<linearGradient id="gF39"><stop offset="0.000" stop-color="#3b7d8d"/><stop offset="0.167" stop-color="#3a668d"/><stop offset="0.333" stop-color="#3c568b"/><stop offset="0.500" stop-color="#404a89"/><stop offset="0.667" stop-color="#424286"/><stop offset="0.833" stop-color="#443c84"/><stop offset="1.000" stop-color="#453781"/></linearGradient>
<linearGradient id="gF40"><stop offset="0.000" stop-color="#3b7b8d"/><stop offset="0.167" stop-color="#3a658d"/><stop offset="0.333" stop-color="#3d558b"/><stop offset="0.500" stop-color="#404a89"/><stop offset="0.667" stop-color="#424286"/><stop offset="0.833" stop-color="#443a83"/><stop offset="1.000" stop-color="#453781"/></linearGradient>
<linearGradient id="gF41"><stop offset="0.000" stop-color="#3b7a8d"/><stop offset="0.167" stop-color="#3a648d"/><stop offset="0.333" stop-color="#3d558b"/><stop offset="0.500" stop-color="#404989"/><stop offset="0.667" stop-color="#434186"/><stop offset="0.833" stop-color="#443a83"/><stop offset="1.000" stop-color="#463681"/></linearGradient>
<linearGradient id="gF42"><stop offset="0.000" stop-color="#3b798d"/><stop offset="0.167" stop-color="#3a638d"/><stop offset="0.333" stop-color="#3d548b"/><stop offset="0.500" stop-color="#414888"/><stop offset="0.667" stop-color="#433f85"/><stop offset="0.833" stop-color="#453983"/><stop offset="1.000" stop-color="#463480"/></linearGradient>
<linearGradient id="gF43"><stop offset="0.000" stop-color="#3a798d"/><stop offset="0.167" stop-color="#3a628d"/><stop offset="0.333" stop-color="#3d538b"/><stop offset="0.500" stop-color="#414788"/><stop offset="0.667" stop-color="#433f85"/><stop offset="0.833" stop-color="#453882"/><stop offset="1.000" stop-color="#463480"/></linearGradient>
<linearGradient id="gF44"><stop offset="0.000" stop-color="#3a778d"/><stop offset="0.167" stop-color="#3a618d"/><stop offset="0.333" stop-color="#3e518b"/><stop offset="0.500" stop-color="#414788"/><stop offset="0.667" stop-color="#433e85"/><stop offset="0.833" stop-color="#453882"/><stop offset="1.000" stop-color="#46337f"/></linearGradient>
<linearGradient id="gF45"><stop offset="0.000" stop-color="#3a768d"/><stop offset="0.167" stop-color="#3b608c"/><stop offset="0.333" stop-color="#3e508a"/><stop offset="0.500" stop-color="#414587"/><stop offset="0.667" stop-color="#443d84"/><stop offset="0.833" stop-color="#453781"/><stop offset="1.000" stop-color="#46327e"/></linearGradient>
<linearGradient id="gF46"><stop offset="0.000" stop-color="#3a758d"/><stop offset="0.167" stop-color="#3b5f8c"/><stop offset="0.333" stop-color="#3e508a"/><stop offset="0.500" stop-color="#424487"/><stop offset="0.667" stop-color="#443c84"/><stop offset="0.833" stop-color="#463681"/><stop offset="1.000" stop-color="#46327e"/></linearGradient>
<linearGradient id="gF47"><stop offset="0.000" stop-color="#3a738d"/><stop offset="0.167" stop-color="#3b5d8c"/><stop offset="0.333" stop-color="#3e4f8a"/><stop offset="0.500" stop-color="#424487"/><stop offset="0.667" stop-color="#443c84"/><stop offset="0.833" stop-color="#463681"/><stop offset="1.000" stop-color="#47317e"/></linearGradient>
<linearGradient id="gF48"><stop offset="0.000" stop-color="#3a728d"/><stop offset="0.167" stop-color="#3b5c8c"/><stop offset="0.333" stop-color="#3f4e8a"/><stop offset="0.500" stop-color="#424387"/><stop offset="0.667" stop-color="#443a83"/><stop offset="0.833" stop-color="#463480"/><stop offset="1.000" stop-color="#47317e"/></linearGradient>
<linearGradient id="gF49"><stop offset="0.000" stop-color="#3a718d"/><stop offset="0.167" stop-color="#3b5c8c"/><stop offset="0.333" stop-color="#3f4d8a"/><stop offset="0.500" stop-color="#424286"/><stop offset="0.667" stop-color="#453983"/><stop offset="0.833" stop-color="#463480"/><stop offset="1.000" stop-color="#472f7d"/></linearGradient>
<linearGradient id="gF50"><stop offset="0.000" stop-color="#3a708d"/><stop offset="0.167" stop-color="#3b5b8c"/><stop offset="0.333" stop-color="#404b89"/><stop offset="0.500" stop-color="#434186"/><stop offset="0.667" stop-color="#453983"/><stop offset="0.833" stop-color="#46337f"/><stop offset="1.000" stop-color="#472e7c"/></linearGradient>
<linearGradient id="gF51"><stop offset="0.000" stop-color="#3a6e8d"/><stop offset="0.167" stop-color="#3c5a8c"/><stop offset="0.333" stop-color="#3f4b89"/><stop offset="0.500" stop-color="#434186"/><stop offset="0.667" stop-color="#453882"/><stop offset="0.833" stop-color="#46327e"/><stop offset="1.000" stop-color="#472e7c"/></linearGradient>
<linearGradient id="gF52"><stop offset="0.000" stop-color="#3a6d8d"/><stop offset="0.167" stop-color="#3c588c"/><stop offset="0.333" stop-color="#404a89"/><stop offset="0.500" stop-color="#433f85"/><stop offset="0.667" stop-color="#453781"/><stop offset="0.833" stop-color="#46327e"/><stop offset="1.000" stop-color="#472d7b"/></linearGradient>
<linearGradient id="gF53"><stop offset="0.000" stop-color="#3a6c8d"/><stop offset="0.167" stop-color="#3c578c"/><stop offset="0.333" stop-color="#404989"/><stop offset="0.500" stop-color="#433e85"/><stop offset="0.667" stop-color="#453781"/><stop offset="0.833" stop-color="#47317e"/><stop offset="1.000" stop-color="#472d7b"/></linearGradient>
<linearGradient id="gF54"><stop offset="0.000" stop-color="#3a6b8d"/><stop offset="0.167" stop-color="#3d568b"/><stop offset="0.333" stop-color="#414888"/><stop offset="0.500" stop-color="#433e85"/><stop offset="0.667" stop-color="#463681"/><stop offset="0.833" stop-color="#472f7d"/><stop offset="1.000" stop-color="#472c7a"/></linearGradient>
<linearGradient id="gF55"><stop offset="0.000" stop-color="#3a698d"/><stop offset="0.167" stop-color="#3d558b"/><stop offset="0.333" stop-color="#414888"/><stop offset="0.500" stop-color="#443d84"/><stop offset="0.667" stop-color="#463480"/><stop offset="0.833" stop-color="#472f7d"/><stop offset="1.000" stop-color="#482a79"/></linearGradient>
<linearGradient id="gF56"><stop offset="0.000" stop-color="#3a688d"/><stop offset="0.167" stop-color="#3d548b"/><stop offset="0.333" stop-color="#414788"/><stop offset="0.500" stop-color="#443c84"/><stop offset="0.667" stop-color="#463480"/><stop offset="0.833" stop-color="#472e7c"/><stop offset="1.000" stop-color="#482a79"/></linearGradient>
<linearGradient id="gF57"><stop offset="0.000" stop-color="#3a678d"/><stop offset="0.167" stop-color="#3d548b"/><stop offset="0.333" stop-color="#414587"/><stop offset="0.500" stop-color="#443a83"/><stop offset="0.667" stop-color="#46337f"/><stop offset="0.833" stop-color="#472e7c"/><stop offset="1.000" stop-color="#482979"/></linearGradient>
<linearGradient id="gF58"><stop offset="0.000" stop-color="#3a668d"/><stop offset="0.167" stop-color="#3d528b"/><stop offset="0.333" stop-color="#424487"/><stop offset="0.500" stop-color="#443a83"/><stop offset="0.667" stop-color="#46337f"/><stop offset="0.833" stop-color="#472d7b"/><stop offset="1.000" stop-color="#482979"/></linearGradient>
<linearGradient id="gF59"><stop offset="0.000" stop-color="#3a648d"/><stop offset="0.167" stop-color="#3e518b"/><stop offset="0.333" stop-color="#424387"/><stop offset="0.500" stop-color="#453983"/><stop offset="0.667" stop-color="#46327e"/><stop offset="0.833" stop-color="#472c7a"/><stop offset="1.000" stop-color="#482878"/></linearGradient>
<linearGradient id="gF60"><stop offset="0.000" stop-color="#3a638d"/><stop offset="0.167" stop-color="#3e508a"/><stop offset="0.333" stop-color="#424387"/><stop offset="0.500" stop-color="#453882"/><stop offset="0.667" stop-color="#47317e"/><stop offset="0.833" stop-color="#472c7a"/><stop offset="1.000" stop-color="#482878"/></linearGradient>
<linearGradient id="gF61"><stop offset="0.000" stop-color="#3a628d"/><stop offset="0.167" stop-color="#3e4f8a"/><stop offset="0.333" stop-color="#424286"/><stop offset="0.500" stop-color="#453882"/><stop offset="0.667" stop-color="#47317e"/><stop offset="0.833" stop-color="#482a79"/><stop offset="1.000" stop-color="#482777"/></linearGradient>
<linearGradient id="gF62"><stop offset="0.000" stop-color="#3b608c"/><stop offset="0.167" stop-color="#3f4e8a"/><stop offset="0.333" stop-color="#434186"/><stop offset="0.500" stop-color="#453781"/><stop offset="0.667" stop-color="#472f7d"/><stop offset="0.833" stop-color="#482a79"/><stop offset="1.000" stop-color="#482576"/></linearGradient>
<linearGradient id="gF63"><stop offset="0.000" stop-color="#3b5f8c"/><stop offset="0.167" stop-color="#3f4d8a"/><stop offset="0.333" stop-color="#433f85"/><stop offset="0.500" stop-color="#463681"/><stop offset="0.667" stop-color="#472e7c"/><stop offset="0.833" stop-color="#482979"/><stop offset="1.000" stop-color="#482576"/></linearGradient>
<linearGradient id="gF64"><stop offset="0.000" stop-color="#3b5d8c"/><stop offset="0.167" stop-color="#404b89"/><stop offset="0.333" stop-color="#433f85"/><stop offset="0.500" stop-color="#463681"/><stop offset="0.667" stop-color="#472e7c"/><stop offset="0.833" stop-color="#482979"/><stop offset="1.000" stop-color="#482475"/></linearGradient>
<linearGradient id="gF65"><stop offset="0.000" stop-color="#3b5c8c"/><stop offset="0.167" stop-color="#3f4b89"/><stop offset="0.333" stop-color="#433e85"/><stop offset="0.500" stop-color="#463480"/><stop offset="0.667" stop-color="#472d7b"/><stop offset="0.833" stop-color="#482878"/><stop offset="1.000" stop-color="#482475"/></linearGradient>
<linearGradient id="gF66"><stop offset="0.000" stop-color="#3c5b8c"/><stop offset="0.167" stop-color="#404a89"/><stop offset="0.333" stop-color="#443d84"/><stop offset="0.500" stop-color="#46337f"/><stop offset="0.667" stop-color="#472d7b"/><stop offset="0.833" stop-color="#482777"/><stop offset="1.000" stop-color="#482374"/></linearGradient>
<linearGradient id="gF67"><stop offset="0.000" stop-color="#3c5a8c"/><stop offset="0.167" stop-color="#404989"/><stop offset="0.333" stop-color="#443c84"/><stop offset="0.500" stop-color="#46337f"/><stop offset="0.667" stop-color="#472c7a"/><stop offset="0.833" stop-color="#482777"/><stop offset="1.000" stop-color="#482374"/></linearGradient>
<linearGradient id="gF68"><stop offset="0.000" stop-color="#3c598c"/><stop offset="0.167" stop-color="#414888"/><stop offset="0.333" stop-color="#443c84"/><stop offset="0.500" stop-color="#46327e"/><stop offset="0.667" stop-color="#482a79"/><stop offset="0.833" stop-color="#482576"/><stop offset="1.000" stop-color="#482173"/></linearGradient>
<linearGradient id="gF69"><stop offset="0.000" stop-color="#3c578c"/><stop offset="0.167" stop-color="#414788"/><stop offset="0.333" stop-color="#443a83"/><stop offset="0.500" stop-color="#47317e"/><stop offset="0.667" stop-color="#482a79"/><stop offset="0.833" stop-color="#482576"/><stop offset="1.000" stop-color="#482173"/></linearGradient>
<linearGradient id="gF70"><stop offset="0.000" stop-color="#3d568b"/><stop offset="0.167" stop-color="#414587"/><stop offset="0.333" stop-color="#453983"/><stop offset="0.500" stop-color="#47317e"/><stop offset="0.667" stop-color="#482979"/><stop offset="0.833" stop-color="#482475"/><stop offset="1.000" stop-color="#482071"/></linearGradient>
<linearGradient id="gF71"><stop offset="0.000" stop-color="#3d558b"/><stop offset="0.167" stop-color="#424487"/><stop offset="0.333" stop-color="#453882"/><stop offset="0.500" stop-color="#472f7d"/><stop offset="0.667" stop-color="#482979"/><stop offset="0.833" stop-color="#482475"/><stop offset="1.000" stop-color="#482071"/></linearGradient>
<linearGradient id="gF72"><stop offset="0.000" stop-color="#3d548b"/><stop offset="0.167" stop-color="#424487"/><stop offset="0.333" stop-color="#453882"/><stop offset="0.500" stop-color="#472e7c"/><stop offset="0.667" stop-color="#482878"/><stop offset="0.833" stop-color="#482374"/><stop offset="1.000" stop-color="#481f70"/></linearGradient>
<linearGradient id="gF73"><stop offset="0.000" stop-color="#3d538b"/><stop offset="0.167" stop-color="#424387"/><stop offset="0.333" stop-color="#453781"/><stop offset="0.500" stop-color="#472e7c"/><stop offset="0.667" stop-color="#482878"/><stop offset="0.833" stop-color="#482374"/><stop offset="1.000" stop-color="#481f70"/></linearGradient>
<linearGradient id="gF74"><stop offset="0.000" stop-color="#3e518b"/><stop offset="0.167" stop-color="#424286"/><stop offset="0.333" stop-color="#463681"/><stop offset="0.500" stop-color="#472d7b"/><stop offset="0.667" stop-color="#482777"/><stop offset="0.833" stop-color="#482173"/><stop offset="1.000" stop-color="#481e6f"/></linearGradient>
<linearGradient id="gF75"><stop offset="0.000" stop-color="#3e508a"/><stop offset="0.167" stop-color="#434186"/><stop offset="0.333" stop-color="#463681"/><stop offset="0.500" stop-color="#472d7b"/><stop offset="0.667" stop-color="#482576"/><stop offset="0.833" stop-color="#482173"/><stop offset="1.000" stop-color="#481e6f"/></linearGradient>
<linearGradient id="gF76"><stop offset="0.000" stop-color="#3e4f8a"/><stop offset="0.167" stop-color="#433f85"/><stop offset="0.333" stop-color="#463480"/><stop offset="0.500" stop-color="#472c7a"/><stop offset="0.667" stop-color="#482576"/><stop offset="0.833" stop-color="#482071"/><stop offset="1.000" stop-color="#481e6f"/></linearGradient>
<linearGradient id="gF77"><stop offset="0.000" stop-color="#3f4e8a"/><stop offset="0.167" stop-color="#433e85"/><stop offset="0.333" stop-color="#46337f"/><stop offset="0.500" stop-color="#482a79"/><stop offset="0.667" stop-color="#482475"/><stop offset="0.833" stop-color="#482071"/><stop offset="1.000" stop-color="#481c6e"/></linearGradient>
<linearGradient id="gF78"><stop offset="0.000" stop-color="#3f4d8a"/><stop offset="0.167" stop-color="#433e85"/><stop offset="0.333" stop-color="#46327e"/><stop offset="0.500" stop-color="#482a79"/><stop offset="0.667" stop-color="#482475"/><stop offset="0.833" stop-color="#481f70"/><stop offset="1.000" stop-color="#481c6e"/></linearGradient>
<linearGradient id="cb1" x1="0" y1="0" x2="0" y2="1"><stop offset="0.000" stop-color="#fcffa4"/><stop offset="0.043" stop-color="#f1f179"/><stop offset="0.087" stop-color="#f1db52"/><stop offset="0.130" stop-color="#f0c338"/><stop offset="0.174" stop-color="#ecac25"/><stop offset="0.217" stop-color="#e89818"/><stop offset="0.261" stop-color="#e6861b"/><stop offset="0.304" stop-color="#e57523"/><stop offset="0.348" stop-color="#e1632e"/><stop offset="0.391" stop-color="#db5438"/><stop offset="0.435" stop-color="#d24644"/><stop offset="0.478" stop-color="#c33b4f"/><stop offset="0.522" stop-color="#b3325a"/><stop offset="0.565" stop-color="#a22b62"/><stop offset="0.609" stop-color="#902568"/><stop offset="0.652" stop-color="#7f1e6c"/><stop offset="0.696" stop-color="#6c186e"/><stop offset="0.739" stop-color="#5a116e"/><stop offset="0.783" stop-color="#490b6a"/><stop offset="0.826" stop-color="#360961"/><stop offset="0.870" stop-color="#230c4c"/><stop offset="0.913" stop-color="#120a32"/><stop offset="0.957" stop-color="#060419"/><stop offset="1.000" stop-color="#000004"/></linearGradient>
<linearGradient id="cb2" x1="0" y1="0" x2="0" y2="1"><stop offset="0.000" stop-color="#f3df33"/><stop offset="0.043" stop-color="#ddde21"/><stop offset="0.087" stop-color="#c2dc27"/><stop offset="0.130" stop-color="#a7d936"/><stop offset="0.174" stop-color="#8cd646"/><stop offset="0.217" stop-color="#73d057"/><stop offset="0.261" stop-color="#5dca65"/><stop offset="0.304" stop-color="#4dc471"/><stop offset="0.348" stop-color="#40be7b"/><stop offset="0.391" stop-color="#3bb881"/><stop offset="0.435" stop-color="#3bb086"/><stop offset="0.478" stop-color="#3da789"/><stop offset="0.522" stop-color="#3f9c8b"/><stop offset="0.565" stop-color="#3e8f8d"/><stop offset="0.609" stop-color="#3b808d"/><stop offset="0.652" stop-color="#3a728d"/><stop offset="0.696" stop-color="#3a638d"/><stop offset="0.739" stop-color="#3d568b"/><stop offset="0.783" stop-color="#404989"/><stop offset="0.826" stop-color="#443c84"/><stop offset="0.870" stop-color="#472e7c"/><stop offset="0.913" stop-color="#482071"/><stop offset="0.957" stop-color="#471164"/><stop offset="1.000" stop-color="#440154"/></linearGradient>
</defs>
<rect width="685" height="425" fill="#fff"/>
<g opacity="0.995">
<g clip-path="url(#cpA)">
<rect x="51.3" y="18.0" width="153.30" height="2.6" fill="url(#gA0)"/>
<rect x="51.3" y="20.0" width="153.30" height="2.6" fill="url(#gA1)"/>
<rect x="51.3" y="22.0" width="153.30" height="2.6" fill="url(#gA2)"/>
<rect x="51.3" y="24.0" width="153.30" height="2.6" fill="url(#gA3)"/>
<rect x="51.3" y="26.0" width="153.30" height="2.6" fill="url(#gA4)"/>
<rect x="51.3" y="28.0" width="153.30" height="2.6" fill="url(#gA5)"/>
<rect x="51.3" y="30.0" width="153.30" height="2.6" fill="url(#gA6)"/>
<rect x="51.3" y="32.0" width="153.30" height="2.6" fill="url(#gA7)"/>
<rect x="51.3" y="34.0" width="153.30" height="2.6" fill="url(#gA8)"/>
<rect x="51.3" y="36.0" width="153.30" height="2.6" fill="url(#gA9)"/>
<rect x="51.3" y="38.0" width="153.30" height="2.6" fill="url(#gA10)"/>
<rect x="51.3" y="40.0" width="153.30" height="2.6" fill="url(#gA11)"/>
<rect x="51.3" y="42.0" width="153.30" height="2.6" fill="url(#gA12)"/>
<rect x="51.3" y="44.0" width="153.30" height="2.6" fill="url(#gA13)"/>
<rect x="51.3" y="46.0" width="153.30" height="2.6" fill="url(#gA14)"/>
<rect x="51.3" y="48.0" width="153.30" height="2.6" fill="url(#gA15)"/>
<rect x="51.3" y="50.0" width="153.30" height="2.6" fill="url(#gA16)"/>
<rect x="51.3" y="52.0" width="153.30" height="2.6" fill="url(#gA17)"/>
<rect x="51.3" y="54.0" width="153.30" height="2.6" fill="url(#gA18)"/>
<rect x="51.3" y="56.0" width="153.30" height="2.6" fill="url(#gA19)"/>
<rect x="51.3" y="58.0" width="153.30" height="2.6" fill="url(#gA20)"/>
<rect x="51.3" y="60.0" width="153.30" height="2.6" fill="url(#gA21)"/>
<rect x="51.3" y="62.0" width="153.30" height="2.6" fill="url(#gA22)"/>
<rect x="51.3" y="64.0" width="153.30" height="2.6" fill="url(#gA23)"/>
<rect x="51.3" y="66.0" width="153.30" height="2.6" fill="url(#gA24)"/>
<rect x="51.3" y="68.0" width="153.30" height="2.6" fill="url(#gA25)"/>
<rect x="51.3" y="70.0" width="153.30" height="2.6" fill="url(#gA26)"/>
<rect x="51.3" y="72.0" width="153.30" height="2.6" fill="url(#gA27)"/>
<rect x="51.3" y="74.0" width="153.30" height="2.6" fill="url(#gA28)"/>
<rect x="51.3" y="76.0" width="153.30" height="2.6" fill="url(#gA29)"/>
<rect x="51.3" y="78.0" width="153.30" height="2.6" fill="url(#gA30)"/>
<rect x="51.3" y="80.0" width="153.30" height="2.6" fill="url(#gA31)"/>
<rect x="51.3" y="82.0" width="153.30" height="2.6" fill="url(#gA32)"/>
<rect x="51.3" y="84.0" width="153.30" height="2.6" fill="url(#gA33)"/>
<rect x="51.3" y="86.0" width="153.30" height="2.6" fill="url(#gA34)"/>
<rect x="51.3" y="88.0" width="153.30" height="2.6" fill="url(#gA35)"/>
<rect x="51.3" y="90.0" width="153.30" height="2.6" fill="url(#gA36)"/>
<rect x="51.3" y="92.0" width="153.30" height="2.6" fill="url(#gA37)"/>
<rect x="51.3" y="94.0" width="153.30" height="2.6" fill="url(#gA38)"/>
<rect x="51.3" y="96.0" width="153.30" height="2.6" fill="url(#gA39)"/>
<rect x="51.3" y="98.0" width="153.30" height="2.6" fill="url(#gA40)"/>
<rect x="51.3" y="100.0" width="153.30" height="2.6" fill="url(#gA41)"/>
<rect x="51.3" y="102.0" width="153.30" height="2.6" fill="url(#gA42)"/>
<rect x="51.3" y="104.0" width="153.30" height="2.6" fill="url(#gA43)"/>
<rect x="51.3" y="106.0" width="153.30" height="2.6" fill="url(#gA44)"/>
<rect x="51.3" y="108.0" width="153.30" height="2.6" fill="url(#gA45)"/>
<rect x="51.3" y="110.0" width="153.30" height="2.6" fill="url(#gA46)"/>
<rect x="51.3" y="112.0" width="153.30" height="2.6" fill="url(#gA47)"/>
<rect x="51.3" y="114.0" width="153.30" height="2.6" fill="url(#gA48)"/>
<rect x="51.3" y="116.0" width="153.30" height="2.6" fill="url(#gA49)"/>
<rect x="51.3" y="118.0" width="153.30" height="2.6" fill="url(#gA50)"/>
<rect x="51.3" y="120.0" width="153.30" height="2.6" fill="url(#gA51)"/>
<rect x="51.3" y="122.0" width="153.30" height="2.6" fill="url(#gA52)"/>
<rect x="51.3" y="124.0" width="153.30" height="2.6" fill="url(#gA53)"/>
<rect x="51.3" y="126.0" width="153.30" height="2.6" fill="url(#gA54)"/>
<rect x="51.3" y="128.0" width="153.30" height="2.6" fill="url(#gA55)"/>
<rect x="51.3" y="130.0" width="153.30" height="2.6" fill="url(#gA56)"/>
<rect x="51.3" y="132.0" width="153.30" height="2.6" fill="url(#gA57)"/>
<rect x="51.3" y="134.0" width="153.30" height="2.6" fill="url(#gA58)"/>
<rect x="51.3" y="136.0" width="153.30" height="2.6" fill="url(#gA59)"/>
<rect x="51.3" y="138.0" width="153.30" height="2.6" fill="url(#gA60)"/>
<rect x="51.3" y="140.0" width="153.30" height="2.6" fill="url(#gA61)"/>
<rect x="51.3" y="142.0" width="153.30" height="2.6" fill="url(#gA62)"/>
<rect x="51.3" y="144.0" width="153.30" height="2.6" fill="url(#gA63)"/>
<rect x="51.3" y="146.0" width="153.30" height="2.6" fill="url(#gA64)"/>
<rect x="51.3" y="148.0" width="153.30" height="2.6" fill="url(#gA65)"/>
<rect x="51.3" y="150.0" width="153.30" height="2.6" fill="url(#gA66)"/>
<rect x="51.3" y="152.0" width="153.30" height="2.6" fill="url(#gA67)"/>
<rect x="51.3" y="154.0" width="153.30" height="2.6" fill="url(#gA68)"/>
<rect x="51.3" y="156.0" width="153.30" height="2.6" fill="url(#gA69)"/>
<rect x="51.3" y="158.0" width="153.30" height="2.6" fill="url(#gA70)"/>
<rect x="51.3" y="160.0" width="153.30" height="2.6" fill="url(#gA71)"/>
<rect x="51.3" y="162.0" width="153.30" height="2.6" fill="url(#gA72)"/>
<rect x="51.3" y="164.0" width="153.30" height="2.6" fill="url(#gA73)"/>
<rect x="51.3" y="166.0" width="153.30" height="2.6" fill="url(#gA74)"/>
<rect x="51.3" y="168.0" width="153.30" height="2.6" fill="url(#gA75)"/>
<rect x="51.3" y="170.0" width="153.30" height="2.6" fill="url(#gA76)"/>
<rect x="51.3" y="172.0" width="153.30" height="2.6" fill="url(#gA77)"/>
<rect x="51.3" y="174.0" width="153.30" height="2.6" fill="url(#gA78)"/>
<polygon fill="#ecc84c" opacity="0.5" points="171.0,18.3 171.0,22.6 178.2,22.6 178.2,26.3 187.0,26.3 187.0,30.2 195.2,30.2 195.2,34.0 204.6,34.0 204.6,18.3"/>
<path d="M79.3,15.9 L84.7,18.4 L85.2,18.6 L85.7,18.8 L86.1,19.1 L86.6,19.3 L87.1,19.5 L87.6,19.7 L88.1,19.9 L88.5,20.2 L89.0,20.4 L89.5,20.6 L90.0,20.8 L90.4,21.0 L90.9,21.2 L91.4,21.5 L91.9,21.7 L92.4,21.9 L92.9,22.1 L93.3,22.3 L93.8,22.5 L94.3,22.7 L94.8,22.9 L95.3,23.1 L95.7,23.4 L96.2,23.6 L96.7,23.8 L97.2,24.0 L97.7,24.2 L98.2,24.4 L98.6,24.6 L99.1,24.8 L99.6,25.0 L100.1,25.2 L100.6,25.4 L101.1,25.6 L101.6,25.8 L102.0,26.0 L102.5,26.2 L103.0,26.4 L103.5,26.6 L104.0,26.8 L104.5,27.0 L105.0,27.2 L105.5,27.4 L105.9,27.6 L106.4,27.8 L106.9,28.0 L107.4,28.2 L107.9,28.4 L108.4,28.6 L108.9,28.8 L109.4,29.0 L109.9,29.2 L110.3,29.4 L110.8,29.5 L111.3,29.7 L111.8,29.9 L112.3,30.1 L112.8,30.3 L113.3,30.5 M140.1,39.8 L140.6,39.9 L141.1,40.1 L141.7,40.2 L142.2,40.4 L142.7,40.6 L143.2,40.7 L143.7,40.9 L144.2,41.0 L144.7,41.2 L145.2,41.3 L145.7,41.5 L146.2,41.6 L146.7,41.8 L147.2,41.9 L147.7,42.1 L148.2,42.2 L148.7,42.4 L149.2,42.5 L149.7,42.7 L150.2,42.8 L150.7,42.9 L151.2,43.1 L151.7,43.2 L152.3,43.4 L152.8,43.5 L153.3,43.7 L153.8,43.8 L154.3,43.9 L154.8,44.1 L155.3,44.2 L155.8,44.4 L156.3,44.5 L156.8,44.6 L157.3,44.8 L157.8,44.9 L158.3,45.1 L158.9,45.2 L159.4,45.3 L159.9,45.5 L160.4,45.6 L160.9,45.7 L161.4,45.9 L161.9,46.0 L162.4,46.1 L162.9,46.3 L163.4,46.4 L163.9,46.5 L164.5,46.7 L165.0,46.8 L165.5,46.9 L166.0,47.1 L166.5,47.2 L167.0,47.3 L167.5,47.4 L168.0,47.6 L168.5,47.7 L169.1,47.8 L169.6,47.9 L170.1,48.1 L170.6,48.2 L171.1,48.3 L171.6,48.4 L172.1,48.6 L172.6,48.7 L173.1,48.8 L173.7,48.9 L174.2,49.0 L174.7,49.2 L175.2,49.3 L175.7,49.4 L176.2,49.5 L176.7,49.6 L177.2,49.8 L177.8,49.9 L178.3,50.0 L178.8,50.1 L179.3,50.2 L179.8,50.3 L180.3,50.5 L180.8,50.6 L181.4,50.7 L181.9,50.8 L182.4,50.9 L182.9,51.0 L183.4,51.1 L183.9,51.2 L184.4,51.3 L185.0,51.5 L185.5,51.6 L186.0,51.7 L186.5,51.8 L187.0,51.9 L187.5,52.0 L188.1,52.1 L188.6,52.2 L189.1,52.3 L189.6,52.4 L190.1,52.5 L190.6,52.6 L191.1,52.7 L191.7,52.8 L192.2,52.9 L192.7,53.0 L193.2,53.1 L193.7,53.2 L194.2,53.3 L194.8,53.4 L195.3,53.5 L195.8,53.6 L196.3,53.7 L196.8,53.8 L197.3,53.9 L197.9,54.0 L198.4,54.1 L198.9,54.2 L199.4,54.3 L199.9,54.4 L200.4,54.5 L201.0,54.6 L201.5,54.7 L202.0,54.8 L202.5,54.9 L203.0,55.0 L203.6,55.1 L204.1,55.1 L204.6,55.2 L210.5,56.3" fill="none" stroke="#000" stroke-width="1.85" stroke-linecap="butt"/>
<path d="M46.0,52.2 L51.3,55.2 L51.9,55.5 L52.4,55.8 L53.0,56.1 L53.6,56.5 L54.2,56.8 L54.8,57.1 L55.4,57.4 L56.0,57.7 L56.6,58.1 L57.2,58.4 L57.8,58.7 L58.4,59.0 L59.0,59.3 L59.6,59.6 L60.2,59.9 L60.8,60.2 L61.4,60.5 L62.0,60.8 L62.6,61.0 L63.2,61.3 L63.8,61.6 L64.4,61.9 L65.0,62.2 L65.6,62.5 L66.2,62.7 L66.9,63.0 L67.5,63.3 L68.1,63.5 L68.7,63.8 L69.3,64.1 L69.9,64.3 L70.5,64.6 L71.1,64.9 L71.7,65.1 L72.4,65.4 L73.0,65.6 L73.6,65.9 L74.2,66.1 L74.8,66.4 L75.4,66.6 L76.1,66.9 L76.7,67.1 L77.3,67.3 L77.9,67.6 L78.5,67.8 L79.2,68.0 L79.8,68.3 L80.4,68.5 L81.0,68.7 L81.7,69.0 L82.3,69.2 L82.9,69.4 L83.5,69.6 L84.2,69.8 L84.8,70.1 L85.4,70.3 L86.0,70.5 L86.7,70.7 L87.3,70.9 L87.9,71.1 L88.6,71.3 L89.2,71.5 L89.8,71.7 L90.5,71.9 L91.1,72.1 L91.7,72.3 L92.4,72.5 L93.0,72.7 L93.6,72.9 L94.3,73.1 L94.9,73.3 L95.5,73.5 L96.2,73.7 L96.8,73.9 L97.4,74.1 L98.1,74.3 L98.7,74.4 L99.3,74.6 L100.0,74.8 L100.6,75.0 L101.3,75.2 L101.9,75.3 L102.5,75.5 L103.2,75.7 L103.8,75.9 L104.5,76.0 L105.1,76.2 L105.8,76.4 L106.4,76.5 L107.0,76.7 L107.7,76.9 L108.3,77.0 L109.0,77.2 L109.6,77.3 L110.3,77.5 L110.9,77.7 L111.6,77.8 L112.2,78.0 L112.8,78.1 L113.5,78.3 L114.1,78.4 L114.8,78.6 L115.4,78.7 L116.1,78.9 L116.7,79.0 L117.4,79.2 L118.0,79.3 L118.7,79.5 L119.3,79.6 L120.0,79.8 L120.6,79.9 L121.3,80.0 L121.9,80.2 L122.6,80.3 L123.2,80.5 L123.9,80.6 L124.5,80.7 L125.2,80.9 L125.8,81.0 L126.5,81.1 L127.2,81.3 L127.8,81.4 L128.5,81.5 L129.1,81.7 L129.8,81.8 L130.4,81.9 L131.1,82.1 L131.7,82.2 L132.4,82.3 L133.0,82.4 L133.7,82.6 L134.3,82.7 L135.0,82.8 L135.7,82.9 L136.3,83.1 L137.0,83.2 L137.6,83.3 L138.3,83.4 L138.9,83.5 L139.6,83.7 L140.3,83.8 L140.9,83.9 L141.6,84.0 L142.2,84.1 L142.9,84.3 L143.5,84.4 L144.2,84.5 L144.9,84.6 L145.5,84.7 L146.2,84.8 L146.8,84.9 L147.5,85.1 L148.1,85.2 L148.8,85.3 L149.5,85.4 L150.1,85.5 L150.8,85.6 L151.4,85.7 L152.1,85.8 L152.8,86.0 L153.4,86.1 L154.1,86.2 L154.7,86.3 L155.4,86.4 L156.1,86.5 L156.7,86.6 L157.4,86.7 L158.0,86.8 L158.7,86.9 L159.3,87.0 L160.0,87.2 L160.7,87.3 L161.3,87.4 L162.0,87.5 L162.6,87.6 L163.3,87.7 L164.0,87.8 L164.6,87.9 L165.3,88.0 L165.9,88.1 L166.6,88.2 L167.3,88.3 L167.9,88.5 L168.6,88.6 L169.2,88.7 L169.9,88.8 L170.5,88.9 L171.2,89.0 M200.7,94.1 L201.3,94.3 L202.0,94.4 L202.6,94.5 L203.3,94.6 L203.9,94.8 L204.6,94.9 L210.4,96.1" fill="none" stroke="#000" stroke-width="1.85" stroke-linecap="butt"/>
<path d="M45.4,98.8 L51.3,100.1 L51.9,100.2 L52.6,100.3 L53.2,100.5 L53.8,100.6 L54.5,100.7 L55.1,100.9 L55.7,101.0 L56.4,101.1 L57.0,101.3 L57.6,101.4 L58.3,101.5 L58.9,101.7 L59.6,101.8 L60.2,101.9 L60.8,102.0 L61.5,102.2 L62.1,102.3 L62.7,102.4 L63.4,102.5 L64.0,102.7 L64.6,102.8 L65.3,102.9 L65.9,103.0 L66.6,103.1 L67.2,103.3 L67.8,103.4 L68.5,103.5 L69.1,103.6 L69.7,103.7 L70.4,103.9 L71.0,104.0 L71.6,104.1 L72.3,104.2 L72.9,104.3 L73.6,104.5 L74.2,104.6 L74.8,104.7 L75.5,104.8 L76.1,104.9 L76.7,105.0 L77.4,105.1 L78.0,105.2 L78.7,105.4 L79.3,105.5 L79.9,105.6 L80.6,105.7 L81.2,105.8 L81.9,105.9 L82.5,106.0 L83.1,106.1 L83.8,106.2 L84.4,106.4 L85.0,106.5 L85.7,106.6 L86.3,106.7 L87.0,106.8 L87.6,106.9 L88.2,107.0 L88.9,107.1 L89.5,107.2 L90.2,107.3 L90.8,107.4 L91.4,107.5 L92.1,107.6 L92.7,107.7 L93.4,107.8 L94.0,107.9 L94.6,108.0 L95.3,108.1 L95.9,108.2 L96.6,108.3 L97.2,108.4 L97.8,108.5 L98.5,108.6 L99.1,108.7 L99.8,108.8 L100.4,108.9 L101.0,109.0 L101.7,109.1 L102.3,109.2 L103.0,109.3 L103.6,109.4 L104.2,109.5 L104.9,109.6 L105.5,109.7 L106.2,109.8 L106.8,109.9 L107.4,110.0 L108.1,110.1 L108.7,110.1 L109.4,110.2 L110.0,110.3 L110.7,110.4 L111.3,110.5 L111.9,110.6 L112.6,110.7 L113.2,110.8 L113.9,110.9 L114.5,111.0 M144.1,114.8 L144.7,114.9 L145.3,114.9 L146.0,115.0 L146.6,115.1 L147.3,115.2 L147.9,115.2 L148.6,115.3 L149.2,115.4 L149.8,115.5 L150.5,115.5 L151.1,115.6 L151.8,115.7 L152.4,115.8 L153.1,115.8 L153.7,115.9 L154.4,116.0 L155.0,116.1 L155.6,116.1 L156.3,116.2 L156.9,116.3 L157.6,116.3 L158.2,116.4 L158.9,116.5 L159.5,116.6 L160.2,116.6 L160.8,116.7 L161.4,116.8 L162.1,116.8 L162.7,116.9 L163.4,117.0 L164.0,117.1 L164.7,117.1 L165.3,117.2 L165.9,117.3 L166.6,117.3 L167.2,117.4 L167.9,117.5 L168.5,117.6 L169.2,117.6 L169.8,117.7 L170.5,117.8 L171.1,117.8 L171.7,117.9 L172.4,118.0 L173.0,118.0 L173.7,118.1 L174.3,118.2 L175.0,118.3 L175.6,118.3 L176.3,118.4 L176.9,118.5 L177.5,118.5 L178.2,118.6 L178.8,118.7 L179.5,118.7 L180.1,118.8 L180.8,118.9 L181.4,118.9 L182.1,119.0 L182.7,119.1 L183.3,119.1 L184.0,119.2 L184.6,119.3 L185.3,119.4 L185.9,119.4 L186.6,119.5 L187.2,119.6 L187.9,119.6 L188.5,119.7 L189.1,119.8 L189.8,119.8 L190.4,119.9 L191.1,120.0 L191.7,120.0 L192.4,120.1 L193.0,120.2 L193.7,120.2 L194.3,120.3 L194.9,120.4 L195.6,120.4 L196.2,120.5 L196.9,120.6 L197.5,120.6 L198.2,120.7 L198.8,120.8 L199.4,120.8 L200.1,120.9 L200.7,121.0 L201.4,121.0 L202.0,121.1 L202.7,121.2 L203.3,121.2 L204.0,121.3 L204.6,121.4 L210.6,122.0" fill="none" stroke="#000" stroke-width="1.85" stroke-linecap="butt"/>
<path d="M45.3,134.7 L51.3,135.5 L51.9,135.6 L52.6,135.7 L53.2,135.7 L53.9,135.8 L54.5,135.9 L55.1,136.0 L55.8,136.1 L56.4,136.1 L57.1,136.2 L57.7,136.3 L58.3,136.4 L59.0,136.4 L59.6,136.5 L60.2,136.6 L60.9,136.7 L61.5,136.7 L62.2,136.8 L62.8,136.9 L63.4,137.0 L64.1,137.0 L64.7,137.1 L65.4,137.2 L66.0,137.3 L66.6,137.3 L67.3,137.4 L67.9,137.5 L68.6,137.6 L69.2,137.6 L69.8,137.7 L70.5,137.8 L71.1,137.8 L71.8,137.9 L72.4,138.0 L73.0,138.1 L73.7,138.1 L74.3,138.2 L75.0,138.3 L75.6,138.3 L76.2,138.4 L76.9,138.5 L77.5,138.5 L78.2,138.6 L78.8,138.7 L79.4,138.7 L80.1,138.8 L80.7,138.9 L81.4,138.9 L82.0,139.0 L82.6,139.1 L83.3,139.1 L83.9,139.2 L84.6,139.3 L85.2,139.3 L85.9,139.4 L86.5,139.5 L87.1,139.5 L87.8,139.6 L88.4,139.7 L89.1,139.7 L89.7,139.8 L90.3,139.9 L91.0,139.9 L91.6,140.0 L92.3,140.0 L92.9,140.1 L93.5,140.2 L94.2,140.2 L94.8,140.3 L95.5,140.4 L96.1,140.4 L96.7,140.5 L97.4,140.5 L98.0,140.6 L98.7,140.7 L99.3,140.7 L99.9,140.8 L100.6,140.8 L101.2,140.9 L101.9,141.0 L102.5,141.0 L103.2,141.1 L103.8,141.1 L104.4,141.2 L105.1,141.2 L105.7,141.3 L106.4,141.4 L107.0,141.4 L107.6,141.5 L108.3,141.5 L108.9,141.6 L109.6,141.6 L110.2,141.7 L110.9,141.8 L111.5,141.8 L112.1,141.9 L112.8,141.9 L113.4,142.0 L114.1,142.0 L114.7,142.1 L115.3,142.1 L116.0,142.2 L116.6,142.3 L117.3,142.3 L117.9,142.4 L118.5,142.4 L119.2,142.5 L119.8,142.5 L120.5,142.6 L121.1,142.6 L121.8,142.7 L122.4,142.7 L123.0,142.8 L123.7,142.8 L124.3,142.9 L125.0,142.9 L125.6,143.0 L126.2,143.0 L126.9,143.1 L127.5,143.2 L128.2,143.2 L128.8,143.3 L129.5,143.3 L130.1,143.4 L130.7,143.4 L131.4,143.5 L132.0,143.5 L132.7,143.6 L133.3,143.6 L134.0,143.7 L134.6,143.7 L135.2,143.8 L135.9,143.8 L136.5,143.9 L137.2,143.9 L137.8,144.0 L138.4,144.0 L139.1,144.1 L139.7,144.1 L140.4,144.2 L141.0,144.2 L141.7,144.2 L142.3,144.3 L142.9,144.3 L143.6,144.4 L144.2,144.4 L144.9,144.5 L145.5,144.5 L146.2,144.6 L146.8,144.6 L147.4,144.7 L148.1,144.7 L148.7,144.8 L149.4,144.8 L150.0,144.9 M178.9,146.9 L179.6,147.0 L180.2,147.0 L180.8,147.0 L181.5,147.1 L182.1,147.1 L182.8,147.2 L183.4,147.2 L184.0,147.3 L184.7,147.3 L185.3,147.4 L186.0,147.4 L186.6,147.4 L187.3,147.5 L187.9,147.5 L188.5,147.6 L189.2,147.6 L189.8,147.7 L190.5,147.7 L191.1,147.7 L191.8,147.8 L192.4,147.8 L193.0,147.9 L193.7,147.9 L194.3,148.0 L195.0,148.0 L195.6,148.1 L196.3,148.1 L196.9,148.1 L197.5,148.2 L198.2,148.2 L198.8,148.3 L199.5,148.3 L200.1,148.4 L200.7,148.4 L201.4,148.4 L202.0,148.5 L202.7,148.5 L203.3,148.6 L204.0,148.6 L204.6,148.7 L210.6,149.1" fill="none" stroke="#000" stroke-width="1.85" stroke-linecap="butt"/>
<polygon fill="#808080" points="51.3,175.4 51.3,155.8 59.3,155.8 59.3,159.3 80.9,159.3 80.9,162.8 105.5,162.8 105.5,166.3 133.0,166.3 133.0,169.8 167.4,169.8 167.4,173.3 204.6,173.3 204.6,175.4"/>
</g>
<text transform="translate(126.5,35.0) rotate(19.1) translate(-9.54,4.38) scale(1.1216,1)" x="-0.00 6.81 10.21" y="0" font-size="12.24" xml:space="preserve">1.1</text>
<text transform="translate(186.4,90.4) rotate(9.8) translate(-9.54,4.38) scale(1.1216,1)" x="-0.00 6.81 10.21" y="0" font-size="12.24" xml:space="preserve">1.0</text>
<text transform="translate(129.4,112.5) rotate(7.3) translate(-9.54,4.38) scale(1.1216,1)" x="-0.00 6.81 10.21" y="0" font-size="12.24" xml:space="preserve">0.9</text>
<text transform="translate(164.8,145.0) rotate(4.0) translate(-9.54,4.38) scale(1.1216,1)" x="-0.00 6.81 10.21" y="0" font-size="12.24" xml:space="preserve">0.8</text>
<rect x="51.3" y="18.3" width="153.30" height="157.10" fill="none" stroke="#000" stroke-width="1.1"/>
<g clip-path="url(#cpB)">
<rect x="250.1" y="18.0" width="154.00" height="2.6" fill="url(#gB0)"/>
<rect x="250.1" y="20.0" width="154.00" height="2.6" fill="url(#gB1)"/>
<rect x="250.1" y="22.0" width="154.00" height="2.6" fill="url(#gB2)"/>
<rect x="250.1" y="24.0" width="154.00" height="2.6" fill="url(#gB3)"/>
<rect x="250.1" y="26.0" width="154.00" height="2.6" fill="url(#gB4)"/>
<rect x="250.1" y="28.0" width="154.00" height="2.6" fill="url(#gB5)"/>
<rect x="250.1" y="30.0" width="154.00" height="2.6" fill="url(#gB6)"/>
<rect x="250.1" y="32.0" width="154.00" height="2.6" fill="url(#gB7)"/>
<rect x="250.1" y="34.0" width="154.00" height="2.6" fill="url(#gB8)"/>
<rect x="250.1" y="36.0" width="154.00" height="2.6" fill="url(#gB9)"/>
<rect x="250.1" y="38.0" width="154.00" height="2.6" fill="url(#gB10)"/>
<rect x="250.1" y="40.0" width="154.00" height="2.6" fill="url(#gB11)"/>
<rect x="250.1" y="42.0" width="154.00" height="2.6" fill="url(#gB12)"/>
<rect x="250.1" y="44.0" width="154.00" height="2.6" fill="url(#gB13)"/>
<rect x="250.1" y="46.0" width="154.00" height="2.6" fill="url(#gB14)"/>
<rect x="250.1" y="48.0" width="154.00" height="2.6" fill="url(#gB15)"/>
<rect x="250.1" y="50.0" width="154.00" height="2.6" fill="url(#gB16)"/>
<rect x="250.1" y="52.0" width="154.00" height="2.6" fill="url(#gB17)"/>
<rect x="250.1" y="54.0" width="154.00" height="2.6" fill="url(#gB18)"/>
<rect x="250.1" y="56.0" width="154.00" height="2.6" fill="url(#gB19)"/>
<rect x="250.1" y="58.0" width="154.00" height="2.6" fill="url(#gB20)"/>
<rect x="250.1" y="60.0" width="154.00" height="2.6" fill="url(#gB21)"/>
<rect x="250.1" y="62.0" width="154.00" height="2.6" fill="url(#gB22)"/>
<rect x="250.1" y="64.0" width="154.00" height="2.6" fill="url(#gB23)"/>
<rect x="250.1" y="66.0" width="154.00" height="2.6" fill="url(#gB24)"/>
<rect x="250.1" y="68.0" width="154.00" height="2.6" fill="url(#gB25)"/>
<rect x="250.1" y="70.0" width="154.00" height="2.6" fill="url(#gB26)"/>
<rect x="250.1" y="72.0" width="154.00" height="2.6" fill="url(#gB27)"/>
<rect x="250.1" y="74.0" width="154.00" height="2.6" fill="url(#gB28)"/>
<rect x="250.1" y="76.0" width="154.00" height="2.6" fill="url(#gB29)"/>
<rect x="250.1" y="78.0" width="154.00" height="2.6" fill="url(#gB30)"/>
<rect x="250.1" y="80.0" width="154.00" height="2.6" fill="url(#gB31)"/>
<rect x="250.1" y="82.0" width="154.00" height="2.6" fill="url(#gB32)"/>
<rect x="250.1" y="84.0" width="154.00" height="2.6" fill="url(#gB33)"/>
<rect x="250.1" y="86.0" width="154.00" height="2.6" fill="url(#gB34)"/>
<rect x="250.1" y="88.0" width="154.00" height="2.6" fill="url(#gB35)"/>
<rect x="250.1" y="90.0" width="154.00" height="2.6" fill="url(#gB36)"/>
<rect x="250.1" y="92.0" width="154.00" height="2.6" fill="url(#gB37)"/>
<rect x="250.1" y="94.0" width="154.00" height="2.6" fill="url(#gB38)"/>
<rect x="250.1" y="96.0" width="154.00" height="2.6" fill="url(#gB39)"/>
<rect x="250.1" y="98.0" width="154.00" height="2.6" fill="url(#gB40)"/>
<rect x="250.1" y="100.0" width="154.00" height="2.6" fill="url(#gB41)"/>
<rect x="250.1" y="102.0" width="154.00" height="2.6" fill="url(#gB42)"/>
<rect x="250.1" y="104.0" width="154.00" height="2.6" fill="url(#gB43)"/>
<rect x="250.1" y="106.0" width="154.00" height="2.6" fill="url(#gB44)"/>
<rect x="250.1" y="108.0" width="154.00" height="2.6" fill="url(#gB45)"/>
<rect x="250.1" y="110.0" width="154.00" height="2.6" fill="url(#gB46)"/>
<rect x="250.1" y="112.0" width="154.00" height="2.6" fill="url(#gB47)"/>
<rect x="250.1" y="114.0" width="154.00" height="2.6" fill="url(#gB48)"/>
<rect x="250.1" y="116.0" width="154.00" height="2.6" fill="url(#gB49)"/>
<rect x="250.1" y="118.0" width="154.00" height="2.6" fill="url(#gB50)"/>
<rect x="250.1" y="120.0" width="154.00" height="2.6" fill="url(#gB51)"/>
<rect x="250.1" y="122.0" width="154.00" height="2.6" fill="url(#gB52)"/>
<rect x="250.1" y="124.0" width="154.00" height="2.6" fill="url(#gB53)"/>
<rect x="250.1" y="126.0" width="154.00" height="2.6" fill="url(#gB54)"/>
<rect x="250.1" y="128.0" width="154.00" height="2.6" fill="url(#gB55)"/>
<rect x="250.1" y="130.0" width="154.00" height="2.6" fill="url(#gB56)"/>
<rect x="250.1" y="132.0" width="154.00" height="2.6" fill="url(#gB57)"/>
<rect x="250.1" y="134.0" width="154.00" height="2.6" fill="url(#gB58)"/>
<rect x="250.1" y="136.0" width="154.00" height="2.6" fill="url(#gB59)"/>
<rect x="250.1" y="138.0" width="154.00" height="2.6" fill="url(#gB60)"/>
<rect x="250.1" y="140.0" width="154.00" height="2.6" fill="url(#gB61)"/>
<rect x="250.1" y="142.0" width="154.00" height="2.6" fill="url(#gB62)"/>
<rect x="250.1" y="144.0" width="154.00" height="2.6" fill="url(#gB63)"/>
<rect x="250.1" y="146.0" width="154.00" height="2.6" fill="url(#gB64)"/>
<rect x="250.1" y="148.0" width="154.00" height="2.6" fill="url(#gB65)"/>
<rect x="250.1" y="150.0" width="154.00" height="2.6" fill="url(#gB66)"/>
<rect x="250.1" y="152.0" width="154.00" height="2.6" fill="url(#gB67)"/>
<rect x="250.1" y="154.0" width="154.00" height="2.6" fill="url(#gB68)"/>
<rect x="250.1" y="156.0" width="154.00" height="2.6" fill="url(#gB69)"/>
<rect x="250.1" y="158.0" width="154.00" height="2.6" fill="url(#gB70)"/>
<rect x="250.1" y="160.0" width="154.00" height="2.6" fill="url(#gB71)"/>
<rect x="250.1" y="162.0" width="154.00" height="2.6" fill="url(#gB72)"/>
<rect x="250.1" y="164.0" width="154.00" height="2.6" fill="url(#gB73)"/>
<rect x="250.1" y="166.0" width="154.00" height="2.6" fill="url(#gB74)"/>
<rect x="250.1" y="168.0" width="154.00" height="2.6" fill="url(#gB75)"/>
<rect x="250.1" y="170.0" width="154.00" height="2.6" fill="url(#gB76)"/>
<rect x="250.1" y="172.0" width="154.00" height="2.6" fill="url(#gB77)"/>
<rect x="250.1" y="174.0" width="154.00" height="2.6" fill="url(#gB78)"/>
<path d="M321.5,16.0 L327.0,18.3 L327.4,18.5 L327.7,18.6 L328.0,18.8 L328.3,18.9 L328.7,19.0 L329.0,19.2 L329.3,19.3 L329.6,19.5 L330.0,19.6 L330.3,19.8 L330.6,19.9 L330.9,20.1 L331.3,20.2 L331.6,20.4 L331.9,20.5 L332.2,20.6 L332.6,20.8 M362.7,36.2 L363.0,36.4 L363.4,36.6 L363.7,36.7 L364.0,36.9 L364.3,37.1 L364.6,37.2 L364.9,37.4 L365.3,37.6 L365.6,37.7 L365.9,37.9 L366.2,38.1 L366.5,38.2 L366.8,38.4 L367.2,38.6 L367.5,38.7 L367.8,38.9 L368.1,39.1 L368.4,39.2 L368.7,39.4 L369.1,39.5 L369.4,39.7 L369.7,39.9 L370.0,40.0 L370.3,40.2 L370.6,40.4 L371.0,40.5 L371.3,40.7 L371.6,40.9 L371.9,41.0 L372.2,41.2 L372.6,41.3 L372.9,41.5 L373.2,41.7 L373.5,41.8 L373.8,42.0 L374.1,42.1 L374.5,42.3 L374.8,42.5 L375.1,42.6 L375.4,42.8 L375.7,42.9 L376.1,43.1 L376.4,43.2 L376.7,43.4 L377.0,43.6 L377.3,43.7 L377.7,43.9 L378.0,44.0 L378.3,44.2 L378.6,44.3 L378.9,44.5 L379.3,44.6 L379.6,44.8 L379.9,44.9 L380.2,45.1 L380.6,45.3 L380.9,45.4 L381.2,45.6 L381.5,45.7 L381.9,45.9 L382.2,46.0 L382.5,46.2 L382.8,46.3 L383.1,46.5 L383.5,46.6 L383.8,46.8 L384.1,46.9 L384.4,47.0 L384.8,47.2 L385.1,47.3 L385.4,47.5 L385.7,47.6 L386.1,47.8 L386.4,47.9 L386.7,48.1 L387.1,48.2 L387.4,48.3 L387.7,48.5 L388.0,48.6 L388.4,48.8 L388.7,48.9 L389.0,49.0 L389.3,49.2 L389.7,49.3 L390.0,49.5 L390.3,49.6 L390.7,49.7 L391.0,49.9 L391.3,50.0 L391.7,50.1 L392.0,50.3 L392.3,50.4 L392.6,50.5 L393.0,50.7 L393.3,50.8 L393.6,50.9 L394.0,51.0 L394.3,51.2 L394.6,51.3 L395.0,51.4 L395.3,51.6 L395.6,51.7 L396.0,51.8 L396.3,51.9 L396.6,52.1 L397.0,52.2 L397.3,52.3 L397.7,52.4 L398.0,52.5 L398.3,52.7 L398.7,52.8 L399.0,52.9 L399.3,53.0 L399.7,53.1 L400.0,53.3 L400.4,53.4 L400.7,53.5 L401.0,53.6 L401.4,53.7 L401.7,53.8 L402.1,53.9 L402.4,54.0 L402.7,54.2 L403.1,54.3 L403.4,54.4 L403.8,54.5 L404.1,54.6 L409.8,56.4" fill="none" stroke="#000" stroke-width="1.85" stroke-linecap="butt"/>
<path d="M244.8,31.4 L250.1,34.3 L250.7,34.7 L251.3,35.0 L251.9,35.3 L252.5,35.7 L253.1,36.0 L253.7,36.3 L254.3,36.7 L254.9,37.0 L255.5,37.3 L256.1,37.6 L256.7,38.0 L257.3,38.3 L257.9,38.6 L258.5,38.9 L259.1,39.2 L259.7,39.6 L260.4,39.9 L261.0,40.2 L261.6,40.5 L262.2,40.8 L262.8,41.2 L263.4,41.5 L264.0,41.8 L264.6,42.1 L265.2,42.4 L265.8,42.7 L266.5,43.0 L267.1,43.3 L267.7,43.6 L268.3,44.0 L268.9,44.3 L269.5,44.6 L270.1,44.9 L270.8,45.2 L271.4,45.5 L272.0,45.8 L272.6,46.1 L273.2,46.4 L273.8,46.7 L274.5,47.0 L275.1,47.3 L275.7,47.6 L276.3,47.9 L276.9,48.2 L277.6,48.5 L278.2,48.8 L278.8,49.1 L279.4,49.3 L280.0,49.6 L280.7,49.9 L281.3,50.2 L281.9,50.5 L282.5,50.8 L283.2,51.1 L283.8,51.4 L284.4,51.7 L285.0,51.9 L285.7,52.2 L286.3,52.5 L286.9,52.8 L287.5,53.1 L288.2,53.3 L288.8,53.6 L289.4,53.9 L290.1,54.2 L290.7,54.5 L291.3,54.7 L291.9,55.0 L292.6,55.3 L293.2,55.6 L293.8,55.8 L294.5,56.1 L295.1,56.4 L295.7,56.6 L296.4,56.9 L297.0,57.2 L297.6,57.4 L298.3,57.7 L298.9,58.0 L299.5,58.2 L300.2,58.5 L300.8,58.8 L301.4,59.0 L302.1,59.3 L302.7,59.5 L303.3,59.8 L304.0,60.1 L304.6,60.3 L305.2,60.6 L305.9,60.8 L306.5,61.1 L307.2,61.3 L307.8,61.6 L308.4,61.8 L309.1,62.1 L309.7,62.3 L310.4,62.6 L311.0,62.8 L311.6,63.1 L312.3,63.3 L312.9,63.6 L313.6,63.8 L314.2,64.1 L314.9,64.3 L315.5,64.6 L316.1,64.8 L316.8,65.0 L317.4,65.3 L318.1,65.5 L318.7,65.8 L319.4,66.0 L320.0,66.2 L320.6,66.5 L321.3,66.7 L321.9,66.9 L322.6,67.2 L323.2,67.4 L323.9,67.6 L324.5,67.9 L325.2,68.1 L325.8,68.3 L326.5,68.5 L327.1,68.8 L327.8,69.0 L328.4,69.2 L329.1,69.4 L329.7,69.7 L330.4,69.9 L331.0,70.1 L331.7,70.3 L332.3,70.6 L333.0,70.8 L333.6,71.0 L334.3,71.2 L334.9,71.4 L335.6,71.6 L336.2,71.9 L336.9,72.1 L337.5,72.3 L338.2,72.5 L338.9,72.7 L339.5,72.9 L340.2,73.1 L340.8,73.3 L341.5,73.5 L342.1,73.7 L342.8,74.0 L343.4,74.2 L344.1,74.4 L344.7,74.6 L345.4,74.8 L346.1,75.0 L346.7,75.2 L347.4,75.4 L348.0,75.6 L348.7,75.8 L349.4,76.0 L350.0,76.2 L350.7,76.4 L351.3,76.5 L352.0,76.7 L352.6,76.9 L353.3,77.1 L354.0,77.3 M387.3,85.7 L387.9,85.9 L388.6,86.0 L389.3,86.2 L389.9,86.3 L390.6,86.5 L391.3,86.6 L392.0,86.7 L392.6,86.9 L393.3,87.0 L394.0,87.2 L394.6,87.3 L395.3,87.4 L396.0,87.6 L396.7,87.7 L397.3,87.8 L398.0,88.0 L398.7,88.1 L399.4,88.2 L400.0,88.4 L400.7,88.5 L401.4,88.6 L402.0,88.8 L402.7,88.9 L403.4,89.0 L404.1,89.1 L410.0,90.2" fill="none" stroke="#000" stroke-width="1.85" stroke-linecap="butt"/>
<path d="M244.2,80.3 L250.1,81.6 L250.7,81.7 L251.4,81.8 L252.0,82.0 L252.7,82.1 L253.3,82.3 L254.0,82.4 L254.6,82.6 L255.2,82.7 L255.9,82.9 L256.5,83.0 L257.2,83.2 L257.8,83.3 L258.5,83.5 L259.1,83.6 L259.7,83.8 L260.4,83.9 L261.0,84.1 L261.7,84.2 L262.3,84.4 L263.0,84.5 L263.6,84.7 L264.2,84.8 L264.9,85.0 L265.5,85.1 L266.2,85.3 L266.8,85.4 L267.5,85.6 L268.1,85.7 L268.7,85.9 L269.4,86.0 L270.0,86.2 L270.7,86.3 L271.3,86.5 L272.0,86.6 L272.6,86.8 L273.2,87.0 L273.9,87.1 L274.5,87.3 L275.2,87.4 L275.8,87.6 L276.4,87.7 L277.1,87.9 L277.7,88.1 L278.4,88.2 L279.0,88.4 L279.7,88.5 L280.3,88.7 L280.9,88.8 L281.6,89.0 L282.2,89.2 L282.9,89.3 L283.5,89.5 L284.1,89.6 L284.8,89.8 L285.4,90.0 L286.1,90.1 L286.7,90.3 L287.3,90.4 L288.0,90.6 L288.6,90.7 L289.3,90.9 L289.9,91.1 L290.6,91.2 L291.2,91.4 L291.8,91.6 L292.5,91.7 L293.1,91.9 L293.8,92.0 L294.4,92.2 L295.0,92.4 L295.7,92.5 L296.3,92.7 L297.0,92.8 L297.6,93.0 L298.2,93.2 L298.9,93.3 L299.5,93.5 L300.2,93.6 L300.8,93.8 L301.4,94.0 L302.1,94.1 L302.7,94.3 L303.4,94.4 L304.0,94.6 L304.6,94.8 L305.3,94.9 L305.9,95.1 L306.6,95.3 L307.2,95.4 L307.8,95.6 L308.5,95.7 L309.1,95.9 L309.8,96.1 L310.4,96.2 L311.0,96.4 L311.7,96.5 L312.3,96.7 L313.0,96.9 L313.6,97.0 L314.3,97.2 M347.0,105.1 L347.6,105.2 L348.3,105.4 L348.9,105.5 L349.6,105.6 L350.2,105.8 L350.8,105.9 L351.5,106.1 L352.1,106.2 L352.8,106.4 L353.4,106.5 L354.1,106.7 L354.7,106.8 L355.4,106.9 L356.0,107.1 L356.6,107.2 L357.3,107.4 L357.9,107.5 L358.6,107.6 L359.2,107.8 L359.9,107.9 L360.5,108.1 L361.2,108.2 L361.8,108.3 L362.5,108.5 L363.1,108.6 L363.8,108.7 L364.4,108.9 L365.0,109.0 L365.7,109.1 L366.3,109.3 L367.0,109.4 L367.6,109.5 L368.3,109.7 L368.9,109.8 L369.6,109.9 L370.2,110.1 L370.9,110.2 L371.5,110.3 L372.2,110.4 L372.8,110.6 L373.5,110.7 L374.1,110.8 L374.8,110.9 L375.4,111.1 L376.1,111.2 L376.7,111.3 L377.4,111.4 L378.0,111.6 L378.6,111.7 L379.3,111.8 L379.9,111.9 L380.6,112.0 L381.2,112.2 L381.9,112.3 L382.5,112.4 L383.2,112.5 L383.8,112.6 L384.5,112.7 L385.2,112.9 L385.8,113.0 L386.5,113.1 L387.1,113.2 L387.8,113.3 L388.4,113.4 L389.1,113.5 L389.7,113.6 L390.4,113.7 L391.0,113.8 L391.7,114.0 L392.3,114.1 L393.0,114.2 L393.6,114.3 L394.3,114.4 L394.9,114.5 L395.6,114.6 L396.2,114.7 L396.9,114.8 L397.5,114.9 L398.2,115.0 L398.9,115.1 L399.5,115.2 L400.2,115.3 L400.8,115.4 L401.5,115.5 L402.1,115.5 L402.8,115.6 L403.4,115.7 L404.1,115.8 L410.0,116.6" fill="none" stroke="#000" stroke-width="1.85" stroke-linecap="butt"/>
<path d="M244.3,111.0 L250.1,112.4 L250.8,112.6 L251.4,112.7 L252.0,112.9 L252.7,113.1 L253.3,113.2 L254.0,113.4 L254.6,113.5 L255.2,113.7 L255.9,113.8 L256.5,114.0 L257.2,114.1 L257.8,114.3 L258.4,114.4 L259.1,114.6 L259.7,114.7 L260.4,114.9 L261.0,115.0 L261.6,115.2 L262.3,115.3 L262.9,115.5 M296.9,122.9 L297.5,123.0 L298.2,123.2 L298.8,123.3 L299.5,123.4 L300.1,123.6 L300.7,123.7 L301.4,123.8 L302.0,124.0 L302.7,124.1 L303.3,124.2 L304.0,124.4 L304.6,124.5 L305.2,124.6 L305.9,124.8 L306.5,124.9 L307.2,125.0 L307.8,125.1 L308.5,125.3 L309.1,125.4 L309.7,125.5 L310.4,125.7 L311.0,125.8 L311.7,125.9 L312.3,126.0 L313.0,126.2 L313.6,126.3 L314.3,126.4 L314.9,126.6 L315.5,126.7 L316.2,126.8 L316.8,126.9 L317.5,127.1 L318.1,127.2 L318.8,127.3 L319.4,127.4 L320.0,127.6 L320.7,127.7 L321.3,127.8 L322.0,127.9 L322.6,128.1 L323.3,128.2 L323.9,128.3 L324.6,128.4 L325.2,128.5 L325.8,128.7 L326.5,128.8 L327.1,128.9 L327.8,129.0 L328.4,129.2 L329.1,129.3 L329.7,129.4 L330.4,129.5 L331.0,129.6 L331.6,129.8 L332.3,129.9 L332.9,130.0 L333.6,130.1 L334.2,130.2 L334.9,130.4 L335.5,130.5 L336.2,130.6 L336.8,130.7 L337.5,130.8 L338.1,131.0 L338.7,131.1 L339.4,131.2 L340.0,131.3 L340.7,131.4 L341.3,131.6 L342.0,131.7 L342.6,131.8 L343.3,131.9 L343.9,132.0 L344.6,132.1 L345.2,132.3 L345.8,132.4 L346.5,132.5 L347.1,132.6 L347.8,132.7 L348.4,132.8 L349.1,132.9 L349.7,133.1 L350.4,133.2 L351.0,133.3 L351.7,133.4 L352.3,133.5 L352.9,133.6 L353.6,133.7 L354.2,133.9 L354.9,134.0 L355.5,134.1 L356.2,134.2 L356.8,134.3 L357.5,134.4 L358.1,134.5 L358.8,134.6 L359.4,134.8 L360.1,134.9 L360.7,135.0 L361.4,135.1 L362.0,135.2 L362.6,135.3 L363.3,135.4 L363.9,135.5 L364.6,135.6 L365.2,135.8 L365.9,135.9 L366.5,136.0 L367.2,136.1 L367.8,136.2 L368.5,136.3 L369.1,136.4 L369.8,136.5 L370.4,136.6 L371.1,136.7 L371.7,136.8 L372.4,137.0 L373.0,137.1 L373.6,137.2 L374.3,137.3 L374.9,137.4 L375.6,137.5 L376.2,137.6 L376.9,137.7 L377.5,137.8 L378.2,137.9 L378.8,138.0 L379.5,138.1 L380.1,138.2 L380.8,138.3 L381.4,138.4 L382.1,138.6 L382.7,138.7 L383.4,138.8 L384.0,138.9 L384.7,139.0 L385.3,139.1 L386.0,139.2 L386.6,139.3 L387.2,139.4 L387.9,139.5 L388.5,139.6 L389.2,139.7 L389.8,139.8 L390.5,139.9 L391.1,140.0 L391.8,140.1 L392.4,140.2 L393.1,140.3 L393.7,140.4 L394.4,140.5 L395.0,140.6 L395.7,140.7 L396.3,140.8 L397.0,140.9 L397.6,141.0 L398.3,141.1 L398.9,141.2 L399.6,141.3 L400.2,141.4 L400.9,141.5 L401.5,141.6 L402.2,141.7 L402.8,141.8 L403.5,141.9 L404.1,142.0 L410.0,142.9" fill="none" stroke="#000" stroke-width="1.85" stroke-linecap="butt"/>
<path d="M244.2,140.8 L250.1,141.8 L250.7,141.9 L251.4,142.0 L252.0,142.1 L252.7,142.3 L253.3,142.4 L254.0,142.5 L254.6,142.6 L255.2,142.7 L255.9,142.8 L256.5,142.9 L257.2,143.1 L257.8,143.2 L258.5,143.3 L259.1,143.4 L259.7,143.5 L260.4,143.6 L261.0,143.7 L261.7,143.9 L262.3,144.0 L263.0,144.1 L263.6,144.2 L264.2,144.3 L264.9,144.4 L265.5,144.6 L266.2,144.7 L266.8,144.8 L267.4,144.9 L268.1,145.0 L268.7,145.1 L269.4,145.2 L270.0,145.4 L270.7,145.5 L271.3,145.6 L271.9,145.7 L272.6,145.8 L273.2,145.9 L273.9,146.1 L274.5,146.2 L275.2,146.3 L275.8,146.4 L276.4,146.5 L277.1,146.6 L277.7,146.8 L278.4,146.9 L279.0,147.0 L279.7,147.1 L280.3,147.2 L280.9,147.3 L281.6,147.5 L282.2,147.6 L282.9,147.7 L283.5,147.8 L284.2,147.9 L284.8,148.0 L285.4,148.1 L286.1,148.3 L286.7,148.4 L287.4,148.5 L288.0,148.6 L288.6,148.7 L289.3,148.8 L289.9,149.0 L290.6,149.1 L291.2,149.2 L291.9,149.3 L292.5,149.4 L293.1,149.5 L293.8,149.7 L294.4,149.8 L295.1,149.9 L295.7,150.0 L296.4,150.1 L297.0,150.2 L297.6,150.3 L298.3,150.5 L298.9,150.6 L299.6,150.7 L300.2,150.8 L300.9,150.9 L301.5,151.0 L302.1,151.2 L302.8,151.3 L303.4,151.4 L304.1,151.5 L304.7,151.6 L305.4,151.7 L306.0,151.8 L306.6,152.0 L307.3,152.1 L307.9,152.2 L308.6,152.3 L309.2,152.4 L309.9,152.5 L310.5,152.6 L311.1,152.8 L311.8,152.9 L312.4,153.0 L313.1,153.1 L313.7,153.2 L314.4,153.3 L315.0,153.4 L315.6,153.5 L316.3,153.7 L316.9,153.8 L317.6,153.9 L318.2,154.0 L318.9,154.1 M352.3,159.7 L353.0,159.8 L353.6,159.9 L354.3,160.0 L354.9,160.1 L355.6,160.2 L356.2,160.3 L356.9,160.4 L357.5,160.5 L358.1,160.6 L358.8,160.7 L359.4,160.8 L360.1,160.9 L360.7,160.9 L361.4,161.0 L362.0,161.1 L362.7,161.2 L363.3,161.3 L364.0,161.4 L364.6,161.5 L365.2,161.6 L365.9,161.7 L366.5,161.8 L367.2,161.9 L367.8,162.0 L368.5,162.1 L369.1,162.2 L369.8,162.3 L370.4,162.4 L371.1,162.5 L371.7,162.5 L372.4,162.6 L373.0,162.7 L373.6,162.8 L374.3,162.9 L374.9,163.0 L375.6,163.1 L376.2,163.2 L376.9,163.3 L377.5,163.4 L378.2,163.4 L378.8,163.5 L379.5,163.6 L380.1,163.7 L380.8,163.8 L381.4,163.9 L382.1,164.0 L382.7,164.0 L383.4,164.1 L384.0,164.2 L384.6,164.3 L385.3,164.4 L385.9,164.5 L386.6,164.5 L387.2,164.6 L387.9,164.7 L388.5,164.8 L389.2,164.9 L389.8,164.9 L390.5,165.0 L391.1,165.1 L391.8,165.2 L392.4,165.3 L393.1,165.3 L393.7,165.4 L394.4,165.5 L395.0,165.6 L395.7,165.7 L396.3,165.7 L397.0,165.8 L397.6,165.9 L398.3,166.0 L398.9,166.0 L399.6,166.1 L400.2,166.2 L400.9,166.2 L401.5,166.3 L402.2,166.4 L402.8,166.5 L403.5,166.5 L404.1,166.6 L410.1,167.2" fill="none" stroke="#000" stroke-width="1.85" stroke-linecap="butt"/>
<polygon fill="#808080" points="250.1,175.4 250.1,169.8 404.1,169.8 404.1,175.4"/>
</g>
<text transform="translate(347.7,27.7) rotate(27.5) translate(-9.54,4.38) scale(1.1216,1)" x="-0.00 6.81 10.21" y="0" font-size="12.24" xml:space="preserve">1.2</text>
<text transform="translate(371.2,81.3) rotate(14.1) translate(-9.54,4.38) scale(1.1216,1)" x="-0.00 6.81 10.21" y="0" font-size="12.24" xml:space="preserve">1.1</text>
<text transform="translate(330.5,101.0) rotate(13.6) translate(-9.54,4.38) scale(1.1216,1)" x="-0.00 6.81 10.21" y="0" font-size="12.24" xml:space="preserve">1.0</text>
<text transform="translate(280.0,118.2) rotate(12.4) translate(-9.54,4.38) scale(1.1216,1)" x="-0.00 6.81 10.21" y="0" font-size="12.24" xml:space="preserve">0.9</text>
<text transform="translate(336.4,155.9) rotate(9.4) translate(-9.54,4.38) scale(1.1216,1)" x="-0.00 6.81 10.21" y="0" font-size="12.24" xml:space="preserve">0.8</text>
<rect x="250.1" y="18.3" width="154.00" height="157.10" fill="none" stroke="#000" stroke-width="1.1"/>
<g clip-path="url(#cpC)">
<rect x="437.65" y="18.0" width="153.65" height="2.6" fill="url(#gC0)"/>
<rect x="437.65" y="20.0" width="153.65" height="2.6" fill="url(#gC1)"/>
<rect x="437.65" y="22.0" width="153.65" height="2.6" fill="url(#gC2)"/>
<rect x="437.65" y="24.0" width="153.65" height="2.6" fill="url(#gC3)"/>
<rect x="437.65" y="26.0" width="153.65" height="2.6" fill="url(#gC4)"/>
<rect x="437.65" y="28.0" width="153.65" height="2.6" fill="url(#gC5)"/>
<rect x="437.65" y="30.0" width="153.65" height="2.6" fill="url(#gC6)"/>
<rect x="437.65" y="32.0" width="153.65" height="2.6" fill="url(#gC7)"/>
<rect x="437.65" y="34.0" width="153.65" height="2.6" fill="url(#gC8)"/>
<rect x="437.65" y="36.0" width="153.65" height="2.6" fill="url(#gC9)"/>
<rect x="437.65" y="38.0" width="153.65" height="2.6" fill="url(#gC10)"/>
<rect x="437.65" y="40.0" width="153.65" height="2.6" fill="url(#gC11)"/>
<rect x="437.65" y="42.0" width="153.65" height="2.6" fill="url(#gC12)"/>
<rect x="437.65" y="44.0" width="153.65" height="2.6" fill="url(#gC13)"/>
<rect x="437.65" y="46.0" width="153.65" height="2.6" fill="url(#gC14)"/>
<rect x="437.65" y="48.0" width="153.65" height="2.6" fill="url(#gC15)"/>
<rect x="437.65" y="50.0" width="153.65" height="2.6" fill="url(#gC16)"/>
<rect x="437.65" y="52.0" width="153.65" height="2.6" fill="url(#gC17)"/>
<rect x="437.65" y="54.0" width="153.65" height="2.6" fill="url(#gC18)"/>
<rect x="437.65" y="56.0" width="153.65" height="2.6" fill="url(#gC19)"/>
<rect x="437.65" y="58.0" width="153.65" height="2.6" fill="url(#gC20)"/>
<rect x="437.65" y="60.0" width="153.65" height="2.6" fill="url(#gC21)"/>
<rect x="437.65" y="62.0" width="153.65" height="2.6" fill="url(#gC22)"/>
<rect x="437.65" y="64.0" width="153.65" height="2.6" fill="url(#gC23)"/>
<rect x="437.65" y="66.0" width="153.65" height="2.6" fill="url(#gC24)"/>
<rect x="437.65" y="68.0" width="153.65" height="2.6" fill="url(#gC25)"/>
<rect x="437.65" y="70.0" width="153.65" height="2.6" fill="url(#gC26)"/>
<rect x="437.65" y="72.0" width="153.65" height="2.6" fill="url(#gC27)"/>
<rect x="437.65" y="74.0" width="153.65" height="2.6" fill="url(#gC28)"/>
<rect x="437.65" y="76.0" width="153.65" height="2.6" fill="url(#gC29)"/>
<rect x="437.65" y="78.0" width="153.65" height="2.6" fill="url(#gC30)"/>
<rect x="437.65" y="80.0" width="153.65" height="2.6" fill="url(#gC31)"/>
<rect x="437.65" y="82.0" width="153.65" height="2.6" fill="url(#gC32)"/>
<rect x="437.65" y="84.0" width="153.65" height="2.6" fill="url(#gC33)"/>
<rect x="437.65" y="86.0" width="153.65" height="2.6" fill="url(#gC34)"/>
<rect x="437.65" y="88.0" width="153.65" height="2.6" fill="url(#gC35)"/>
<rect x="437.65" y="90.0" width="153.65" height="2.6" fill="url(#gC36)"/>
<rect x="437.65" y="92.0" width="153.65" height="2.6" fill="url(#gC37)"/>
<rect x="437.65" y="94.0" width="153.65" height="2.6" fill="url(#gC38)"/>
<rect x="437.65" y="96.0" width="153.65" height="2.6" fill="url(#gC39)"/>
<rect x="437.65" y="98.0" width="153.65" height="2.6" fill="url(#gC40)"/>
<rect x="437.65" y="100.0" width="153.65" height="2.6" fill="url(#gC41)"/>
<rect x="437.65" y="102.0" width="153.65" height="2.6" fill="url(#gC42)"/>
<rect x="437.65" y="104.0" width="153.65" height="2.6" fill="url(#gC43)"/>
<rect x="437.65" y="106.0" width="153.65" height="2.6" fill="url(#gC44)"/>
<rect x="437.65" y="108.0" width="153.65" height="2.6" fill="url(#gC45)"/>
<rect x="437.65" y="110.0" width="153.65" height="2.6" fill="url(#gC46)"/>
<rect x="437.65" y="112.0" width="153.65" height="2.6" fill="url(#gC47)"/>
<rect x="437.65" y="114.0" width="153.65" height="2.6" fill="url(#gC48)"/>
<rect x="437.65" y="116.0" width="153.65" height="2.6" fill="url(#gC49)"/>
<rect x="437.65" y="118.0" width="153.65" height="2.6" fill="url(#gC50)"/>
<rect x="437.65" y="120.0" width="153.65" height="2.6" fill="url(#gC51)"/>
<rect x="437.65" y="122.0" width="153.65" height="2.6" fill="url(#gC52)"/>
<rect x="437.65" y="124.0" width="153.65" height="2.6" fill="url(#gC53)"/>
<rect x="437.65" y="126.0" width="153.65" height="2.6" fill="url(#gC54)"/>
<rect x="437.65" y="128.0" width="153.65" height="2.6" fill="url(#gC55)"/>
<rect x="437.65" y="130.0" width="153.65" height="2.6" fill="url(#gC56)"/>
<rect x="437.65" y="132.0" width="153.65" height="2.6" fill="url(#gC57)"/>
<rect x="437.65" y="134.0" width="153.65" height="2.6" fill="url(#gC58)"/>
<rect x="437.65" y="136.0" width="153.65" height="2.6" fill="url(#gC59)"/>
<rect x="437.65" y="138.0" width="153.65" height="2.6" fill="url(#gC60)"/>
<rect x="437.65" y="140.0" width="153.65" height="2.6" fill="url(#gC61)"/>
<rect x="437.65" y="142.0" width="153.65" height="2.6" fill="url(#gC62)"/>
<rect x="437.65" y="144.0" width="153.65" height="2.6" fill="url(#gC63)"/>
<rect x="437.65" y="146.0" width="153.65" height="2.6" fill="url(#gC64)"/>
<rect x="437.65" y="148.0" width="153.65" height="2.6" fill="url(#gC65)"/>
<rect x="437.65" y="150.0" width="153.65" height="2.6" fill="url(#gC66)"/>
<rect x="437.65" y="152.0" width="153.65" height="2.6" fill="url(#gC67)"/>
<rect x="437.65" y="154.0" width="153.65" height="2.6" fill="url(#gC68)"/>
<rect x="437.65" y="156.0" width="153.65" height="2.6" fill="url(#gC69)"/>
<rect x="437.65" y="158.0" width="153.65" height="2.6" fill="url(#gC70)"/>
<rect x="437.65" y="160.0" width="153.65" height="2.6" fill="url(#gC71)"/>
<rect x="437.65" y="162.0" width="153.65" height="2.6" fill="url(#gC72)"/>
<rect x="437.65" y="164.0" width="153.65" height="2.6" fill="url(#gC73)"/>
<rect x="437.65" y="166.0" width="153.65" height="2.6" fill="url(#gC74)"/>
<rect x="437.65" y="168.0" width="153.65" height="2.6" fill="url(#gC75)"/>
<rect x="437.65" y="170.0" width="153.65" height="2.6" fill="url(#gC76)"/>
<rect x="437.65" y="172.0" width="153.65" height="2.6" fill="url(#gC77)"/>
<rect x="437.65" y="174.0" width="153.65" height="2.6" fill="url(#gC78)"/>
<path d="M434.0,126.4 L437.6,131.2 L437.8,131.4 L437.9,131.5 L438.0,131.7 L438.1,131.8 L438.2,132.0 L438.4,132.1 L438.5,132.3 L438.6,132.4 L438.7,132.6 L438.8,132.7 L439.0,132.9 L439.1,133.1 L439.2,133.2 L439.3,133.4 L439.4,133.5 L439.6,133.7 L439.7,133.8 L439.8,134.0 L439.9,134.1 L440.0,134.3 L440.2,134.4 L440.3,134.6 L440.4,134.7 L440.5,134.9 L440.7,135.0 L440.8,135.2 L440.9,135.3 L441.0,135.5 L441.1,135.6 L441.3,135.8 L441.4,135.9 L441.5,136.1 L441.6,136.2 L441.8,136.4 L441.9,136.5 L442.0,136.7 L442.1,136.8 L442.3,137.0 L442.4,137.1 L442.5,137.3 L442.6,137.4 L442.8,137.6 L442.9,137.7 L443.0,137.9 L443.1,138.0 L443.3,138.2 L443.4,138.3 L443.5,138.5 L443.6,138.6 L443.8,138.8 L443.9,138.9 L444.0,139.1 L444.2,139.2 L444.3,139.4 L444.4,139.5 L444.5,139.7 L444.7,139.8 L444.8,140.0 L444.9,140.1 L445.0,140.3 L445.2,140.4 L445.3,140.6 L445.4,140.7 L445.6,140.8 L445.7,141.0 L445.8,141.1 L445.9,141.3 L446.1,141.4 L446.2,141.6 L446.3,141.7 L446.5,141.9 L446.6,142.0 L446.7,142.2 L446.9,142.3 L447.0,142.4 L447.1,142.6 L447.2,142.7 L447.4,142.9 L447.5,143.0 L447.6,143.2 L447.8,143.3 L447.9,143.5 L448.0,143.6 L448.2,143.7 L448.3,143.9 L448.4,144.0 L448.6,144.2 L448.7,144.3 L448.8,144.5 L449.0,144.6 L449.1,144.7 L449.2,144.9 L449.4,145.0 L449.5,145.2 L449.6,145.3 L449.7,145.5 L449.9,145.6 L450.0,145.7 L450.2,145.9 L450.3,146.0 L450.4,146.2 L450.6,146.3 L450.7,146.5 L450.8,146.6 L451.0,146.7 L451.1,146.9 L451.2,147.0 L451.4,147.2 L451.5,147.3 L451.6,147.4 L451.8,147.6 L451.9,147.7 L452.0,147.9 L452.2,148.0 L452.3,148.1 L452.4,148.3 L452.6,148.4 L452.7,148.6 L452.8,148.7 L453.0,148.8 L453.1,149.0 L453.3,149.1 L453.4,149.3 L453.5,149.4 L453.7,149.5 L453.8,149.7 L453.9,149.8 L454.1,150.0 L454.2,150.1 L454.4,150.2 L454.5,150.4 L454.6,150.5 L454.8,150.6 L454.9,150.8 L455.0,150.9 L455.2,151.1 L455.3,151.2 L455.5,151.3 L455.6,151.5 L455.7,151.6 L455.9,151.7 L456.0,151.9 L456.1,152.0 L456.3,152.2 L456.4,152.3 L456.6,152.4 L456.7,152.6 L456.8,152.7 L457.0,152.8 L457.1,153.0 L457.3,153.1 L457.4,153.2 L457.5,153.4 L457.7,153.5 L457.8,153.7 L458.0,153.8 L458.1,153.9 L458.2,154.1 L458.4,154.2 L458.5,154.3 L458.7,154.5 L458.8,154.6 L458.9,154.7 L459.1,154.9 L459.2,155.0 L459.4,155.1 L459.5,155.3 L459.7,155.4 L459.8,155.5 L459.9,155.7 L460.1,155.8 L460.2,155.9 L460.4,156.1 L460.5,156.2 L460.6,156.3 L460.8,156.5 L460.9,156.6 L461.1,156.7 L461.2,156.9 L461.4,157.0 L461.5,157.1 L461.6,157.3 L461.8,157.4 L461.9,157.5 L462.1,157.7 L462.2,157.8 L462.4,157.9 L462.5,158.1 L462.6,158.2 L462.8,158.3 L462.9,158.5 L463.1,158.6 L463.2,158.7 L463.4,158.9 L463.5,159.0 L463.6,159.1 L463.8,159.3 L463.9,159.4 L464.1,159.5 L464.2,159.6 L464.4,159.8 L464.5,159.9 L464.7,160.0 L464.8,160.2 L464.9,160.3 L465.1,160.4 L465.2,160.6 L465.4,160.7 L465.5,160.8 L465.7,161.0 L465.8,161.1 L466.0,161.2 L466.1,161.3 L466.2,161.5 L466.4,161.6 L466.5,161.7 L466.7,161.9 L466.8,162.0 L467.0,162.1 L467.1,162.3 L467.3,162.4 L467.4,162.5 L467.6,162.6 L467.7,162.8 L467.9,162.9 L468.0,163.0 L468.1,163.2 L468.3,163.3 L468.4,163.4 L468.6,163.5 L468.7,163.7 L468.9,163.8 L469.0,163.9 L469.2,164.1 L469.3,164.2 L469.5,164.3 L469.6,164.4 L469.8,164.6 L469.9,164.7 L469.9,164.7" fill="none" stroke="#000" stroke-width="1.85" stroke-linecap="butt"/>
<path d="M434.5,85.3 L437.4,90.5 L437.6,90.9 L437.9,91.4 L438.1,91.8 L438.3,92.2 L438.5,92.6 L438.8,93.0 L439.0,93.4 L439.2,93.8 L439.5,94.2 L439.7,94.6 L440.0,95.0 L440.2,95.4 L440.4,95.8 L440.7,96.2 L440.9,96.6 L441.2,97.0 L441.4,97.4 L441.7,97.8 L441.9,98.2 L442.2,98.6 L442.4,99.0 L442.7,99.4 L442.9,99.8 M463.2,124.8 L463.6,125.1 L463.9,125.4 L464.2,125.8 L464.6,126.1 L464.9,126.4 L465.2,126.7 L465.6,127.1 L465.9,127.4 L466.2,127.7 L466.6,128.1 L466.9,128.4 L467.2,128.7 L467.6,129.0 L467.9,129.4 L468.3,129.7 L468.6,130.0 L468.9,130.3 L469.3,130.7 L469.6,131.0 L470.0,131.3 L470.3,131.6 L470.6,131.9 L471.0,132.3 L471.3,132.6 L471.7,132.9 L472.0,133.2 L472.4,133.5 L472.7,133.8 L473.1,134.2 L473.4,134.5 L473.8,134.8 L474.1,135.1 L474.5,135.4 L474.8,135.7 L475.2,136.0 L475.5,136.3 L475.9,136.7 L476.2,137.0 L476.6,137.3 L476.9,137.6 L477.3,137.9 L477.7,138.2 L478.0,138.5 L478.4,138.8 L478.7,139.1 L479.1,139.4 L479.4,139.7 L479.8,140.0 L480.2,140.3 L480.5,140.6 L480.9,140.9 L481.3,141.2 L481.6,141.5 L482.0,141.8 L482.3,142.1 L482.7,142.4 L483.1,142.7 L483.4,143.0 L483.8,143.3 L484.2,143.6 L484.5,143.9 L484.9,144.2 L485.3,144.5 L485.6,144.8 L486.0,145.1 L486.4,145.4 L486.7,145.7 L487.1,146.0 L487.5,146.3 L487.8,146.6 L488.2,146.9 L488.6,147.1 L488.9,147.4 L489.3,147.7 L489.7,148.0 L490.1,148.3 L490.4,148.6 L490.8,148.9 L491.2,149.2 L491.6,149.4 L491.9,149.7 L492.3,150.0 L492.7,150.3 L493.0,150.6 L493.4,150.9 L493.8,151.2 L494.2,151.4 L494.5,151.7 L494.9,152.0 L495.3,152.3 L495.7,152.6 L496.0,152.8 L496.4,153.1 L496.8,153.4 L497.2,153.7 L497.6,154.0 L497.9,154.2 L498.3,154.5 L498.7,154.8 L499.1,155.1 L499.4,155.4 L499.8,155.6 L500.2,155.9 L500.6,156.2 L501.0,156.5 L501.3,156.7 L501.7,157.0 L502.1,157.3 L502.5,157.6 L502.9,157.8 L503.2,158.1 L503.6,158.4 L504.0,158.6 L504.4,158.9 L504.8,159.2 L505.1,159.5 L505.5,159.7 L505.9,160.0 L506.3,160.3 L506.7,160.5 L507.0,160.8 L507.4,161.1 L507.8,161.4 L508.2,161.6 L508.6,161.9 L508.9,162.2 L509.3,162.4 L509.7,162.7 L510.1,163.0 L510.5,163.2 L510.8,163.5 L511.2,163.8 L511.6,164.0 L512.0,164.3 L512.4,164.5 L512.7,164.8 L513.1,165.1 L513.5,165.3 L513.9,165.6 L514.3,165.9 L514.7,166.1 L515.0,166.4 L515.4,166.7 L515.8,166.9 L516.2,167.2 L516.6,167.4 L516.9,167.7 L516.9,167.7" fill="none" stroke="#000" stroke-width="1.85" stroke-linecap="butt"/>
<path d="M434.2,51.0 L437.5,56.0 L437.9,56.6 L438.3,57.2 L438.7,57.8 L439.1,58.4 L439.5,59.0 L439.9,59.6 L440.3,60.2 L440.7,60.8 L441.1,61.4 L441.5,62.0 L441.9,62.6 L442.3,63.2 L442.7,63.8 L443.1,64.4 L443.6,65.0 L444.0,65.6 L444.4,66.1 L444.8,66.7 L445.2,67.3 L445.6,67.9 L446.1,68.5 L446.5,69.1 L446.9,69.7 L447.3,70.2 L447.8,70.8 L448.2,71.4 L448.6,72.0 L449.1,72.5 L449.5,73.1 L449.9,73.7 L450.4,74.3 L450.8,74.8 L451.2,75.4 L451.7,76.0 L452.1,76.5 L452.6,77.1 L453.0,77.7 L453.5,78.3 L453.9,78.8 L454.4,79.4 L454.8,79.9 L455.3,80.5 L455.7,81.1 L456.2,81.6 L456.6,82.2 L457.1,82.7 L457.5,83.3 L458.0,83.9 L458.5,84.4 L458.9,85.0 L459.4,85.5 L459.8,86.1 L460.3,86.6 L460.8,87.2 L461.2,87.7 L461.7,88.3 L462.2,88.8 L462.7,89.3 L463.1,89.9 L463.6,90.4 L464.1,91.0 L464.6,91.5 L465.0,92.1 L465.5,92.6 L466.0,93.1 L466.5,93.7 L467.0,94.2 L467.5,94.7 L467.9,95.3 L468.4,95.8 L468.9,96.3 L469.4,96.9 L469.9,97.4 L470.4,97.9 L470.9,98.4 L471.4,99.0 L471.9,99.5 L472.4,100.0 L472.9,100.5 L473.4,101.1 L473.9,101.6 L474.4,102.1 L474.9,102.6 L475.4,103.1 L475.9,103.6 L476.4,104.1 L476.9,104.7 L477.4,105.2 L477.9,105.7 L478.5,106.2 L479.0,106.7 L479.5,107.2 L480.0,107.7 L480.5,108.2 L481.0,108.7 L481.6,109.2 L482.1,109.7 L482.6,110.2 L483.1,110.7 L483.6,111.2 L484.2,111.7 L484.7,112.2 L485.2,112.7 L485.7,113.2 L486.3,113.7 L486.8,114.2 L487.3,114.7 L487.9,115.2 L488.4,115.6 L488.9,116.1 L489.5,116.6 L490.0,117.1 L490.6,117.6 L491.1,118.1 L491.6,118.5 L492.2,119.0 L492.7,119.5 L493.3,120.0 L493.8,120.4 L494.3,120.9 L494.9,121.4 L495.4,121.9 L496.0,122.3 L496.5,122.8 L497.1,123.3 L497.6,123.7 L498.2,124.2 L498.8,124.7 L499.3,125.1 L499.9,125.6 L500.4,126.1 L501.0,126.5 L501.5,127.0 L502.1,127.4 L502.7,127.9 L503.2,128.3 L503.8,128.8 L504.3,129.2 L504.9,129.7 L505.5,130.1 M532.5,149.4 L533.1,149.8 L533.7,150.2 L534.3,150.6 L534.9,151.0 L535.6,151.4 L536.2,151.8 L536.8,152.1 L537.4,152.5 L538.0,152.9 L538.6,153.3 L539.2,153.7 L539.8,154.0 L540.5,154.4 L541.1,154.8 L541.7,155.1 L542.3,155.5 L542.9,155.9 L543.6,156.3 L544.2,156.6 L544.8,157.0 L545.4,157.3 L546.0,157.7 L546.7,158.1 L547.3,158.4 L547.9,158.8 L548.5,159.1 L549.2,159.5 L549.8,159.8 L550.4,160.2 L551.1,160.5 L551.7,160.9 L552.3,161.2 L552.9,161.6 L553.6,161.9 L554.2,162.3 L554.8,162.6 L555.5,163.0 L556.1,163.3 L556.7,163.6 L557.4,164.0 L558.0,164.3 L558.7,164.6 L559.3,165.0 L559.9,165.3 L560.6,165.6 L561.2,166.0 L561.8,166.3 L562.5,166.6 L563.1,166.9 L563.8,167.3 L564.4,167.6 L565.1,167.9 L565.7,168.2 L565.7,168.2" fill="none" stroke="#000" stroke-width="1.85" stroke-linecap="butt"/>
<path d="M442.9,12.7 L445.2,18.3 L445.5,19.1 L445.8,19.9 L446.1,20.7 L446.5,21.5 L446.8,22.2 L447.1,23.0 L447.5,23.8 L447.8,24.6 L448.2,25.4 L448.5,26.2 M463.1,54.5 L463.6,55.2 L464.0,55.9 L464.5,56.7 L464.9,57.4 L465.4,58.1 L465.9,58.8 L466.3,59.5 L466.8,60.2 L467.3,60.9 L467.8,61.7 L468.2,62.4 L468.7,63.1 L469.2,63.8 L469.7,64.5 L470.2,65.1 L470.7,65.8 L471.2,66.5 L471.7,67.2 L472.2,67.9 L472.8,68.6 L473.3,69.2 L473.8,69.9 L474.3,70.6 L474.9,71.2 L475.4,71.9 L475.9,72.6 L476.5,73.2 L477.0,73.9 L477.6,74.5 L478.1,75.2 L478.7,75.8 L479.2,76.4 L479.8,77.1 L480.4,77.7 L480.9,78.4 L481.5,79.0 L482.1,79.6 L482.7,80.2 L483.2,80.9 L483.8,81.5 L484.4,82.1 L485.0,82.7 L485.6,83.3 L486.2,83.9 L486.8,84.5 L487.4,85.1 L488.0,85.7 L488.6,86.3 L489.2,86.9 L489.8,87.5 L490.4,88.1 L491.0,88.7 L491.7,89.3 L492.3,89.8 L492.9,90.4 L493.5,91.0 L494.2,91.6 L494.8,92.1 L495.5,92.7 L496.1,93.3 L496.7,93.8 L497.4,94.4 L498.0,94.9 L498.7,95.5 L499.3,96.0 L500.0,96.6 L500.6,97.1 L501.3,97.7 L502.0,98.2 L502.6,98.8 L503.3,99.3 L504.0,99.8 L504.6,100.4 L505.3,100.9 L506.0,101.4 L506.6,101.9 L507.3,102.5 L508.0,103.0 L508.7,103.5 L509.4,104.0 L510.1,104.5 L510.7,105.1 L511.4,105.6 L512.1,106.1 L512.8,106.6 L513.5,107.1 L514.2,107.6 L514.9,108.1 L515.6,108.6 L516.3,109.1 L517.0,109.6 L517.7,110.1 L518.4,110.6 L519.1,111.1 L519.8,111.6 L520.5,112.1 L521.2,112.6 L521.9,113.1 L522.6,113.5 L523.3,114.0 L524.0,114.5 L524.7,115.0 L525.5,115.5 L526.2,116.0 L526.9,116.5 L527.6,116.9 L528.3,117.4 L529.0,117.9 L529.7,118.4 L530.4,118.9 L531.2,119.3 L531.9,119.8 L532.6,120.3 L533.3,120.8 L534.0,121.2 L534.7,121.7 L535.4,122.2 L536.2,122.7 L536.9,123.1 L537.6,123.6 L538.3,124.1 L539.0,124.6 L539.7,125.0 L540.5,125.5 L541.2,126.0 L541.9,126.5 L542.6,126.9 L543.3,127.4 L544.0,127.9 L544.8,128.3 L545.5,128.8 L546.2,129.2 L546.9,129.7 L547.6,130.2 L548.4,130.6 L549.1,131.1 L549.8,131.5 L550.5,132.0 L551.3,132.5 L552.0,132.9 L552.7,133.4 L553.4,133.8 L554.2,134.3 L554.9,134.7 L555.6,135.1 L556.4,135.6 L557.1,136.0 L557.8,136.5 L558.6,136.9 L559.3,137.4 L560.0,137.8 L560.8,138.2 L561.5,138.6 L562.2,139.1 L563.0,139.5 L563.7,139.9 L564.4,140.4 L565.2,140.8 L565.9,141.2 L566.7,141.6 L567.4,142.0 L568.2,142.4 L568.9,142.8 L569.7,143.3 L570.4,143.7 L571.2,144.1 L571.9,144.5 L572.7,144.9 L573.4,145.3 L574.2,145.7 L574.9,146.0 L575.7,146.4 L576.5,146.8 L577.2,147.2 L578.0,147.6 L578.7,148.0 L579.5,148.3 L580.3,148.7 L581.0,149.1 L581.8,149.4 L582.6,149.8 L583.4,150.2 L584.1,150.5 L584.9,150.9 L585.7,151.2 L586.5,151.6 L587.2,151.9 L588.0,152.2 L588.8,152.6 L589.6,152.9 L590.4,153.3 L591.2,153.6 L596.7,155.9" fill="none" stroke="#000" stroke-width="1.85" stroke-linecap="butt"/>
<path d="M469.2,12.8 L471.8,18.2 L472.1,18.9 L472.4,19.5 L472.7,20.2 L473.0,20.8 L473.3,21.4 L473.6,22.0 L473.9,22.7 L474.2,23.3 L474.5,23.9 L474.9,24.5 L475.2,25.2 L475.5,25.8 L475.8,26.4 L476.2,27.0 L476.5,27.6 L476.8,28.2 L477.2,28.8 L477.5,29.4 L477.8,30.0 L478.2,30.6 L478.5,31.2 L478.9,31.8 L479.2,32.4 L479.6,33.0 L479.9,33.6 L480.3,34.2 L480.7,34.8 L481.0,35.4 L481.4,36.0 L481.8,36.6 L482.1,37.1 L482.5,37.7 L482.9,38.3 L483.3,38.9 L483.6,39.4 L484.0,40.0 L484.4,40.6 L484.8,41.1 L485.2,41.7 L485.6,42.3 L485.9,42.8 L486.3,43.4 L486.7,44.0 L487.1,44.5 L487.5,45.1 L487.9,45.6 L488.3,46.2 L488.7,46.7 L489.2,47.3 L489.6,47.8 L490.0,48.4 L490.4,48.9 L490.8,49.5 L491.2,50.0 L491.6,50.5 L492.1,51.1 L492.5,51.6 L492.9,52.1 L493.4,52.7 L493.8,53.2 L494.2,53.7 L494.6,54.2 L495.1,54.8 L495.5,55.3 L496.0,55.8 L496.4,56.3 L496.8,56.9 L497.3,57.4 L497.7,57.9 L498.2,58.4 L498.6,58.9 L499.1,59.4 L499.5,59.9 L500.0,60.4 L500.5,60.9 L500.9,61.4 L501.4,61.9 L501.8,62.4 L502.3,62.9 L502.8,63.4 L503.2,63.9 L503.7,64.4 L504.2,64.9 L504.7,65.4 L505.1,65.9 L505.6,66.4 L506.1,66.9 L506.6,67.3 L507.1,67.8 L507.5,68.3 L508.0,68.8 L508.5,69.3 L509.0,69.7 L509.5,70.2 L510.0,70.7 L510.5,71.2 L511.0,71.6 L511.5,72.1 L512.0,72.6 L512.5,73.0 L513.0,73.5 L513.5,74.0 L514.0,74.4 L514.5,74.9 L515.0,75.3 L515.5,75.8 L516.0,76.3 L516.5,76.7 L517.0,77.2 L517.5,77.6 L518.0,78.1 L518.6,78.5 L519.1,79.0 L519.6,79.4 L520.1,79.8 L520.6,80.3 L521.2,80.7 L521.7,81.2 L522.2,81.6 L522.7,82.0 L523.3,82.5 L523.8,82.9 L524.3,83.4 L524.9,83.8 L525.4,84.2 L525.9,84.6 L526.5,85.1 L527.0,85.5 L527.5,85.9 L528.1,86.3 L528.6,86.8 L529.1,87.2 L529.7,87.6 L530.2,88.0 L530.8,88.4 L531.3,88.9 L531.9,89.3 L532.4,89.7 L533.0,90.1 L533.5,90.5 L534.1,90.9 L534.6,91.3 L535.2,91.7 L535.7,92.1 M563.9,110.6 L564.5,111.0 L565.1,111.3 L565.7,111.7 L566.3,112.0 L566.9,112.4 L567.4,112.7 L568.0,113.1 L568.6,113.4 L569.2,113.7 L569.8,114.1 L570.4,114.4 L571.0,114.8 L571.6,115.1 L572.2,115.4 L572.8,115.8 L573.4,116.1 L574.0,116.5 L574.6,116.8 L575.2,117.1 L575.8,117.5 L576.4,117.8 L577.0,118.1 L577.6,118.4 L578.2,118.8 L578.8,119.1 L579.4,119.4 L580.0,119.8 L580.6,120.1 L581.2,120.4 L581.8,120.7 L582.4,121.1 L583.0,121.4 L583.6,121.7 L584.2,122.0 L584.8,122.3 L585.4,122.7 L586.0,123.0 L586.6,123.3 L587.2,123.6 L587.8,123.9 L588.4,124.3 L589.0,124.6 L589.6,124.9 L590.2,125.2 L590.8,125.5 L591.4,125.8 L596.7,128.6" fill="none" stroke="#000" stroke-width="1.85" stroke-linecap="butt"/>
<path d="M501.3,13.5 L504.7,18.4 L505.0,18.8 L505.2,19.2 L505.5,19.6 L505.8,20.0 L506.1,20.4 L506.4,20.8 L506.6,21.2 L506.9,21.6 L507.2,22.0 L507.5,22.4 L507.8,22.8 L508.1,23.2 L508.4,23.6 L508.7,24.0 M528.9,48.9 L529.3,49.2 L529.6,49.6 L529.9,50.0 L530.3,50.3 L530.6,50.7 L530.9,51.0 L531.3,51.4 L531.6,51.8 L532.0,52.1 L532.3,52.5 L532.7,52.8 L533.0,53.2 L533.3,53.5 L533.7,53.9 L534.0,54.2 L534.4,54.6 L534.7,55.0 L535.1,55.3 L535.4,55.7 L535.8,56.0 L536.1,56.4 L536.5,56.7 L536.8,57.1 L537.2,57.4 L537.5,57.8 L537.9,58.1 L538.2,58.4 L538.6,58.8 L538.9,59.1 L539.3,59.5 L539.6,59.8 L540.0,60.2 L540.3,60.5 L540.7,60.8 L541.1,61.2 L541.4,61.5 L541.8,61.9 L542.1,62.2 L542.5,62.5 L542.9,62.9 L543.2,63.2 L543.6,63.5 L544.0,63.9 L544.3,64.2 L544.7,64.5 L545.0,64.9 L545.4,65.2 L545.8,65.5 L546.1,65.9 L546.5,66.2 L546.9,66.5 L547.3,66.8 L547.6,67.2 L548.0,67.5 L548.4,67.8 L548.7,68.1 L549.1,68.5 L549.5,68.8 L549.9,69.1 L550.2,69.4 L550.6,69.7 L551.0,70.1 L551.4,70.4 L551.8,70.7 L552.1,71.0 L552.5,71.3 L552.9,71.6 L553.3,71.9 L553.7,72.3 L554.0,72.6 L554.4,72.9 L554.8,73.2 L555.2,73.5 L555.6,73.8 L556.0,74.1 L556.3,74.4 L556.7,74.7 L557.1,75.0 L557.5,75.3 L557.9,75.6 L558.3,75.9 L558.7,76.2 L559.1,76.5 L559.5,76.8 L559.9,77.1 L560.3,77.4 L560.6,77.7 L561.0,78.0 L561.4,78.3 L561.8,78.6 L562.2,78.9 L562.6,79.2 L563.0,79.5 L563.4,79.8 L563.8,80.0 L564.2,80.3 L564.6,80.6 L565.0,80.9 L565.4,81.2 L565.8,81.5 L566.2,81.8 L566.6,82.0 L567.0,82.3 L567.5,82.6 L567.9,82.9 L568.3,83.1 L568.7,83.4 L569.1,83.7 L569.5,84.0 L569.9,84.2 L570.3,84.5 L570.7,84.8 L571.1,85.1 L571.6,85.3 L572.0,85.6 L572.4,85.9 L572.8,86.1 L573.2,86.4 L573.6,86.7 L574.0,86.9 L574.5,87.2 L574.9,87.4 L575.3,87.7 L575.7,88.0 L576.1,88.2 L576.6,88.5 L577.0,88.7 L577.4,89.0 L577.8,89.2 L578.3,89.5 L578.7,89.7 L579.1,90.0 L579.5,90.2 L580.0,90.5 L580.4,90.7 L580.8,91.0 L581.2,91.2 L581.7,91.5 L582.1,91.7 L582.5,91.9 L583.0,92.2 L583.4,92.4 L583.8,92.6 L584.3,92.9 L584.7,93.1 L585.1,93.4 L585.6,93.6 L586.0,93.8 L586.5,94.0 L586.9,94.3 L587.3,94.5 L587.8,94.7 L588.2,95.0 L588.6,95.2 L589.1,95.4 L589.5,95.6 L590.0,95.8 L590.4,96.1 L590.9,96.3 L591.3,96.5 L596.7,99.1" fill="none" stroke="#000" stroke-width="1.85" stroke-linecap="butt"/>
<path d="M544.2,14.5 L548.8,18.4 L549.0,18.6 L549.2,18.7 L549.3,18.9 L549.5,19.0 L549.7,19.2 L549.9,19.3 L550.1,19.5 L550.3,19.7 L550.4,19.8 L550.6,20.0 L550.8,20.1 L551.0,20.3 L551.2,20.5 L551.3,20.6 L551.5,20.8 L551.7,20.9 L551.9,21.1 L552.0,21.3 L552.2,21.4 L552.4,21.6 L552.6,21.8 L552.8,21.9 L552.9,22.1 L553.1,22.2 L553.3,22.4 L553.5,22.6 M577.0,45.7 L577.1,45.8 L577.3,46.0 L577.5,46.2 L577.7,46.3 L577.8,46.5 L578.0,46.6 L578.2,46.8 L578.4,47.0 L578.6,47.1 L578.7,47.3 L578.9,47.4 L579.1,47.6 L579.3,47.8 L579.5,47.9 L579.6,48.1 L579.8,48.2 L580.0,48.4 L580.2,48.5 L580.4,48.7 L580.5,48.9 L580.7,49.0 L580.9,49.2 L581.1,49.3 L581.3,49.5 L581.5,49.6 L581.6,49.8 L581.8,49.9 L582.0,50.1 L582.2,50.2 L582.4,50.4 L582.6,50.6 L582.8,50.7 L582.9,50.9 L583.1,51.0 L583.3,51.2 L583.5,51.3 L583.7,51.5 L583.9,51.6 L584.1,51.8 L584.3,51.9 L584.4,52.1 L584.6,52.2 L584.8,52.4 L585.0,52.5 L585.2,52.7 L585.4,52.8 L585.6,52.9 L585.8,53.1 L586.0,53.2 L586.2,53.4 L586.4,53.5 L586.5,53.7 L586.7,53.8 L586.9,54.0 L587.1,54.1 L587.3,54.2 L587.5,54.4 L587.7,54.5 L587.9,54.7 L588.1,54.8 L588.3,55.0 L588.5,55.1 L588.7,55.2 L588.9,55.4 L589.1,55.5 L589.3,55.6 L589.5,55.8 L589.7,55.9 L589.9,56.1 L590.1,56.2 L590.3,56.3 L590.5,56.5 L590.7,56.6 L590.9,56.7 L591.1,56.9 L591.3,57.0 L596.3,60.3" fill="none" stroke="#000" stroke-width="1.85" stroke-linecap="butt"/>
<polygon fill="#808080" points="437.6,175.4 437.6,166.3 509.4,166.3 509.4,169.8 591.3,169.8 591.3,175.4"/>
</g>
<text transform="translate(457.7,39.5) rotate(62.8) translate(-9.54,4.38) scale(1.1216,1)" x="-0.00 6.81 10.21" y="0" font-size="12.24" xml:space="preserve">0.8</text>
<text transform="translate(520.2,34.8) rotate(50.9) translate(-9.54,4.38) scale(1.1216,1)" x="-0.00 6.81 10.21" y="0" font-size="12.24" xml:space="preserve">1.0</text>
<text transform="translate(566.2,32.8) rotate(45.4) translate(-9.54,4.38) scale(1.1216,1)" x="-0.00 6.81 10.21" y="0" font-size="12.24" xml:space="preserve">1.1</text>
<text transform="translate(454.5,111.5) rotate(50.6) translate(-9.54,4.38) scale(1.1216,1)" x="-0.00 6.81 10.21" y="0" font-size="12.24" xml:space="preserve">0.6</text>
<text transform="translate(550.7,101.3) rotate(33.0) translate(-9.54,4.38) scale(1.1216,1)" x="-0.00 6.81 10.21" y="0" font-size="12.24" xml:space="preserve">0.9</text>
<text transform="translate(519.6,139.3) rotate(35.5) translate(-9.54,4.38) scale(1.1216,1)" x="-0.00 6.81 10.21" y="0" font-size="12.24" xml:space="preserve">0.7</text>
<rect x="437.65" y="18.3" width="153.65" height="157.10" fill="none" stroke="#000" stroke-width="1.1"/>
<g clip-path="url(#cpD)">
<rect x="51.3" y="222.0" width="153.30" height="2.6" fill="url(#gD0)"/>
<rect x="51.3" y="224.0" width="153.30" height="2.6" fill="url(#gD1)"/>
<rect x="51.3" y="226.0" width="153.30" height="2.6" fill="url(#gD2)"/>
<rect x="51.3" y="228.0" width="153.30" height="2.6" fill="url(#gD3)"/>
<rect x="51.3" y="230.0" width="153.30" height="2.6" fill="url(#gD4)"/>
<rect x="51.3" y="232.0" width="153.30" height="2.6" fill="url(#gD5)"/>
<rect x="51.3" y="234.0" width="153.30" height="2.6" fill="url(#gD6)"/>
<rect x="51.3" y="236.0" width="153.30" height="2.6" fill="url(#gD7)"/>
<rect x="51.3" y="238.0" width="153.30" height="2.6" fill="url(#gD8)"/>
<rect x="51.3" y="240.0" width="153.30" height="2.6" fill="url(#gD9)"/>
<rect x="51.3" y="242.0" width="153.30" height="2.6" fill="url(#gD10)"/>
<rect x="51.3" y="244.0" width="153.30" height="2.6" fill="url(#gD11)"/>
<rect x="51.3" y="246.0" width="153.30" height="2.6" fill="url(#gD12)"/>
<rect x="51.3" y="248.0" width="153.30" height="2.6" fill="url(#gD13)"/>
<rect x="51.3" y="250.0" width="153.30" height="2.6" fill="url(#gD14)"/>
<rect x="51.3" y="252.0" width="153.30" height="2.6" fill="url(#gD15)"/>
<rect x="51.3" y="254.0" width="153.30" height="2.6" fill="url(#gD16)"/>
<rect x="51.3" y="256.0" width="153.30" height="2.6" fill="url(#gD17)"/>
<rect x="51.3" y="258.0" width="153.30" height="2.6" fill="url(#gD18)"/>
<rect x="51.3" y="260.0" width="153.30" height="2.6" fill="url(#gD19)"/>
<rect x="51.3" y="262.0" width="153.30" height="2.6" fill="url(#gD20)"/>
<rect x="51.3" y="264.0" width="153.30" height="2.6" fill="url(#gD21)"/>
<rect x="51.3" y="266.0" width="153.30" height="2.6" fill="url(#gD22)"/>
<rect x="51.3" y="268.0" width="153.30" height="2.6" fill="url(#gD23)"/>
<rect x="51.3" y="270.0" width="153.30" height="2.6" fill="url(#gD24)"/>
<rect x="51.3" y="272.0" width="153.30" height="2.6" fill="url(#gD25)"/>
<rect x="51.3" y="274.0" width="153.30" height="2.6" fill="url(#gD26)"/>
<rect x="51.3" y="276.0" width="153.30" height="2.6" fill="url(#gD27)"/>
<rect x="51.3" y="278.0" width="153.30" height="2.6" fill="url(#gD28)"/>
<rect x="51.3" y="280.0" width="153.30" height="2.6" fill="url(#gD29)"/>
<rect x="51.3" y="282.0" width="153.30" height="2.6" fill="url(#gD30)"/>
<rect x="51.3" y="284.0" width="153.30" height="2.6" fill="url(#gD31)"/>
<rect x="51.3" y="286.0" width="153.30" height="2.6" fill="url(#gD32)"/>
<rect x="51.3" y="288.0" width="153.30" height="2.6" fill="url(#gD33)"/>
<rect x="51.3" y="290.0" width="153.30" height="2.6" fill="url(#gD34)"/>
<rect x="51.3" y="292.0" width="153.30" height="2.6" fill="url(#gD35)"/>
<rect x="51.3" y="294.0" width="153.30" height="2.6" fill="url(#gD36)"/>
<rect x="51.3" y="296.0" width="153.30" height="2.6" fill="url(#gD37)"/>
<rect x="51.3" y="298.0" width="153.30" height="2.6" fill="url(#gD38)"/>
<rect x="51.3" y="300.0" width="153.30" height="2.6" fill="url(#gD39)"/>
<rect x="51.3" y="302.0" width="153.30" height="2.6" fill="url(#gD40)"/>
<rect x="51.3" y="304.0" width="153.30" height="2.6" fill="url(#gD41)"/>
<rect x="51.3" y="306.0" width="153.30" height="2.6" fill="url(#gD42)"/>
<rect x="51.3" y="308.0" width="153.30" height="2.6" fill="url(#gD43)"/>
<rect x="51.3" y="310.0" width="153.30" height="2.6" fill="url(#gD44)"/>
<rect x="51.3" y="312.0" width="153.30" height="2.6" fill="url(#gD45)"/>
<rect x="51.3" y="314.0" width="153.30" height="2.6" fill="url(#gD46)"/>
<rect x="51.3" y="316.0" width="153.30" height="2.6" fill="url(#gD47)"/>
<rect x="51.3" y="318.0" width="153.30" height="2.6" fill="url(#gD48)"/>
<rect x="51.3" y="320.0" width="153.30" height="2.6" fill="url(#gD49)"/>
<rect x="51.3" y="322.0" width="153.30" height="2.6" fill="url(#gD50)"/>
<rect x="51.3" y="324.0" width="153.30" height="2.6" fill="url(#gD51)"/>
<rect x="51.3" y="326.0" width="153.30" height="2.6" fill="url(#gD52)"/>
<rect x="51.3" y="328.0" width="153.30" height="2.6" fill="url(#gD53)"/>
<rect x="51.3" y="330.0" width="153.30" height="2.6" fill="url(#gD54)"/>
<rect x="51.3" y="332.0" width="153.30" height="2.6" fill="url(#gD55)"/>
<rect x="51.3" y="334.0" width="153.30" height="2.6" fill="url(#gD56)"/>
<rect x="51.3" y="336.0" width="153.30" height="2.6" fill="url(#gD57)"/>
<rect x="51.3" y="338.0" width="153.30" height="2.6" fill="url(#gD58)"/>
<rect x="51.3" y="340.0" width="153.30" height="2.6" fill="url(#gD59)"/>
<rect x="51.3" y="342.0" width="153.30" height="2.6" fill="url(#gD60)"/>
<rect x="51.3" y="344.0" width="153.30" height="2.6" fill="url(#gD61)"/>
<rect x="51.3" y="346.0" width="153.30" height="2.6" fill="url(#gD62)"/>
<rect x="51.3" y="348.0" width="153.30" height="2.6" fill="url(#gD63)"/>
<rect x="51.3" y="350.0" width="153.30" height="2.6" fill="url(#gD64)"/>
<rect x="51.3" y="352.0" width="153.30" height="2.6" fill="url(#gD65)"/>
<rect x="51.3" y="354.0" width="153.30" height="2.6" fill="url(#gD66)"/>
<rect x="51.3" y="356.0" width="153.30" height="2.6" fill="url(#gD67)"/>
<rect x="51.3" y="358.0" width="153.30" height="2.6" fill="url(#gD68)"/>
<rect x="51.3" y="360.0" width="153.30" height="2.6" fill="url(#gD69)"/>
<rect x="51.3" y="362.0" width="153.30" height="2.6" fill="url(#gD70)"/>
<rect x="51.3" y="364.0" width="153.30" height="2.6" fill="url(#gD71)"/>
<rect x="51.3" y="366.0" width="153.30" height="2.6" fill="url(#gD72)"/>
<rect x="51.3" y="368.0" width="153.30" height="2.6" fill="url(#gD73)"/>
<rect x="51.3" y="370.0" width="153.30" height="2.6" fill="url(#gD74)"/>
<rect x="51.3" y="372.0" width="153.30" height="2.6" fill="url(#gD75)"/>
<rect x="51.3" y="374.0" width="153.30" height="2.6" fill="url(#gD76)"/>
<rect x="51.3" y="376.0" width="153.30" height="2.6" fill="url(#gD77)"/>
<rect x="51.3" y="378.0" width="153.30" height="2.6" fill="url(#gD78)"/>
<path d="M71.1,216.9 L68.5,222.4 L68.4,222.5 L68.4,222.6 L68.3,222.7 L68.3,222.8 L68.2,222.9 L68.2,223.1 L68.1,223.2 L68.0,223.3 L68.0,223.4 L67.9,223.5 L67.9,223.6 L67.8,223.8 L67.7,223.9 L67.7,224.0 L67.6,224.1 L67.6,224.2 L67.5,224.4 L67.4,224.5 L67.4,224.6 L67.3,224.7 L67.3,224.8 L67.2,224.9 L67.1,225.1 L67.1,225.2 L67.0,225.3 L67.0,225.4 L66.9,225.5 L66.8,225.6 L66.8,225.8 L66.7,225.9 L66.7,226.0 L66.6,226.1 L66.5,226.2 L66.5,226.3 L66.4,226.5 L66.4,226.6 L66.3,226.7 L66.2,226.8 L66.2,226.9 L66.1,227.0 L66.0,227.1 L66.0,227.3 L65.9,227.4 L65.9,227.5 L65.8,227.6 L65.7,227.7 L65.7,227.8 L65.6,227.9 L65.5,228.1 L65.5,228.2 L65.4,228.3 L65.4,228.4 L65.3,228.5 L65.2,228.6 L65.2,228.8 L65.1,228.9 L65.0,229.0 L65.0,229.1 L64.9,229.2 L64.8,229.3 L64.8,229.4 L64.7,229.5 L64.6,229.7 L64.6,229.8 L64.5,229.9 L64.4,230.0 L64.4,230.1 L64.3,230.2 L64.3,230.3 L64.2,230.5 L64.1,230.6 L64.1,230.7 L64.0,230.8 L63.9,230.9 L63.9,231.0 L63.8,231.1 L63.7,231.2 L63.7,231.4 L63.6,231.5 L63.5,231.6 L63.5,231.7 L63.4,231.8 L63.3,231.9 L63.3,232.0 L63.2,232.1 L63.1,232.3 L63.0,232.4 L63.0,232.5 L62.9,232.6 L62.8,232.7 L62.8,232.8 L62.7,232.9 L62.6,233.0 L62.6,233.1 L62.5,233.3 L62.4,233.4 L62.4,233.5 L62.3,233.6 L62.2,233.7 L62.2,233.8 L62.1,233.9 L62.0,234.0 L61.9,234.1 L61.9,234.2 L61.8,234.4 L61.7,234.5 L61.7,234.6 L61.6,234.7 L61.5,234.8 L61.5,234.9 L61.4,235.0 L61.3,235.1 L61.2,235.2 L61.2,235.3 L61.1,235.5 L61.0,235.6 L61.0,235.7 L60.9,235.8 L60.8,235.9 L60.7,236.0 L60.7,236.1 L60.6,236.2 L60.5,236.3 L60.4,236.4 L60.4,236.5 L60.3,236.7 L60.2,236.8 L60.2,236.9 L60.1,237.0 L60.0,237.1 L59.9,237.2 L59.9,237.3 L59.8,237.4 L59.7,237.5 L59.6,237.6 L59.6,237.7 L59.5,237.8 L59.4,238.0 L59.3,238.1 L59.3,238.2 L59.2,238.3 L59.1,238.4 L59.0,238.5 L59.0,238.6 L58.9,238.7 L58.8,238.8 L58.7,238.9 L58.7,239.0 L58.6,239.1 L58.5,239.2 L58.4,239.3 L58.4,239.4 L58.3,239.6 L58.2,239.7 L58.1,239.8 L58.1,239.9 L58.0,240.0 L57.9,240.1 L57.8,240.2 L57.8,240.3 L57.7,240.4 L57.6,240.5 L57.5,240.6 L57.5,240.7 L57.4,240.8 L57.3,240.9 L57.2,241.0 L57.1,241.1 L57.1,241.2 L57.0,241.4 L56.9,241.5 L56.8,241.6 L56.7,241.7 L56.7,241.8 L56.6,241.9 L56.5,242.0 L56.4,242.1 L56.4,242.2 L56.3,242.3 L56.2,242.4 L56.1,242.5 L56.0,242.6 L56.0,242.7 L55.9,242.8 L55.8,242.9 L55.7,243.0 L55.6,243.1 L55.6,243.2 L55.5,243.3 L55.4,243.4 L55.3,243.5 L55.2,243.6 L55.2,243.7 L55.1,243.8 L55.0,243.9 L54.9,244.1 L54.8,244.2 L54.7,244.3 L54.7,244.4 L54.6,244.5 L54.5,244.6 L54.4,244.7 L54.3,244.8 L54.3,244.9 L54.2,245.0 L54.1,245.1 L54.0,245.2 L53.9,245.3 L53.8,245.4 L53.8,245.5 L53.7,245.6 L53.6,245.7 L53.5,245.8 L53.4,245.9 L53.3,246.0 L53.3,246.1 L53.2,246.2 L53.1,246.3 L53.0,246.4 L52.9,246.5 L52.8,246.6 L52.8,246.7 L52.7,246.8 L52.6,246.9 L52.5,247.0 L52.4,247.1 L52.3,247.2 L52.2,247.3 L52.2,247.4 L52.1,247.5 L52.0,247.6 L51.9,247.7 L51.8,247.8 L51.7,247.9 L51.6,248.0 L51.6,248.1 L51.5,248.2 L51.4,248.3 L51.3,248.4 L47.4,252.9" fill="none" stroke="#000" stroke-width="1.85" stroke-linecap="butt"/>
<path d="M97.1,216.9 L94.7,222.3 L94.5,222.6 L94.4,222.9 L94.3,223.2 L94.2,223.5 L94.0,223.8 L93.9,224.0 L93.8,224.3 L93.6,224.6 L93.5,224.9 L93.4,225.2 L93.3,225.4 L93.1,225.7 L93.0,226.0 L92.9,226.3 L92.7,226.6 L92.6,226.9 L92.5,227.1 L92.3,227.4 L92.2,227.7 L92.1,228.0 L91.9,228.3 L91.8,228.5 L91.7,228.8 L91.5,229.1 L91.4,229.4 L91.3,229.7 L91.1,229.9 L91.0,230.2 L90.9,230.5 L90.7,230.8 L90.6,231.1 L90.5,231.4 L90.3,231.6 L90.2,231.9 L90.1,232.2 L89.9,232.5 L89.8,232.8 L89.6,233.0 L89.5,233.3 L89.4,233.6 L89.2,233.9 L89.1,234.2 L89.0,234.4 L88.8,234.7 L88.7,235.0 L88.5,235.3 L88.4,235.6 L88.2,235.8 L88.1,236.1 L88.0,236.4 L87.8,236.7 L87.7,236.9 L87.5,237.2 L87.4,237.5 L87.2,237.8 L87.1,238.1 L87.0,238.3 L86.8,238.6 L86.7,238.9 L86.5,239.2 L86.4,239.4 L86.2,239.7 L86.1,240.0 L85.9,240.3 L85.8,240.5 L85.6,240.8 L85.5,241.1 L85.3,241.4 L85.2,241.6 L85.0,241.9 L84.9,242.2 L84.7,242.5 L84.6,242.7 L84.4,243.0 L84.3,243.3 L84.1,243.6 M70.2,264.2 L70.0,264.5 L69.8,264.7 L69.6,264.9 L69.4,265.2 L69.2,265.4 L69.0,265.7 L68.8,265.9 L68.6,266.1 L68.4,266.4 L68.2,266.6 L68.0,266.8 L67.8,267.1 L67.6,267.3 L67.4,267.5 L67.1,267.8 L66.9,268.0 L66.7,268.2 L66.5,268.4 L66.3,268.7 L66.1,268.9 L65.9,269.1 L65.7,269.4 L65.5,269.6 L65.2,269.8 L65.0,270.0 L64.8,270.3 L64.6,270.5 L64.4,270.7 L64.2,270.9 L63.9,271.1 L63.7,271.4 L63.5,271.6 L63.3,271.8 L63.1,272.0 L62.8,272.2 L62.6,272.5 L62.4,272.7 L62.2,272.9 L62.0,273.1 L61.7,273.3 L61.5,273.5 L61.3,273.7 L61.0,274.0 L60.8,274.2 L60.6,274.4 L60.4,274.6 L60.1,274.8 L59.9,275.0 L59.7,275.2 L59.4,275.4 L59.2,275.6 L59.0,275.8 L58.7,276.0 L58.5,276.2 L58.2,276.4 L58.0,276.6 L57.8,276.8 L57.5,277.0 L57.3,277.2 L57.0,277.4 L56.8,277.6 L56.6,277.8 L56.3,278.0 L56.1,278.2 L55.8,278.4 L55.6,278.6 L55.3,278.8 L55.1,279.0 L54.8,279.2 L54.6,279.4 L54.3,279.6 L54.1,279.8 L53.8,280.0 L53.6,280.1 L53.3,280.3 L53.1,280.5 L52.8,280.7 L52.6,280.9 L52.3,281.1 L52.0,281.2 L51.8,281.4 L51.5,281.6 L51.3,281.8 L46.3,285.2" fill="none" stroke="#000" stroke-width="1.85" stroke-linecap="butt"/>
<path d="M127.2,216.4 L126.1,222.3 L126.0,222.7 L125.9,223.2 L125.8,223.6 L125.7,224.0 L125.6,224.5 L125.5,224.9 L125.4,225.4 L125.3,225.8 L125.2,226.2 L125.1,226.7 L125.0,227.1 L124.9,227.6 L124.8,228.0 L124.7,228.4 L124.6,228.9 L124.5,229.3 L124.4,229.7 L124.3,230.2 L124.2,230.6 L124.1,231.0 L123.9,231.5 L123.8,231.9 L123.7,232.3 L123.6,232.8 L123.5,233.2 L123.3,233.6 L123.2,234.1 L123.1,234.5 L123.0,234.9 L122.8,235.3 L122.7,235.8 L122.6,236.2 L122.4,236.6 L122.3,237.0 L122.2,237.5 L122.0,237.9 L121.9,238.3 L121.8,238.7 L121.6,239.2 L121.5,239.6 L121.3,240.0 L121.2,240.4 L121.0,240.8 L120.9,241.3 L120.7,241.7 L120.6,242.1 L120.4,242.5 L120.3,242.9 L120.1,243.4 L120.0,243.8 L119.8,244.2 L119.6,244.6 L119.5,245.0 L119.3,245.4 L119.2,245.8 L119.0,246.3 L118.8,246.7 L118.7,247.1 L118.5,247.5 L118.3,247.9 L118.1,248.3 L118.0,248.7 L117.8,249.1 L117.6,249.5 L117.4,250.0 L117.3,250.4 L117.1,250.8 L116.9,251.2 L116.7,251.6 L116.5,252.0 L116.4,252.4 L116.2,252.8 L116.0,253.2 L115.8,253.6 L115.6,254.0 L115.4,254.4 L115.2,254.8 L115.0,255.2 L114.8,255.6 L114.6,256.0 L114.4,256.4 L114.2,256.8 L114.0,257.2 L113.8,257.6 L113.6,258.0 L113.4,258.4 L113.2,258.8 L113.0,259.1 L112.8,259.5 L112.6,259.9 L112.4,260.3 L112.2,260.7 L112.0,261.1 L111.8,261.5 L111.5,261.9 L111.3,262.3 L111.1,262.7 L110.9,263.0 L110.7,263.4 L110.4,263.8 L110.2,264.2 L110.0,264.6 L109.8,265.0 L109.6,265.3 L109.3,265.7 L109.1,266.1 L108.9,266.5 L108.6,266.9 L108.4,267.2 L108.2,267.6 L107.9,268.0 L107.7,268.4 L107.5,268.7 L107.2,269.1 L107.0,269.5 L106.8,269.9 L106.5,270.2 L106.3,270.6 L106.0,271.0 L105.8,271.4 L105.5,271.7 L105.3,272.1 L105.1,272.5 L104.8,272.8 L104.6,273.2 L104.3,273.6 L104.1,273.9 L103.8,274.3 L103.5,274.7 L103.3,275.0 L103.0,275.4 L102.8,275.7 L102.5,276.1 L102.3,276.5 L102.0,276.8 L101.7,277.2 L101.5,277.5 L101.2,277.9 L100.9,278.3 L100.7,278.6 L100.4,279.0 L100.1,279.3 L99.9,279.7 L99.6,280.0 L99.3,280.4 L99.1,280.7 L98.8,281.1 L98.5,281.4 L98.2,281.8 L98.0,282.1 L97.7,282.5 L97.4,282.8 L97.1,283.2 L96.8,283.5 L96.6,283.9 L96.3,284.2 L96.0,284.5 L95.7,284.9 L95.4,285.2 L95.1,285.6 L94.9,285.9 L94.6,286.2 L94.3,286.6 L94.0,286.9 L93.7,287.3 L93.4,287.6 L93.1,287.9 L92.8,288.3 L92.5,288.6 L92.2,288.9 L91.9,289.3 L91.6,289.6 L91.3,289.9 L91.0,290.2 L90.7,290.6 L90.4,290.9 L90.1,291.2 L89.8,291.5 L89.5,291.9 L89.2,292.2 L88.9,292.5 L88.6,292.8 L88.3,293.2 L88.0,293.5 L87.7,293.8 L87.3,294.1 L87.0,294.4 L86.7,294.8 L86.4,295.1 L86.1,295.4 L85.8,295.7 L85.5,296.0 L85.1,296.3 L84.8,296.6 L84.5,296.9 L84.2,297.3 L83.9,297.6 L83.5,297.9 L83.2,298.2 L82.9,298.5 L82.6,298.8 L82.2,299.1 L81.9,299.4 L81.6,299.7 L81.3,300.0 L80.9,300.3 L80.6,300.6 L80.3,300.9 L79.9,301.2 L79.6,301.5 L79.3,301.8 L78.9,302.1 L78.6,302.4 L78.3,302.7 L77.9,303.0 L77.6,303.3 L77.3,303.6 L76.9,303.8 L76.6,304.1 L76.2,304.4 L75.9,304.7 L75.5,305.0 L75.2,305.3 L74.9,305.6 L74.5,305.9 L74.2,306.1 L73.8,306.4 L73.5,306.7 L73.1,307.0 L72.8,307.3 L72.4,307.5 L72.1,307.8 L71.7,308.1 L71.4,308.4 L71.0,308.6 L70.7,308.9 L70.3,309.2 L70.0,309.5 L69.6,309.7 " fill="none" stroke="#000" stroke-width="1.85" stroke-linecap="butt"/>
<path d="M162.9,216.5 L162.0,222.4 L161.9,223.0 L161.8,223.7 L161.7,224.3 L161.6,225.0 L161.5,225.6 L161.4,226.2 L161.2,226.9 L161.1,227.5 L161.0,228.2 L160.9,228.8 L160.8,229.4 L160.7,230.1 L160.6,230.7 L160.4,231.4 L160.3,232.0 L160.2,232.6 L160.1,233.3 L159.9,233.9 L159.8,234.6 L159.7,235.2 L159.6,235.8 L159.4,236.5 L159.3,237.1 L159.2,237.7 L159.0,238.4 L158.9,239.0 L158.8,239.7 L158.6,240.3 L158.5,240.9 L158.3,241.6 L158.2,242.2 L158.1,242.9 L157.9,243.5 L157.8,244.1 L157.6,244.8 L157.5,245.4 L157.3,246.0 L157.2,246.7 L157.0,247.3 L156.8,247.9 L156.7,248.6 L156.5,249.2 L156.4,249.8 L156.2,250.5 L156.0,251.1 L155.9,251.7 L155.7,252.4 L155.5,253.0 L155.4,253.6 L155.2,254.3 L155.0,254.9 L154.9,255.5 L154.7,256.2 L154.5,256.8 L154.3,257.4 L154.2,258.1 L154.0,258.7 L153.8,259.3 L153.6,260.0 L153.4,260.6 L153.2,261.2 L153.0,261.8 L152.9,262.5 L152.7,263.1 L152.5,263.7 L152.3,264.4 L152.1,265.0 L151.9,265.6 L151.7,266.2 L151.5,266.9 L151.3,267.5 L151.1,268.1 L150.9,268.7 L150.7,269.4 L150.5,270.0 L150.3,270.6 L150.0,271.2 L149.8,271.8 L149.6,272.5 L149.4,273.1 L149.2,273.7 L149.0,274.3 L148.8,274.9 L148.5,275.6 L148.3,276.2 L148.1,276.8 L147.9,277.4 L147.6,278.0 L147.4,278.6 L147.2,279.3 L146.9,279.9 L146.7,280.5 L146.5,281.1 L146.2,281.7 L146.0,282.3 L145.8,282.9 L145.5,283.5 L145.3,284.1 L145.0,284.8 L144.8,285.4 L144.5,286.0 L144.3,286.6 L144.0,287.2 L143.8,287.8 L143.5,288.4 L143.3,289.0 L143.0,289.6 L142.7,290.2 L142.5,290.8 L142.2,291.4 L142.0,292.0 L141.7,292.6 L141.4,293.2 L141.1,293.8 L140.9,294.4 L140.6,295.0 L140.3,295.6 L140.0,296.2 L139.8,296.7 L139.5,297.3 L139.2,297.9 L138.9,298.5 L138.6,299.1 L138.3,299.7 L138.0,300.3 L137.7,300.8 L137.4,301.4 L137.1,302.0 L136.8,302.6 L136.5,303.2 L136.2,303.7 L135.9,304.3 L135.6,304.9 L135.3,305.5 L135.0,306.0 L134.7,306.6 L134.4,307.2 L134.0,307.7 L133.7,308.3 L133.4,308.9 L133.1,309.4 L132.7,310.0 L132.4,310.6 L132.1,311.1 L131.8,311.7 L131.4,312.2 L131.1,312.8 L130.7,313.4 L130.4,313.9 L130.0,314.5 L129.7,315.0 L129.3,315.6 L129.0,316.1 L128.6,316.7 L128.3,317.2 L127.9,317.7 L127.6,318.3 L127.2,318.8 L126.8,319.4 L126.5,319.9 L126.1,320.4 L125.7,321.0 L125.4,321.5 L125.0,322.0 L124.6,322.5 L124.2,323.1 L123.8,323.6 L123.5,324.1 L123.1,324.6 L122.7,325.2 L122.3,325.7 L121.9,326.2 L121.5,326.7 L121.1,327.2 L120.7,327.7 L120.3,328.2 L119.9,328.8 L119.5,329.3 L119.1,329.8 L118.6,330.3 L118.2,330.8 L117.8,331.3 L117.4,331.8 L117.0,332.2 L116.5,332.7 L116.1,333.2 L115.7,333.7 L115.2,334.2 L114.8,334.7 L114.4,335.2 L113.9,335.7 L113.5,336.1 L113.0,336.6 L112.6,337.1 L112.2,337.6 L111.7,338.0 L111.3,338.5 L110.8,339.0 L110.3,339.4 L109.9,339.9 L109.4,340.4 L109.0,340.8 L108.5,341.3 L108.0,341.7 L107.5,342.2 L107.1,342.6 L106.6,343.1 L106.1,343.5 L105.6,344.0 L105.2,344.4 L104.7,344.9 L104.2,345.3 L103.7,345.7 L103.2,346.2 L102.7,346.6 L102.2,347.0 L101.7,347.5 L101.2,347.9 L100.7,348.3 L100.2,348.7 L99.7,349.2 L99.2,349.6 L98.7,350.0 L98.2,350.4 L97.7,350.8 L97.2,351.2 L96.6,351.7 L96.1,352.1 L95.6,352.5 L95.1,352.9 L94.6,353.3 L94.0,353.7 L93.5,354.1 L93.0,354.5 L92.4,354.9 L91.9,355.2 L91.4,355.6 L90.8,356.0 L90.3,356.4 " fill="none" stroke="#000" stroke-width="1.85" stroke-linecap="butt"/>
<line x1="203.79999999999998" x2="203.79999999999998" y1="232" y2="372" stroke="#000" stroke-width="1.0"/>
<line x1="203.29999999999998" x2="203.29999999999998" y1="237.1" y2="240.70000000000002" stroke="#000" stroke-width="1.5"/>
<line x1="203.29999999999998" x2="203.29999999999998" y1="253.1" y2="256.7" stroke="#000" stroke-width="1.5"/>
<line x1="203.29999999999998" x2="203.29999999999998" y1="263.5" y2="267.1" stroke="#000" stroke-width="1.5"/>
<line x1="203.29999999999998" x2="203.29999999999998" y1="274.8" y2="278.40000000000003" stroke="#000" stroke-width="1.5"/>
<line x1="203.29999999999998" x2="203.29999999999998" y1="293.7" y2="297.3" stroke="#000" stroke-width="1.5"/>
<line x1="203.29999999999998" x2="203.29999999999998" y1="311.4" y2="315.0" stroke="#000" stroke-width="1.5"/>
<line x1="203.29999999999998" x2="203.29999999999998" y1="326.5" y2="330.1" stroke="#000" stroke-width="1.5"/>
<line x1="203.29999999999998" x2="203.29999999999998" y1="360.5" y2="364.1" stroke="#000" stroke-width="1.5"/>
<polygon fill="#808080" points="51.3,379.7 51.3,360.2 59.3,360.2 59.3,363.8 80.9,363.8 80.9,367.2 105.5,367.2 105.5,370.8 133.0,370.8 133.0,374.2 167.4,374.2 167.4,377.8 204.6,377.8 204.6,379.7"/>
</g>
<text transform="translate(76.8,254.8) rotate(-55.8) translate(-7.63,4.38) scale(1.1216,1)" x="0.00 6.81" y="0" font-size="12.24" xml:space="preserve">15</text>
<text transform="translate(59.7,317.9) rotate(-37.5) translate(-7.63,4.38) scale(1.1216,1)" x="0.00 6.81" y="0" font-size="12.24" xml:space="preserve">10</text>
<text transform="translate(83.8,361.2) rotate(-35.8) translate(-3.82,4.38) scale(1.1216,1)" x="0.00" y="0" font-size="12.24" xml:space="preserve">5</text>
<rect x="51.3" y="222.6" width="153.30" height="157.10" fill="none" stroke="#000" stroke-width="1.1"/>
<g clip-path="url(#cpE)">
<rect x="250.1" y="222.0" width="154.00" height="2.6" fill="url(#gE0)"/>
<rect x="250.1" y="224.0" width="154.00" height="2.6" fill="url(#gE1)"/>
<rect x="250.1" y="226.0" width="154.00" height="2.6" fill="url(#gE2)"/>
<rect x="250.1" y="228.0" width="154.00" height="2.6" fill="url(#gE3)"/>
<rect x="250.1" y="230.0" width="154.00" height="2.6" fill="url(#gE4)"/>
<rect x="250.1" y="232.0" width="154.00" height="2.6" fill="url(#gE5)"/>
<rect x="250.1" y="234.0" width="154.00" height="2.6" fill="url(#gE6)"/>
<rect x="250.1" y="236.0" width="154.00" height="2.6" fill="url(#gE7)"/>
<rect x="250.1" y="238.0" width="154.00" height="2.6" fill="url(#gE8)"/>
<rect x="250.1" y="240.0" width="154.00" height="2.6" fill="url(#gE9)"/>
<rect x="250.1" y="242.0" width="154.00" height="2.6" fill="url(#gE10)"/>
<rect x="250.1" y="244.0" width="154.00" height="2.6" fill="url(#gE11)"/>
<rect x="250.1" y="246.0" width="154.00" height="2.6" fill="url(#gE12)"/>
<rect x="250.1" y="248.0" width="154.00" height="2.6" fill="url(#gE13)"/>
<rect x="250.1" y="250.0" width="154.00" height="2.6" fill="url(#gE14)"/>
<rect x="250.1" y="252.0" width="154.00" height="2.6" fill="url(#gE15)"/>
<rect x="250.1" y="254.0" width="154.00" height="2.6" fill="url(#gE16)"/>
<rect x="250.1" y="256.0" width="154.00" height="2.6" fill="url(#gE17)"/>
<rect x="250.1" y="258.0" width="154.00" height="2.6" fill="url(#gE18)"/>
<rect x="250.1" y="260.0" width="154.00" height="2.6" fill="url(#gE19)"/>
<rect x="250.1" y="262.0" width="154.00" height="2.6" fill="url(#gE20)"/>
<rect x="250.1" y="264.0" width="154.00" height="2.6" fill="url(#gE21)"/>
<rect x="250.1" y="266.0" width="154.00" height="2.6" fill="url(#gE22)"/>
<rect x="250.1" y="268.0" width="154.00" height="2.6" fill="url(#gE23)"/>
<rect x="250.1" y="270.0" width="154.00" height="2.6" fill="url(#gE24)"/>
<rect x="250.1" y="272.0" width="154.00" height="2.6" fill="url(#gE25)"/>
<rect x="250.1" y="274.0" width="154.00" height="2.6" fill="url(#gE26)"/>
<rect x="250.1" y="276.0" width="154.00" height="2.6" fill="url(#gE27)"/>
<rect x="250.1" y="278.0" width="154.00" height="2.6" fill="url(#gE28)"/>
<rect x="250.1" y="280.0" width="154.00" height="2.6" fill="url(#gE29)"/>
<rect x="250.1" y="282.0" width="154.00" height="2.6" fill="url(#gE30)"/>
<rect x="250.1" y="284.0" width="154.00" height="2.6" fill="url(#gE31)"/>
<rect x="250.1" y="286.0" width="154.00" height="2.6" fill="url(#gE32)"/>
<rect x="250.1" y="288.0" width="154.00" height="2.6" fill="url(#gE33)"/>
<rect x="250.1" y="290.0" width="154.00" height="2.6" fill="url(#gE34)"/>
<rect x="250.1" y="292.0" width="154.00" height="2.6" fill="url(#gE35)"/>
<rect x="250.1" y="294.0" width="154.00" height="2.6" fill="url(#gE36)"/>
<rect x="250.1" y="296.0" width="154.00" height="2.6" fill="url(#gE37)"/>
<rect x="250.1" y="298.0" width="154.00" height="2.6" fill="url(#gE38)"/>
<rect x="250.1" y="300.0" width="154.00" height="2.6" fill="url(#gE39)"/>
<rect x="250.1" y="302.0" width="154.00" height="2.6" fill="url(#gE40)"/>
<rect x="250.1" y="304.0" width="154.00" height="2.6" fill="url(#gE41)"/>
<rect x="250.1" y="306.0" width="154.00" height="2.6" fill="url(#gE42)"/>
<rect x="250.1" y="308.0" width="154.00" height="2.6" fill="url(#gE43)"/>
<rect x="250.1" y="310.0" width="154.00" height="2.6" fill="url(#gE44)"/>
<rect x="250.1" y="312.0" width="154.00" height="2.6" fill="url(#gE45)"/>
<rect x="250.1" y="314.0" width="154.00" height="2.6" fill="url(#gE46)"/>
<rect x="250.1" y="316.0" width="154.00" height="2.6" fill="url(#gE47)"/>
<rect x="250.1" y="318.0" width="154.00" height="2.6" fill="url(#gE48)"/>
<rect x="250.1" y="320.0" width="154.00" height="2.6" fill="url(#gE49)"/>
<rect x="250.1" y="322.0" width="154.00" height="2.6" fill="url(#gE50)"/>
<rect x="250.1" y="324.0" width="154.00" height="2.6" fill="url(#gE51)"/>
<rect x="250.1" y="326.0" width="154.00" height="2.6" fill="url(#gE52)"/>
<rect x="250.1" y="328.0" width="154.00" height="2.6" fill="url(#gE53)"/>
<rect x="250.1" y="330.0" width="154.00" height="2.6" fill="url(#gE54)"/>
<rect x="250.1" y="332.0" width="154.00" height="2.6" fill="url(#gE55)"/>
<rect x="250.1" y="334.0" width="154.00" height="2.6" fill="url(#gE56)"/>
<rect x="250.1" y="336.0" width="154.00" height="2.6" fill="url(#gE57)"/>
<rect x="250.1" y="338.0" width="154.00" height="2.6" fill="url(#gE58)"/>
<rect x="250.1" y="340.0" width="154.00" height="2.6" fill="url(#gE59)"/>
<rect x="250.1" y="342.0" width="154.00" height="2.6" fill="url(#gE60)"/>
<rect x="250.1" y="344.0" width="154.00" height="2.6" fill="url(#gE61)"/>
<rect x="250.1" y="346.0" width="154.00" height="2.6" fill="url(#gE62)"/>
<rect x="250.1" y="348.0" width="154.00" height="2.6" fill="url(#gE63)"/>
<rect x="250.1" y="350.0" width="154.00" height="2.6" fill="url(#gE64)"/>
<rect x="250.1" y="352.0" width="154.00" height="2.6" fill="url(#gE65)"/>
<rect x="250.1" y="354.0" width="154.00" height="2.6" fill="url(#gE66)"/>
<rect x="250.1" y="356.0" width="154.00" height="2.6" fill="url(#gE67)"/>
<rect x="250.1" y="358.0" width="154.00" height="2.6" fill="url(#gE68)"/>
<rect x="250.1" y="360.0" width="154.00" height="2.6" fill="url(#gE69)"/>
<rect x="250.1" y="362.0" width="154.00" height="2.6" fill="url(#gE70)"/>
<rect x="250.1" y="364.0" width="154.00" height="2.6" fill="url(#gE71)"/>
<rect x="250.1" y="366.0" width="154.00" height="2.6" fill="url(#gE72)"/>
<rect x="250.1" y="368.0" width="154.00" height="2.6" fill="url(#gE73)"/>
<rect x="250.1" y="370.0" width="154.00" height="2.6" fill="url(#gE74)"/>
<rect x="250.1" y="372.0" width="154.00" height="2.6" fill="url(#gE75)"/>
<rect x="250.1" y="374.0" width="154.00" height="2.6" fill="url(#gE76)"/>
<rect x="250.1" y="376.0" width="154.00" height="2.6" fill="url(#gE77)"/>
<rect x="250.1" y="378.0" width="154.00" height="2.6" fill="url(#gE78)"/>
<path d="M244.2,279.8 L250.1,279.0 L250.7,278.9 L251.4,278.8 L252.0,278.7 L252.7,278.6 L253.3,278.5 L254.0,278.4 L254.6,278.4 L255.2,278.3 L255.9,278.2 L256.5,278.1 L257.2,278.0 L257.8,277.9 L258.5,277.8 L259.1,277.7 L259.7,277.7 L260.4,277.6 L261.0,277.5 L261.7,277.4 L262.3,277.3 L263.0,277.2 L263.6,277.1 L264.2,277.1 L264.9,277.0 L265.5,276.9 L266.2,276.8 L266.8,276.7 L267.5,276.6 L268.1,276.6 L268.7,276.5 L269.4,276.4 L270.0,276.3 L270.7,276.2 L271.3,276.2 L272.0,276.1 L272.6,276.0 L273.3,275.9 L273.9,275.8 L274.5,275.8 L275.2,275.7 L275.8,275.6 L276.5,275.5 L277.1,275.4 L277.8,275.4 L278.4,275.3 L279.1,275.2 L279.7,275.1 L280.3,275.0 L281.0,275.0 L281.6,274.9 L282.3,274.8 L282.9,274.7 L283.6,274.7 L284.2,274.6 L284.8,274.5 L285.5,274.4 L286.1,274.4 L286.8,274.3 L287.4,274.2 L288.1,274.1 L288.7,274.1 L289.4,274.0 L290.0,273.9 L290.6,273.9 L291.3,273.8 L291.9,273.7 L292.6,273.6 L293.2,273.6 L293.9,273.5 L294.5,273.4 L295.2,273.3 L295.8,273.3 L296.4,273.2 L297.1,273.1 L297.7,273.1 L298.4,273.0 L299.0,272.9 L299.7,272.8 L300.3,272.8 L301.0,272.7 L301.6,272.6 L302.3,272.6 L302.9,272.5 L303.5,272.4 L304.2,272.4 L304.8,272.3 L305.5,272.2 L306.1,272.1 L306.8,272.1 L307.4,272.0 L308.1,271.9 L308.7,271.9 L309.3,271.8 L310.0,271.7 L310.6,271.7 L311.3,271.6 L311.9,271.5 L312.6,271.5 L313.2,271.4 L313.9,271.3 L314.5,271.3 L315.1,271.2 L315.8,271.1 L316.4,271.0 L317.1,271.0 L317.7,270.9 L318.4,270.8 L319.0,270.8 L319.7,270.7 L320.3,270.6 L321.0,270.6 L321.6,270.5 L322.2,270.4 L322.9,270.4 L323.5,270.3 L324.2,270.2 L324.8,270.2 L325.5,270.1 L326.1,270.0 L326.8,270.0 L327.4,269.9 L328.0,269.8 L328.7,269.8 L329.3,269.7 L330.0,269.6 L330.6,269.6 L331.3,269.5 L331.9,269.4 L332.6,269.4 L333.2,269.3 L333.9,269.2 L334.5,269.2 L335.1,269.1 L335.8,269.0 L336.4,269.0 L337.1,268.9 L337.7,268.8 L338.4,268.8 L339.0,268.7 L339.7,268.6 L340.3,268.6 L341.0,268.5 L341.6,268.4 L342.2,268.4 L342.9,268.3 L343.5,268.2 L344.2,268.2 L344.8,268.1 L345.5,268.0 L346.1,268.0 L346.8,267.9 L347.4,267.8 L348.0,267.7 L348.7,267.7 L349.3,267.6 L350.0,267.5 L350.6,267.5 L351.3,267.4 L351.9,267.3 L352.6,267.3 L353.2,267.2 L353.9,267.1 L354.5,267.1 L355.1,267.0 L355.8,266.9 L356.4,266.9 L357.1,266.8 L357.7,266.7 L358.4,266.6 L359.0,266.6 L359.7,266.5 L360.3,266.4 L360.9,266.4 L361.6,266.3 L362.2,266.2 L362.9,266.1 L363.5,266.1 L364.2,266.0 L364.8,265.9 L365.5,265.9 L366.1,265.8 L366.7,265.7 L367.4,265.6 L368.0,265.6 L368.7,265.5 L369.3,265.4 L370.0,265.4 L370.6,265.3 L371.3,265.2 L371.9,265.1 L372.5,265.1 L373.2,265.0 L373.8,264.9 L374.5,264.8 L375.1,264.8 L375.8,264.7 L376.4,264.6 L377.1,264.5 L377.7,264.5 L378.3,264.4 L379.0,264.3 L379.6,264.2 L380.3,264.2 L380.9,264.1 L381.6,264.0 M395.7,262.2 L396.4,262.2 L397.0,262.1 L397.7,262.0 L398.3,261.9 L398.9,261.8 L399.6,261.7 L400.2,261.6 L400.9,261.6 L401.5,261.5 L402.2,261.4 L402.8,261.3 L403.4,261.2 L404.1,261.1 L410.0,260.3" fill="none" stroke="#000" stroke-width="1.85" stroke-linecap="butt"/>
<polygon fill="#808080" points="250.1,379.7 250.1,374.2 404.1,374.2 404.1,379.7"/>
</g>
<text transform="translate(388.5,262.6) rotate(-7.1) translate(-3.82,4.38) scale(1.1216,1)" x="0.00" y="0" font-size="12.24" xml:space="preserve">5</text>
<rect x="250.1" y="222.6" width="154.00" height="157.10" fill="none" stroke="#000" stroke-width="1.1"/>
<g clip-path="url(#cpF)">
<rect x="437.65" y="222.0" width="153.65" height="2.6" fill="url(#gF0)"/>
<rect x="437.65" y="224.0" width="153.65" height="2.6" fill="url(#gF1)"/>
<rect x="437.65" y="226.0" width="153.65" height="2.6" fill="url(#gF2)"/>
<rect x="437.65" y="228.0" width="153.65" height="2.6" fill="url(#gF3)"/>
<rect x="437.65" y="230.0" width="153.65" height="2.6" fill="url(#gF4)"/>
<rect x="437.65" y="232.0" width="153.65" height="2.6" fill="url(#gF5)"/>
<rect x="437.65" y="234.0" width="153.65" height="2.6" fill="url(#gF6)"/>
<rect x="437.65" y="236.0" width="153.65" height="2.6" fill="url(#gF7)"/>
<rect x="437.65" y="238.0" width="153.65" height="2.6" fill="url(#gF8)"/>
<rect x="437.65" y="240.0" width="153.65" height="2.6" fill="url(#gF9)"/>
<rect x="437.65" y="242.0" width="153.65" height="2.6" fill="url(#gF10)"/>
<rect x="437.65" y="244.0" width="153.65" height="2.6" fill="url(#gF11)"/>
<rect x="437.65" y="246.0" width="153.65" height="2.6" fill="url(#gF12)"/>
<rect x="437.65" y="248.0" width="153.65" height="2.6" fill="url(#gF13)"/>
<rect x="437.65" y="250.0" width="153.65" height="2.6" fill="url(#gF14)"/>
<rect x="437.65" y="252.0" width="153.65" height="2.6" fill="url(#gF15)"/>
<rect x="437.65" y="254.0" width="153.65" height="2.6" fill="url(#gF16)"/>
<rect x="437.65" y="256.0" width="153.65" height="2.6" fill="url(#gF17)"/>
<rect x="437.65" y="258.0" width="153.65" height="2.6" fill="url(#gF18)"/>
<rect x="437.65" y="260.0" width="153.65" height="2.6" fill="url(#gF19)"/>
<rect x="437.65" y="262.0" width="153.65" height="2.6" fill="url(#gF20)"/>
<rect x="437.65" y="264.0" width="153.65" height="2.6" fill="url(#gF21)"/>
<rect x="437.65" y="266.0" width="153.65" height="2.6" fill="url(#gF22)"/>
<rect x="437.65" y="268.0" width="153.65" height="2.6" fill="url(#gF23)"/>
<rect x="437.65" y="270.0" width="153.65" height="2.6" fill="url(#gF24)"/>
<rect x="437.65" y="272.0" width="153.65" height="2.6" fill="url(#gF25)"/>
<rect x="437.65" y="274.0" width="153.65" height="2.6" fill="url(#gF26)"/>
<rect x="437.65" y="276.0" width="153.65" height="2.6" fill="url(#gF27)"/>
<rect x="437.65" y="278.0" width="153.65" height="2.6" fill="url(#gF28)"/>
<rect x="437.65" y="280.0" width="153.65" height="2.6" fill="url(#gF29)"/>
<rect x="437.65" y="282.0" width="153.65" height="2.6" fill="url(#gF30)"/>
<rect x="437.65" y="284.0" width="153.65" height="2.6" fill="url(#gF31)"/>
<rect x="437.65" y="286.0" width="153.65" height="2.6" fill="url(#gF32)"/>
<rect x="437.65" y="288.0" width="153.65" height="2.6" fill="url(#gF33)"/>
<rect x="437.65" y="290.0" width="153.65" height="2.6" fill="url(#gF34)"/>
<rect x="437.65" y="292.0" width="153.65" height="2.6" fill="url(#gF35)"/>
<rect x="437.65" y="294.0" width="153.65" height="2.6" fill="url(#gF36)"/>
<rect x="437.65" y="296.0" width="153.65" height="2.6" fill="url(#gF37)"/>
<rect x="437.65" y="298.0" width="153.65" height="2.6" fill="url(#gF38)"/>
<rect x="437.65" y="300.0" width="153.65" height="2.6" fill="url(#gF39)"/>
<rect x="437.65" y="302.0" width="153.65" height="2.6" fill="url(#gF40)"/>
<rect x="437.65" y="304.0" width="153.65" height="2.6" fill="url(#gF41)"/>
<rect x="437.65" y="306.0" width="153.65" height="2.6" fill="url(#gF42)"/>
<rect x="437.65" y="308.0" width="153.65" height="2.6" fill="url(#gF43)"/>
<rect x="437.65" y="310.0" width="153.65" height="2.6" fill="url(#gF44)"/>
<rect x="437.65" y="312.0" width="153.65" height="2.6" fill="url(#gF45)"/>
<rect x="437.65" y="314.0" width="153.65" height="2.6" fill="url(#gF46)"/>
<rect x="437.65" y="316.0" width="153.65" height="2.6" fill="url(#gF47)"/>
<rect x="437.65" y="318.0" width="153.65" height="2.6" fill="url(#gF48)"/>
<rect x="437.65" y="320.0" width="153.65" height="2.6" fill="url(#gF49)"/>
<rect x="437.65" y="322.0" width="153.65" height="2.6" fill="url(#gF50)"/>
<rect x="437.65" y="324.0" width="153.65" height="2.6" fill="url(#gF51)"/>
<rect x="437.65" y="326.0" width="153.65" height="2.6" fill="url(#gF52)"/>
<rect x="437.65" y="328.0" width="153.65" height="2.6" fill="url(#gF53)"/>
<rect x="437.65" y="330.0" width="153.65" height="2.6" fill="url(#gF54)"/>
<rect x="437.65" y="332.0" width="153.65" height="2.6" fill="url(#gF55)"/>
<rect x="437.65" y="334.0" width="153.65" height="2.6" fill="url(#gF56)"/>
<rect x="437.65" y="336.0" width="153.65" height="2.6" fill="url(#gF57)"/>
<rect x="437.65" y="338.0" width="153.65" height="2.6" fill="url(#gF58)"/>
<rect x="437.65" y="340.0" width="153.65" height="2.6" fill="url(#gF59)"/>
<rect x="437.65" y="342.0" width="153.65" height="2.6" fill="url(#gF60)"/>
<rect x="437.65" y="344.0" width="153.65" height="2.6" fill="url(#gF61)"/>
<rect x="437.65" y="346.0" width="153.65" height="2.6" fill="url(#gF62)"/>
<rect x="437.65" y="348.0" width="153.65" height="2.6" fill="url(#gF63)"/>
<rect x="437.65" y="350.0" width="153.65" height="2.6" fill="url(#gF64)"/>
<rect x="437.65" y="352.0" width="153.65" height="2.6" fill="url(#gF65)"/>
<rect x="437.65" y="354.0" width="153.65" height="2.6" fill="url(#gF66)"/>
<rect x="437.65" y="356.0" width="153.65" height="2.6" fill="url(#gF67)"/>
<rect x="437.65" y="358.0" width="153.65" height="2.6" fill="url(#gF68)"/>
<rect x="437.65" y="360.0" width="153.65" height="2.6" fill="url(#gF69)"/>
<rect x="437.65" y="362.0" width="153.65" height="2.6" fill="url(#gF70)"/>
<rect x="437.65" y="364.0" width="153.65" height="2.6" fill="url(#gF71)"/>
<rect x="437.65" y="366.0" width="153.65" height="2.6" fill="url(#gF72)"/>
<rect x="437.65" y="368.0" width="153.65" height="2.6" fill="url(#gF73)"/>
<rect x="437.65" y="370.0" width="153.65" height="2.6" fill="url(#gF74)"/>
<rect x="437.65" y="372.0" width="153.65" height="2.6" fill="url(#gF75)"/>
<rect x="437.65" y="374.0" width="153.65" height="2.6" fill="url(#gF76)"/>
<rect x="437.65" y="376.0" width="153.65" height="2.6" fill="url(#gF77)"/>
<rect x="437.65" y="378.0" width="153.65" height="2.6" fill="url(#gF78)"/>
<path d="M468.2,216.9 L465.7,222.4 L465.6,222.6 L465.5,222.9 L465.3,223.2 L465.2,223.5 L465.1,223.8 L464.9,224.1 L464.8,224.4 L464.7,224.7 L464.5,225.0 L464.4,225.2 L464.3,225.5 L464.2,225.8 L464.0,226.1 L463.9,226.4 L463.8,226.7 L463.6,227.0 L463.5,227.3 L463.4,227.6 L463.3,227.8 L463.1,228.1 L463.0,228.4 L462.9,228.7 L462.8,229.0 L462.6,229.3 L462.5,229.6 L462.4,229.9 L462.2,230.2 L462.1,230.5 L462.0,230.7 L461.9,231.0 L461.7,231.3 L461.6,231.6 L461.5,231.9 L461.4,232.2 L461.2,232.5 L461.1,232.8 L461.0,233.1 L460.9,233.4 L460.7,233.6 L460.6,233.9 L460.5,234.2 L460.4,234.5 L460.2,234.8 L460.1,235.1 L460.0,235.4 L459.9,235.7 L459.7,236.0 L459.6,236.3 L459.5,236.6 L459.4,236.8 L459.3,237.1 L459.1,237.4 L459.0,237.7 L458.9,238.0 L458.8,238.3 L458.6,238.6 L458.5,238.9 L458.4,239.2 L458.3,239.5 L458.2,239.8 L458.0,240.1 L457.9,240.3 L457.8,240.6 L457.7,240.9 L457.6,241.2 L457.4,241.5 L457.3,241.8 L457.2,242.1 L457.1,242.4 L457.0,242.7 L456.8,243.0 L456.7,243.3 L456.6,243.6 L456.5,243.9 L456.4,244.1 L456.2,244.4 L456.1,244.7 L456.0,245.0 L455.9,245.3 L455.8,245.6 L455.6,245.9 L455.5,246.2 L455.4,246.5 L455.3,246.8 L455.2,247.1 L455.0,247.4 L454.9,247.7 L454.8,248.0 L454.7,248.2 L454.6,248.5 L454.5,248.8 L454.3,249.1 L454.2,249.4 L454.1,249.7 L454.0,250.0 L453.9,250.3 L453.7,250.6 L453.6,250.9 L453.5,251.2 L453.4,251.5 L453.3,251.8 L453.2,252.1 L453.0,252.4 L452.9,252.7 L452.8,252.9 L452.7,253.2 L452.6,253.5 L452.5,253.8 L452.3,254.1 L452.2,254.4 L452.1,254.7 L452.0,255.0 L451.9,255.3 L451.8,255.6 L451.7,255.9 L451.5,256.2 L451.4,256.5 L451.3,256.8 L451.2,257.1 L451.1,257.4 L451.0,257.7 L450.8,258.0 L450.7,258.2 L450.6,258.5 L450.5,258.8 L450.4,259.1 L450.3,259.4 L450.2,259.7 L450.0,260.0 L449.9,260.3 L449.8,260.6 L449.7,260.9 L449.6,261.2 L449.5,261.5 L449.4,261.8 L449.2,262.1 L449.1,262.4 L449.0,262.7 L448.9,263.0 M440.0,286.6 L439.9,286.9 L439.8,287.2 L439.6,287.5 L439.5,287.8 L439.4,288.1 L439.3,288.4 L439.2,288.7 L439.1,289.0 L439.0,289.3 L438.9,289.6 L438.8,289.9 L438.6,290.2 L438.5,290.5 L438.4,290.8 L438.3,291.1 L438.2,291.4 L438.1,291.7 L438.0,292.0 L437.9,292.2 L437.8,292.5 L435.7,298.2" fill="none" stroke="#000" stroke-width="1.85" stroke-linecap="butt"/>
<path d="M596.8,266.9 L591.3,269.3 L590.7,269.5 L590.0,269.8 L589.4,270.1 L588.7,270.4 L588.1,270.7 L587.5,270.9 L586.8,271.2 L586.2,271.5 L585.6,271.8 L584.9,272.1 L584.3,272.4 L583.7,272.7 L583.0,273.0 L582.4,273.3 L581.8,273.6 L581.1,273.9 L580.5,274.2 L579.9,274.5 L579.3,274.8 L578.6,275.1 L578.0,275.4 L577.4,275.7 L576.8,276.0 L576.1,276.3 L575.5,276.6 L574.9,276.9 L574.3,277.3 L573.7,277.6 L573.1,277.9 L572.4,278.2 L571.8,278.5 L571.2,278.9 L570.6,279.2 L570.0,279.5 L569.4,279.9 L568.8,280.2 L568.2,280.5 L567.6,280.9 L566.9,281.2 L566.3,281.5 L565.7,281.9 L565.1,282.2 L564.5,282.5 L563.9,282.9 L563.3,283.2 L562.7,283.6 L562.1,283.9 L561.5,284.3 L560.9,284.6 L560.3,285.0 L559.7,285.3 L559.1,285.7 L558.5,286.0 L557.9,286.4 L557.4,286.7 L556.8,287.1 L556.2,287.5 L555.6,287.8 L555.0,288.2 L554.4,288.6 L553.8,288.9 L553.2,289.3 L552.6,289.7 L552.1,290.0 L551.5,290.4 L550.9,290.8 L550.3,291.1 L549.7,291.5 L549.1,291.9 L548.6,292.3 L548.0,292.7 L547.4,293.0 L546.8,293.4 L546.2,293.8 L545.7,294.2 L545.1,294.6 L544.5,295.0 L543.9,295.3 L543.4,295.7 L542.8,296.1 L542.2,296.5 L541.7,296.9 L541.1,297.3 L540.5,297.7 L539.9,298.1 L539.4,298.5 L538.8,298.9 L538.2,299.3 L537.7,299.7 L537.1,300.1 L536.6,300.5 L536.0,300.9 L535.4,301.3 L534.9,301.7 L534.3,302.1 L533.8,302.5 L533.2,302.9 L532.6,303.4 L532.1,303.8 L531.5,304.2 L531.0,304.6 L530.4,305.0 L529.9,305.4 L529.3,305.8 L528.7,306.3 L528.2,306.7 L527.6,307.1 L527.1,307.5 L526.5,307.9 L526.0,308.4 L525.4,308.8 L524.9,309.2 L524.4,309.7 L523.8,310.1 L523.3,310.5 L522.7,310.9 M509.8,321.5 L509.3,322.0 L508.8,322.4 L508.3,322.9 L507.7,323.3 L507.2,323.8 L506.7,324.3 L506.2,324.7 L505.6,325.2 L505.1,325.6 L504.6,326.1 L504.1,326.6 L503.6,327.0 L503.0,327.5 L502.5,327.9 L502.0,328.4 L501.5,328.9 L501.0,329.3 L500.5,329.8 L499.9,330.3 L499.4,330.7 L498.9,331.2 L498.4,331.7 L497.9,332.1 L497.4,332.6 L496.9,333.1 L496.3,333.5 L495.8,334.0 L495.3,334.5 L494.8,335.0 L494.3,335.4 L493.8,335.9 L493.3,336.4 L492.8,336.9 L492.3,337.3 L491.8,337.8 L491.3,338.3 L490.8,338.8 L490.2,339.2 L489.7,339.7 L489.2,340.2 L488.7,340.7 L488.2,341.2 L487.7,341.6 L487.2,342.1 L486.7,342.6 L486.2,343.1 L485.7,343.6 L485.2,344.0 L484.7,344.5 L484.2,345.0 L483.7,345.5 L483.2,346.0 L482.8,346.5 L482.3,347.0 L481.8,347.4 L481.3,347.9 L480.8,348.4 L480.3,348.9 L479.8,349.4 L479.3,349.9 L478.8,350.4 L478.3,350.9 L477.8,351.4 L477.3,351.9 L476.8,352.3 L476.4,352.8 L475.9,353.3 L475.4,353.8 L474.9,354.3 L474.4,354.8 L473.9,355.3 L473.4,355.8 L472.9,356.3 L472.5,356.8 L472.0,357.3 L471.5,357.8 L471.0,358.3 L470.5,358.8 L470.0,359.3 L469.6,359.8 L469.1,360.3 L468.6,360.8 L468.1,361.2 L467.6,361.7 L467.2,362.2 L466.7,362.7 L466.2,363.2 L465.7,363.7 L465.2,364.2 L464.8,364.7 L464.3,365.2 L463.8,365.7 L463.3,366.2 L462.9,366.7 L462.4,367.2 L461.9,367.7 L461.4,368.2 L461.0,368.7 L460.5,369.2 L460.5,369.2" fill="none" stroke="#000" stroke-width="1.85" stroke-linecap="butt"/>
<polygon fill="#808080" points="437.6,379.7 437.6,370.8 509.4,370.8 509.4,374.2 591.3,374.2 591.3,379.7"/>
</g>
<text transform="translate(444.5,275.9) rotate(-69.4) translate(-7.63,4.38) scale(1.1216,1)" x="0.00 6.81" y="0" font-size="12.24" xml:space="preserve">10</text>
<text transform="translate(514.8,317.3) rotate(-39.8) translate(-3.82,4.38) scale(1.1216,1)" x="0.00" y="0" font-size="12.24" xml:space="preserve">5</text>
<rect x="437.65" y="222.6" width="153.65" height="157.10" fill="none" stroke="#000" stroke-width="1.1"/>
<line x1="51.30" y1="175.40" x2="51.30" y2="180.20" stroke="#000" stroke-width="1.1"/>
<text transform="translate(39.76,194.55) scale(1.1216,1)" x="-0.00 7.88 11.82" y="0" font-size="14.17" xml:space="preserve">0.0</text>
<line x1="127.95" y1="175.40" x2="127.95" y2="180.20" stroke="#000" stroke-width="1.1"/>
<text transform="translate(116.41,194.55) scale(1.1216,1)" x="-0.00 7.88 11.82" y="0" font-size="14.17" xml:space="preserve">0.5</text>
<line x1="204.60" y1="175.40" x2="204.60" y2="180.20" stroke="#000" stroke-width="1.1"/>
<text transform="translate(193.06,194.55) scale(1.1216,1)" x="-0.00 7.88 11.82" y="0" font-size="14.17" xml:space="preserve">1.0</text>
<line x1="46.50" y1="175.40" x2="51.30" y2="175.40" stroke="#000" stroke-width="1.1"/>
<text transform="translate(33.86,180.50) scale(1.1216,1)" x="0.00" y="0" font-size="14.17" xml:space="preserve">0</text>
<line x1="48.55" y1="157.94" x2="51.30" y2="157.94" stroke="#000" stroke-width="1.1"/>
<line x1="46.50" y1="140.49" x2="51.30" y2="140.49" stroke="#000" stroke-width="1.1"/>
<text transform="translate(25.03,145.59) scale(1.1216,1)" x="0.00 7.88" y="0" font-size="14.17" xml:space="preserve">10</text>
<line x1="48.55" y1="123.03" x2="51.30" y2="123.03" stroke="#000" stroke-width="1.1"/>
<line x1="46.50" y1="105.58" x2="51.30" y2="105.58" stroke="#000" stroke-width="1.1"/>
<text transform="translate(25.03,110.68) scale(1.1216,1)" x="0.00 7.88" y="0" font-size="14.17" xml:space="preserve">20</text>
<line x1="48.55" y1="88.12" x2="51.30" y2="88.12" stroke="#000" stroke-width="1.1"/>
<line x1="46.50" y1="70.67" x2="51.30" y2="70.67" stroke="#000" stroke-width="1.1"/>
<text transform="translate(25.03,75.77) scale(1.1216,1)" x="0.00 7.88" y="0" font-size="14.17" xml:space="preserve">30</text>
<line x1="48.55" y1="53.21" x2="51.30" y2="53.21" stroke="#000" stroke-width="1.1"/>
<line x1="46.50" y1="35.76" x2="51.30" y2="35.76" stroke="#000" stroke-width="1.1"/>
<text transform="translate(25.03,40.86) scale(1.1216,1)" x="0.00 7.88" y="0" font-size="14.17" xml:space="preserve">40</text>
<line x1="48.55" y1="18.30" x2="51.30" y2="18.30" stroke="#000" stroke-width="1.1"/>
<text transform="translate(51.00,11.20) scale(1.0016,1)" x="-0.00" y="0" font-size="15.19" font-weight="bold" xml:space="preserve">A</text>
<line x1="265.00" y1="175.40" x2="265.00" y2="180.20" stroke="#000" stroke-width="1.1"/>
<text transform="translate(251.24,194.55) scale(1.1216,1)" x="0.00 7.88 15.76" y="0" font-size="14.17" xml:space="preserve">400</text>
<line x1="324.10" y1="175.40" x2="324.10" y2="180.20" stroke="#000" stroke-width="1.1"/>
<text transform="translate(310.34,194.55) scale(1.1216,1)" x="0.00 7.88 15.76" y="0" font-size="14.17" xml:space="preserve">420</text>
<line x1="383.20" y1="175.40" x2="383.20" y2="180.20" stroke="#000" stroke-width="1.1"/>
<text transform="translate(369.44,194.55) scale(1.1216,1)" x="0.00 7.88 15.76" y="0" font-size="14.17" xml:space="preserve">440</text>
<line x1="245.30" y1="175.40" x2="250.10" y2="175.40" stroke="#000" stroke-width="1.1"/>
<text transform="translate(232.66,180.50) scale(1.1216,1)" x="0.00" y="0" font-size="14.17" xml:space="preserve">0</text>
<line x1="247.35" y1="157.94" x2="250.10" y2="157.94" stroke="#000" stroke-width="1.1"/>
<line x1="245.30" y1="140.49" x2="250.10" y2="140.49" stroke="#000" stroke-width="1.1"/>
<text transform="translate(223.83,145.59) scale(1.1216,1)" x="0.00 7.88" y="0" font-size="14.17" xml:space="preserve">10</text>
<line x1="247.35" y1="123.03" x2="250.10" y2="123.03" stroke="#000" stroke-width="1.1"/>
<line x1="245.30" y1="105.58" x2="250.10" y2="105.58" stroke="#000" stroke-width="1.1"/>
<text transform="translate(223.83,110.68) scale(1.1216,1)" x="0.00 7.88" y="0" font-size="14.17" xml:space="preserve">20</text>
<line x1="247.35" y1="88.12" x2="250.10" y2="88.12" stroke="#000" stroke-width="1.1"/>
<line x1="245.30" y1="70.67" x2="250.10" y2="70.67" stroke="#000" stroke-width="1.1"/>
<text transform="translate(223.83,75.77) scale(1.1216,1)" x="0.00 7.88" y="0" font-size="14.17" xml:space="preserve">30</text>
<line x1="247.35" y1="53.21" x2="250.10" y2="53.21" stroke="#000" stroke-width="1.1"/>
<line x1="245.30" y1="35.76" x2="250.10" y2="35.76" stroke="#000" stroke-width="1.1"/>
<text transform="translate(223.83,40.86) scale(1.1216,1)" x="0.00 7.88" y="0" font-size="14.17" xml:space="preserve">40</text>
<line x1="247.35" y1="18.30" x2="250.10" y2="18.30" stroke="#000" stroke-width="1.1"/>
<text transform="translate(250.70,11.20) scale(0.9864,1)" x="0.00" y="0" font-size="15.19" font-weight="bold" xml:space="preserve">B</text>
<line x1="468.70" y1="175.40" x2="468.70" y2="180.20" stroke="#000" stroke-width="1.1"/>
<text transform="translate(459.36,194.55) scale(1.1216,1)" x="0.00 7.88" y="0" font-size="14.17" xml:space="preserve">60</text>
<line x1="521.00" y1="175.40" x2="521.00" y2="180.20" stroke="#000" stroke-width="1.1"/>
<text transform="translate(511.66,194.55) scale(1.1216,1)" x="0.00 7.88" y="0" font-size="14.17" xml:space="preserve">80</text>
<line x1="573.30" y1="175.40" x2="573.30" y2="180.20" stroke="#000" stroke-width="1.1"/>
<text transform="translate(559.54,194.55) scale(1.1216,1)" x="0.00 7.88 15.76" y="0" font-size="14.17" xml:space="preserve">100</text>
<line x1="432.85" y1="175.40" x2="437.65" y2="175.40" stroke="#000" stroke-width="1.1"/>
<text transform="translate(420.21,180.50) scale(1.1216,1)" x="0.00" y="0" font-size="14.17" xml:space="preserve">0</text>
<line x1="434.90" y1="157.94" x2="437.65" y2="157.94" stroke="#000" stroke-width="1.1"/>
<line x1="432.85" y1="140.49" x2="437.65" y2="140.49" stroke="#000" stroke-width="1.1"/>
<text transform="translate(411.38,145.59) scale(1.1216,1)" x="0.00 7.88" y="0" font-size="14.17" xml:space="preserve">10</text>
<line x1="434.90" y1="123.03" x2="437.65" y2="123.03" stroke="#000" stroke-width="1.1"/>
<line x1="432.85" y1="105.58" x2="437.65" y2="105.58" stroke="#000" stroke-width="1.1"/>
<text transform="translate(411.38,110.68) scale(1.1216,1)" x="0.00 7.88" y="0" font-size="14.17" xml:space="preserve">20</text>
<line x1="434.90" y1="88.12" x2="437.65" y2="88.12" stroke="#000" stroke-width="1.1"/>
<line x1="432.85" y1="70.67" x2="437.65" y2="70.67" stroke="#000" stroke-width="1.1"/>
<text transform="translate(411.38,75.77) scale(1.1216,1)" x="0.00 7.88" y="0" font-size="14.17" xml:space="preserve">30</text>
<line x1="434.90" y1="53.21" x2="437.65" y2="53.21" stroke="#000" stroke-width="1.1"/>
<line x1="432.85" y1="35.76" x2="437.65" y2="35.76" stroke="#000" stroke-width="1.1"/>
<text transform="translate(411.38,40.86) scale(1.1216,1)" x="0.00 7.88" y="0" font-size="14.17" xml:space="preserve">40</text>
<line x1="434.90" y1="18.30" x2="437.65" y2="18.30" stroke="#000" stroke-width="1.1"/>
<text transform="translate(438.25,11.20) scale(0.9500,1)" x="-0.00" y="0" font-size="15.19" font-weight="bold" xml:space="preserve">C</text>
<line x1="51.30" y1="379.70" x2="51.30" y2="384.50" stroke="#000" stroke-width="1.1"/>
<text transform="translate(39.76,398.85) scale(1.1216,1)" x="-0.00 7.88 11.82" y="0" font-size="14.17" xml:space="preserve">0.0</text>
<line x1="127.95" y1="379.70" x2="127.95" y2="384.50" stroke="#000" stroke-width="1.1"/>
<text transform="translate(116.41,398.85) scale(1.1216,1)" x="-0.00 7.88 11.82" y="0" font-size="14.17" xml:space="preserve">0.5</text>
<line x1="204.60" y1="379.70" x2="204.60" y2="384.50" stroke="#000" stroke-width="1.1"/>
<text transform="translate(193.06,398.85) scale(1.1216,1)" x="-0.00 7.88 11.82" y="0" font-size="14.17" xml:space="preserve">1.0</text>
<line x1="46.50" y1="379.70" x2="51.30" y2="379.70" stroke="#000" stroke-width="1.1"/>
<text transform="translate(33.86,384.80) scale(1.1216,1)" x="0.00" y="0" font-size="14.17" xml:space="preserve">0</text>
<line x1="48.55" y1="362.24" x2="51.30" y2="362.24" stroke="#000" stroke-width="1.1"/>
<line x1="46.50" y1="344.79" x2="51.30" y2="344.79" stroke="#000" stroke-width="1.1"/>
<text transform="translate(25.03,349.89) scale(1.1216,1)" x="0.00 7.88" y="0" font-size="14.17" xml:space="preserve">10</text>
<line x1="48.55" y1="327.33" x2="51.30" y2="327.33" stroke="#000" stroke-width="1.1"/>
<line x1="46.50" y1="309.88" x2="51.30" y2="309.88" stroke="#000" stroke-width="1.1"/>
<text transform="translate(25.03,314.98) scale(1.1216,1)" x="0.00 7.88" y="0" font-size="14.17" xml:space="preserve">20</text>
<line x1="48.55" y1="292.42" x2="51.30" y2="292.42" stroke="#000" stroke-width="1.1"/>
<line x1="46.50" y1="274.97" x2="51.30" y2="274.97" stroke="#000" stroke-width="1.1"/>
<text transform="translate(25.03,280.07) scale(1.1216,1)" x="0.00 7.88" y="0" font-size="14.17" xml:space="preserve">30</text>
<line x1="48.55" y1="257.51" x2="51.30" y2="257.51" stroke="#000" stroke-width="1.1"/>
<line x1="46.50" y1="240.06" x2="51.30" y2="240.06" stroke="#000" stroke-width="1.1"/>
<text transform="translate(25.03,245.16) scale(1.1216,1)" x="0.00 7.88" y="0" font-size="14.17" xml:space="preserve">40</text>
<line x1="48.55" y1="222.60" x2="51.30" y2="222.60" stroke="#000" stroke-width="1.1"/>
<text transform="translate(51.90,215.50) scale(1.0742,1)" x="-0.00" y="0" font-size="15.19" font-weight="bold" xml:space="preserve">D</text>
<line x1="265.00" y1="379.70" x2="265.00" y2="384.50" stroke="#000" stroke-width="1.1"/>
<text transform="translate(251.24,398.85) scale(1.1216,1)" x="0.00 7.88 15.76" y="0" font-size="14.17" xml:space="preserve">400</text>
<line x1="324.10" y1="379.70" x2="324.10" y2="384.50" stroke="#000" stroke-width="1.1"/>
<text transform="translate(310.34,398.85) scale(1.1216,1)" x="0.00 7.88 15.76" y="0" font-size="14.17" xml:space="preserve">420</text>
<line x1="383.20" y1="379.70" x2="383.20" y2="384.50" stroke="#000" stroke-width="1.1"/>
<text transform="translate(369.44,398.85) scale(1.1216,1)" x="0.00 7.88 15.76" y="0" font-size="14.17" xml:space="preserve">440</text>
<line x1="245.30" y1="379.70" x2="250.10" y2="379.70" stroke="#000" stroke-width="1.1"/>
<text transform="translate(232.66,384.80) scale(1.1216,1)" x="0.00" y="0" font-size="14.17" xml:space="preserve">0</text>
<line x1="247.35" y1="362.24" x2="250.10" y2="362.24" stroke="#000" stroke-width="1.1"/>
<line x1="245.30" y1="344.79" x2="250.10" y2="344.79" stroke="#000" stroke-width="1.1"/>
<text transform="translate(223.83,349.89) scale(1.1216,1)" x="0.00 7.88" y="0" font-size="14.17" xml:space="preserve">10</text>
<line x1="247.35" y1="327.33" x2="250.10" y2="327.33" stroke="#000" stroke-width="1.1"/>
<line x1="245.30" y1="309.88" x2="250.10" y2="309.88" stroke="#000" stroke-width="1.1"/>
<text transform="translate(223.83,314.98) scale(1.1216,1)" x="0.00 7.88" y="0" font-size="14.17" xml:space="preserve">20</text>
<line x1="247.35" y1="292.42" x2="250.10" y2="292.42" stroke="#000" stroke-width="1.1"/>
<line x1="245.30" y1="274.97" x2="250.10" y2="274.97" stroke="#000" stroke-width="1.1"/>
<text transform="translate(223.83,280.07) scale(1.1216,1)" x="0.00 7.88" y="0" font-size="14.17" xml:space="preserve">30</text>
<line x1="247.35" y1="257.51" x2="250.10" y2="257.51" stroke="#000" stroke-width="1.1"/>
<line x1="245.30" y1="240.06" x2="250.10" y2="240.06" stroke="#000" stroke-width="1.1"/>
<text transform="translate(223.83,245.16) scale(1.1216,1)" x="0.00 7.88" y="0" font-size="14.17" xml:space="preserve">40</text>
<line x1="247.35" y1="222.60" x2="250.10" y2="222.60" stroke="#000" stroke-width="1.1"/>
<text transform="translate(250.70,215.50) scale(0.9572,1)" x="0.00" y="0" font-size="15.19" font-weight="bold" xml:space="preserve">E</text>
<line x1="468.70" y1="379.70" x2="468.70" y2="384.50" stroke="#000" stroke-width="1.1"/>
<text transform="translate(459.36,398.85) scale(1.1216,1)" x="0.00 7.88" y="0" font-size="14.17" xml:space="preserve">60</text>
<line x1="521.00" y1="379.70" x2="521.00" y2="384.50" stroke="#000" stroke-width="1.1"/>
<text transform="translate(511.66,398.85) scale(1.1216,1)" x="0.00 7.88" y="0" font-size="14.17" xml:space="preserve">80</text>
<line x1="573.30" y1="379.70" x2="573.30" y2="384.50" stroke="#000" stroke-width="1.1"/>
<text transform="translate(559.54,398.85) scale(1.1216,1)" x="0.00 7.88 15.76" y="0" font-size="14.17" xml:space="preserve">100</text>
<line x1="432.85" y1="379.70" x2="437.65" y2="379.70" stroke="#000" stroke-width="1.1"/>
<text transform="translate(420.21,384.80) scale(1.1216,1)" x="0.00" y="0" font-size="14.17" xml:space="preserve">0</text>
<line x1="434.90" y1="362.24" x2="437.65" y2="362.24" stroke="#000" stroke-width="1.1"/>
<line x1="432.85" y1="344.79" x2="437.65" y2="344.79" stroke="#000" stroke-width="1.1"/>
<text transform="translate(411.38,349.89) scale(1.1216,1)" x="0.00 7.88" y="0" font-size="14.17" xml:space="preserve">10</text>
<line x1="434.90" y1="327.33" x2="437.65" y2="327.33" stroke="#000" stroke-width="1.1"/>
<line x1="432.85" y1="309.88" x2="437.65" y2="309.88" stroke="#000" stroke-width="1.1"/>
<text transform="translate(411.38,314.98) scale(1.1216,1)" x="0.00 7.88" y="0" font-size="14.17" xml:space="preserve">20</text>
<line x1="434.90" y1="292.42" x2="437.65" y2="292.42" stroke="#000" stroke-width="1.1"/>
<line x1="432.85" y1="274.97" x2="437.65" y2="274.97" stroke="#000" stroke-width="1.1"/>
<text transform="translate(411.38,280.07) scale(1.1216,1)" x="0.00 7.88" y="0" font-size="14.17" xml:space="preserve">30</text>
<line x1="434.90" y1="257.51" x2="437.65" y2="257.51" stroke="#000" stroke-width="1.1"/>
<line x1="432.85" y1="240.06" x2="437.65" y2="240.06" stroke="#000" stroke-width="1.1"/>
<text transform="translate(411.38,245.16) scale(1.1216,1)" x="0.00 7.88" y="0" font-size="14.17" xml:space="preserve">40</text>
<line x1="434.90" y1="222.60" x2="437.65" y2="222.60" stroke="#000" stroke-width="1.1"/>
<text transform="translate(438.25,215.50) scale(1.0451,1)" x="-0.00" y="0" font-size="15.19" font-weight="bold" xml:space="preserve">F</text>
<rect x="602.1" y="18.3" width="16.20" height="157.10" fill="url(#cb1)" stroke="#000" stroke-width="1.1"/>
<line x1="618.30" y1="175.40" x2="623.10" y2="175.40" stroke="#000" stroke-width="1.1"/>
<text transform="translate(626.20,181.00) scale(1.1216,1)" x="-0.00 7.88 11.82" y="0" font-size="14.17" xml:space="preserve">0.4</text>
<line x1="618.30" y1="140.49" x2="623.10" y2="140.49" stroke="#000" stroke-width="1.1"/>
<text transform="translate(626.20,146.09) scale(1.1216,1)" x="-0.00 7.88 11.82" y="0" font-size="14.17" xml:space="preserve">0.6</text>
<line x1="618.30" y1="105.58" x2="623.10" y2="105.58" stroke="#000" stroke-width="1.1"/>
<text transform="translate(626.20,111.18) scale(1.1216,1)" x="-0.00 7.88 11.82" y="0" font-size="14.17" xml:space="preserve">0.8</text>
<line x1="618.30" y1="70.67" x2="623.10" y2="70.67" stroke="#000" stroke-width="1.1"/>
<text transform="translate(626.20,76.27) scale(1.1216,1)" x="-0.00 7.88 11.82" y="0" font-size="14.17" xml:space="preserve">1.0</text>
<line x1="618.30" y1="35.76" x2="623.10" y2="35.76" stroke="#000" stroke-width="1.1"/>
<text transform="translate(626.20,41.36) scale(1.1216,1)" x="-0.00 7.88 11.82" y="0" font-size="14.17" xml:space="preserve">1.2</text>
<line x1="618.30" y1="157.94" x2="621.05" y2="157.94" stroke="#000" stroke-width="1.1"/>
<line x1="618.30" y1="123.03" x2="621.05" y2="123.03" stroke="#000" stroke-width="1.1"/>
<line x1="618.30" y1="88.12" x2="621.05" y2="88.12" stroke="#000" stroke-width="1.1"/>
<line x1="618.30" y1="53.21" x2="621.05" y2="53.21" stroke="#000" stroke-width="1.1"/>
<line x1="618.30" y1="18.30" x2="621.05" y2="18.30" stroke="#000" stroke-width="1.1"/>
<rect x="602.1" y="222.6" width="16.20" height="157.10" fill="url(#cb2)" stroke="#000" stroke-width="1.1"/>
<line x1="618.30" y1="379.70" x2="623.10" y2="379.70" stroke="#000" stroke-width="1.1"/>
<text transform="translate(626.20,385.30) scale(1.1216,1)" x="0.00" y="0" font-size="14.17" xml:space="preserve">0</text>
<line x1="618.30" y1="348.28" x2="623.10" y2="348.28" stroke="#000" stroke-width="1.1"/>
<text transform="translate(626.20,353.88) scale(1.1216,1)" x="0.00" y="0" font-size="14.17" xml:space="preserve">5</text>
<line x1="618.30" y1="316.86" x2="623.10" y2="316.86" stroke="#000" stroke-width="1.1"/>
<text transform="translate(626.20,322.46) scale(1.1216,1)" x="0.00 7.88" y="0" font-size="14.17" xml:space="preserve">10</text>
<line x1="618.30" y1="285.44" x2="623.10" y2="285.44" stroke="#000" stroke-width="1.1"/>
<text transform="translate(626.20,291.04) scale(1.1216,1)" x="0.00 7.88" y="0" font-size="14.17" xml:space="preserve">15</text>
<line x1="618.30" y1="254.02" x2="623.10" y2="254.02" stroke="#000" stroke-width="1.1"/>
<text transform="translate(626.20,259.62) scale(1.1216,1)" x="0.00 7.88" y="0" font-size="14.17" xml:space="preserve">20</text>
<line x1="618.30" y1="222.60" x2="623.10" y2="222.60" stroke="#000" stroke-width="1.1"/>
<text transform="translate(626.20,228.20) scale(1.1216,1)" x="0.00 7.88" y="0" font-size="14.17" xml:space="preserve">25</text>
<line x1="618.30" y1="363.99" x2="621.05" y2="363.99" stroke="#000" stroke-width="1.1"/>
<line x1="618.30" y1="332.57" x2="621.05" y2="332.57" stroke="#000" stroke-width="1.1"/>
<line x1="618.30" y1="301.15" x2="621.05" y2="301.15" stroke="#000" stroke-width="1.1"/>
<line x1="618.30" y1="269.73" x2="621.05" y2="269.73" stroke="#000" stroke-width="1.1"/>
<line x1="618.30" y1="238.31" x2="621.05" y2="238.31" stroke="#000" stroke-width="1.1"/>
<text transform="translate(54.88,420.30) scale(1.1345,1)" x="-1.04 9.34 18.74 22.45 32.19 37.59 41.62 50.01 59.23 63.85 73.16 82.62 97.01 100.88 110.42 114.87 120.21" y="0" font-size="17.00" xml:space="preserve">Relative humidity</text>
<text transform="translate(326.70,420.30) translate(-104.40,0.00) scale(0.9715,1)" x="-0.14 12.13" y="0" font-size="17.00" xml:space="preserve">CO</text>
<text transform="translate(326.70,420.30) translate(-79.62,3.30) scale(1.1224,1)" x="0.00" y="0" font-size="11.90" xml:space="preserve">2</text>
<text transform="translate(326.70,420.30) translate(-72.19,0.00) scale(1.1325,1)" x="-0.02 4.48 12.56 21.73 30.93 39.03 48.23 58.16 63.60 69.25 79.02 84.42 88.14 97.31 106.69 111.43 117.08 126.44 135.93 150.23" y="0" font-size="17.00" xml:space="preserve"> concentration (ppm)</text>
<text transform="translate(455.12,420.30) scale(1.0622,1)" x="-0.94 9.58 15.40 24.79 32.97 41.55 51.65 57.46 67.15 72.24 78.43 86.28 96.06 105.83" y="0" font-size="17.00" xml:space="preserve">Pressure (kPa)</text>
<text transform="translate(15.30,95.65) rotate(-90) translate(-88.10,0.00) scale(1.1505,1)" x="-0.66 10.17 14.27 20.08 25.29 30.30 39.59 53.73 62.89 72.30 77.91 87.63 92.78 102.34 107.64 116.84 121.56" y="0" font-size="17.00" xml:space="preserve">Air temperature (</text>
<text transform="translate(15.30,95.65) rotate(-90) translate(61.07,-4.20) scale(1.2395,1)" x="0.00" y="0" font-size="11.90" xml:space="preserve">°</text>
<text transform="translate(15.30,95.65) rotate(-90) translate(69.75,0.00) scale(1.0226,1)" x="-0.38 11.89" y="0" font-size="17.00" xml:space="preserve">C)</text>
<text transform="translate(15.30,299.95) rotate(-90) translate(-88.10,0.00) scale(1.1505,1)" x="-0.66 10.17 14.27 20.08 25.29 30.30 39.59 53.73 62.89 72.30 77.91 87.63 92.78 102.34 107.64 116.84 121.56" y="0" font-size="17.00" xml:space="preserve">Air temperature (</text>
<text transform="translate(15.30,299.95) rotate(-90) translate(61.07,-4.20) scale(1.2395,1)" x="0.00" y="0" font-size="11.90" xml:space="preserve">°</text>
<text transform="translate(15.30,299.95) rotate(-90) translate(69.75,0.00) scale(1.0226,1)" x="-0.38 11.89" y="0" font-size="17.00" xml:space="preserve">C)</text>
<text transform="translate(666.80,96.85) rotate(-90) translate(-63.49,0.00) scale(1.1198,1)" x="-0.94 10.23 19.51 28.80 37.93 46.45 50.97 56.40 65.06 70.05 74.86 83.99 92.89 98.00 107.51" y="0" font-size="17.00" xml:space="preserve">Capacity factor</text>
<text transform="translate(661.20,301.15) rotate(-90) translate(-78.10,0.00) scale(1.0945,1)" x="-0.86 9.88 18.58 28.08 37.57 47.26 53.16 63.18 68.75 73.01 81.73 91.20 96.21 100.15 109.25 117.19 125.36 134.49" y="0" font-size="17.00" xml:space="preserve">Evaporative losses</text>
<text transform="translate(680.40,301.30) rotate(-90) translate(-47.90,0.00) scale(1.1148,1)" x="0.05 6.30 10.97" y="0" font-size="17.00" xml:space="preserve">(tH</text>
<text transform="translate(680.40,301.30) rotate(-90) translate(-22.63,2.80) scale(1.1081,1)" x="0.00" y="0" font-size="11.90" xml:space="preserve">2</text>
<text transform="translate(680.40,301.30) rotate(-90) translate(-15.30,0.00) scale(1.0261,1)" x="-0.30 12.98 18.83 23.80 35.25" y="0" font-size="17.00" xml:space="preserve">O/tCO</text>
<text transform="translate(680.40,301.30) rotate(-90) translate(34.14,2.80) scale(1.1081,1)" x="0.00" y="0" font-size="11.90" xml:space="preserve">2</text>
<text transform="translate(680.40,301.30) rotate(-90) translate(41.47,0.00) scale(1.1348,1)" x="0.00" y="0" font-size="17.00" xml:space="preserve">)</text>
</g>
</svg>
</body></html>
